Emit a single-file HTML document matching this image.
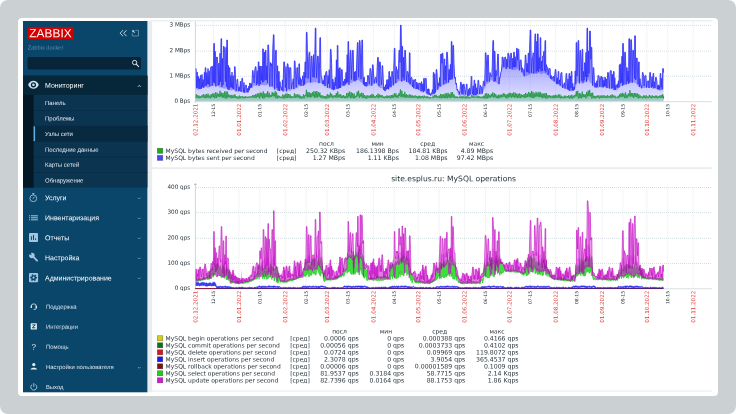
<!DOCTYPE html>
<html lang="ru"><head><meta charset="utf-8"><title>Zabbix</title>
<style>html,body{margin:0;padding:0;background:#fff;}
body{width:736px;height:414px;overflow:hidden;}
svg{display:block;}
.l{font-family:"Liberation Sans",sans-serif;}
.d{font-family:"DejaVu Sans","Liberation Sans",sans-serif;}
</style></head>
<body>
<svg width="736" height="414" viewBox="0 0 736 414">
<defs><clipPath id="cp"><rect x="152" y="21.4" width="559.9" height="370"/></clipPath></defs>
<rect x="0" y="0" width="736" height="414" rx="8" fill="#cbd0d2"/>
<rect x="18" y="18" width="700" height="378" rx="4" fill="#fff"/>
<rect x="147.4" y="21" width="4.7" height="371.3" fill="#eaedf0"/>
<rect x="150.5" y="20.1" width="561.3" height="1.4" fill="#ebeef0"/>
<rect x="152" y="167.3" width="559.8" height="1.6" fill="#e9ecef"/>
<rect x="150.5" y="390.4" width="561.3" height="1.3" fill="#ebeef0"/>
<rect x="23" y="21" width="124.4" height="371.3" fill="#0a466a"/>
<rect x="27.6" y="26.9" width="45.7" height="12.3" fill="#d40000"/>
<text class="l" transform="translate(50.5 37.3) rotate(0.03)" font-size="11.8" fill="#fff" text-anchor="middle" letter-spacing="0.12">ZABBIX</text>
<text class="l" transform="translate(27.7 49.4) rotate(0.03)" font-size="5.7" fill="#5a8db3">Zabbix docker</text>
<rect x="27.6" y="57" width="113.4" height="12.4" rx="1.5" fill="#082438"/>
<rect x="23" y="75.6" width="124.4" height="112" fill="#0b3451"/>
<rect x="23" y="75.6" width="124.4" height="19.2" fill="#062639"/>
<rect x="23" y="94.8" width="10.6" height="92.8" fill="#031824"/>
<rect x="33.6" y="126" width="113.8" height="15.45" fill="#072a41"/>
<rect x="33.6" y="126" width="1.5" height="15.45" fill="#66aee0"/>
<rect x="33.6" y="110.25" width="113.8" height="0.7" fill="#082b44"/>
<rect x="33.6" y="125.7" width="113.8" height="0.7" fill="#082b44"/>
<rect x="33.6" y="141.15" width="113.8" height="0.7" fill="#082b44"/>
<rect x="33.6" y="156.6" width="113.8" height="0.7" fill="#082b44"/>
<rect x="33.6" y="172.05" width="113.8" height="0.7" fill="#082b44"/>
<text class="l" transform="translate(45 87.85) rotate(0.03)" font-size="7" fill="#fff">Мониторинг</text>
<text class="l" transform="translate(45 200.25) rotate(0.03)" font-size="7" fill="#fff">Услуги</text>
<text class="l" transform="translate(45 220.25) rotate(0.03)" font-size="7" fill="#fff">Инвентаризация</text>
<text class="l" transform="translate(45 240.35) rotate(0.03)" font-size="7" fill="#fff">Отчеты</text>
<text class="l" transform="translate(45 260.35) rotate(0.03)" font-size="7" fill="#fff">Настройка</text>
<text class="l" transform="translate(45 280.45) rotate(0.03)" font-size="7" fill="#fff">Администрирование</text>
<text class="l" transform="translate(45 105.1) rotate(0.03)" font-size="6" fill="#e8ebf1">Панель</text>
<text class="l" transform="translate(45 120.6) rotate(0.03)" font-size="6" fill="#e8ebf1">Проблемы</text>
<text class="l" transform="translate(45 135.9) rotate(0.03)" font-size="6" fill="#e8ebf1">Узлы сети</text>
<text class="l" transform="translate(45 151.7) rotate(0.03)" font-size="6" fill="#e8ebf1">Последние данные</text>
<text class="l" transform="translate(45 166.7) rotate(0.03)" font-size="6" fill="#e8ebf1">Карты сетей</text>
<text class="l" transform="translate(45 182.6) rotate(0.03)" font-size="6" fill="#e8ebf1">Обнаружение</text>
<text class="l" transform="translate(45.9 308.7) rotate(0.03)" font-size="5.9" fill="#dde6ee">Поддержка</text>
<text class="l" transform="translate(45.9 328.8) rotate(0.03)" font-size="5.9" fill="#dde6ee">Интеграции</text>
<text class="l" transform="translate(45.9 348.8) rotate(0.03)" font-size="5.9" fill="#dde6ee">Помощь</text>
<text class="l" transform="translate(45.9 368.9) rotate(0.03)" font-size="5.9" fill="#dde6ee">Настройки пользователя</text>
<text class="l" transform="translate(45.9 388.9) rotate(0.03)" font-size="5.9" fill="#dde6ee">Выход</text>
<path d="M123 30.2 L120.2 33.2 L123 36.2 M126.5 30.2 L123.7 33.2 L126.5 36.2" fill="none" stroke="#e2ecf3" stroke-width="0.85"/>
<path d="M135.2 30.3 H138.5 V36 H132.3 V33.2" fill="none" stroke="#7fa6c2" stroke-width="0.7"/><path d="M132.3 30.3 h2.2 l-0.8 0.8 1.3 1.3 -0.6 0.6 -1.3 -1.3 -0.8 0.8z" fill="#d6e4ee"/>
<circle cx="134.6" cy="62.5" r="2.15" fill="none" stroke="#e8eff4" stroke-width="0.9"/><path d="M136.2 64.2 L138.9 66.9" stroke="#e8eff4" stroke-width="1.05" fill="none"/>
<path d="M28.1 84.8 C30.2 79.4 36.7 79.4 38.8 84.8 C36.7 90.2 30.2 90.2 28.1 84.8Z" fill="#cfe0ec"/><circle cx="33.45" cy="84.8" r="2.6" fill="#062639"/><circle cx="33.45" cy="84.8" r="1.3" fill="#cfe0ec"/>
<path d="M137.9 86.8 l1.4 -1.4 1.4 1.4" fill="none" stroke="#d5e2ec" stroke-width="0.9"/>
<path d="M138 197.7 l1.3 1.3 1.3 -1.3" fill="none" stroke="#a9c4d8" stroke-width="0.6"/>
<path d="M138 217.7 l1.3 1.3 1.3 -1.3" fill="none" stroke="#a9c4d8" stroke-width="0.6"/>
<path d="M138 237.7 l1.3 1.3 1.3 -1.3" fill="none" stroke="#a9c4d8" stroke-width="0.6"/>
<path d="M138 257.7 l1.3 1.3 1.3 -1.3" fill="none" stroke="#a9c4d8" stroke-width="0.6"/>
<path d="M138 277.7 l1.3 1.3 1.3 -1.3" fill="none" stroke="#a9c4d8" stroke-width="0.6"/>
<path d="M138 367 l1.3 1.3 1.3 -1.3" fill="none" stroke="#a9c4d8" stroke-width="0.6"/>
<circle cx="33.3" cy="198.3" r="3.4" fill="none" stroke="#a3c5dd" stroke-width="0.85"/><path d="M32.2 193.5 h2.2 M33.3 193.8 v1.2 M32.7 198.9 l1.9 -2.1" stroke="#a3c5dd" stroke-width="0.85" fill="none"/>
<rect x="29" y="215.3" width="1" height="1" fill="#a3c5dd"/>
<rect x="30.9" y="215.3" width="7" height="1" fill="#a3c5dd"/>
<rect x="29" y="217.3" width="1" height="1" fill="#a3c5dd"/>
<rect x="30.9" y="217.3" width="7" height="1" fill="#a3c5dd"/>
<rect x="29" y="219.3" width="1" height="1" fill="#a3c5dd"/>
<rect x="30.9" y="219.3" width="7" height="1" fill="#a3c5dd"/>
<rect x="29" y="233" width="9" height="9" rx="0.9" fill="#a3c5dd"/>
<rect x="30.9" y="236.3" width="1" height="3.6" fill="#0a466a"/>
<rect x="33" y="235" width="1" height="4.9" fill="#0a466a"/>
<rect x="35.1" y="238.4" width="1" height="1.5" fill="#0a466a"/>
<path d="M32.6 256.2 L37.1 260.7" stroke="#a3c5dd" stroke-width="1.9" stroke-linecap="round" fill="none"/>
<circle cx="31.9" cy="255.5" r="2.75" fill="#a3c5dd"/>
<path d="M31.6 255.2 L30.6 251.6 L27.6 253.4 Z" fill="#0a466a"/>
<rect x="29" y="273.1" width="9.1" height="9.1" rx="0.9" fill="#a3c5dd"/>
<circle cx="33.55" cy="277.65" r="2.7" fill="none" stroke="#0a466a" stroke-width="1.5" stroke-dasharray="1.414 1.414" transform="rotate(-15 33.55 277.65)"/>
<circle cx="33.55" cy="277.65" r="2.5" fill="#0a466a"/><circle cx="33.55" cy="277.65" r="1.05" fill="#a3c5dd"/>
<path d="M31.2 306.4 a2.55 2.55 0 0 1 5.1 0 v1.6 a1.4 1.4 0 0 1 -1.4 1.4 h-1.2" fill="none" stroke="#e4edf3" stroke-width="0.8"/>
<rect x="30.6" y="305.7" width="1.3" height="2.3" rx="0.3" fill="#e4edf3"/>
<rect x="35.6" y="305.7" width="1.3" height="2.3" rx="0.3" fill="#e4edf3"/>
<rect x="30.7" y="323.2" width="6.2" height="6.2" rx="0.4" fill="#e4edf3"/>
<path d="M32.3 324.9 h3 l-3 2.9 h3" fill="none" stroke="#0a466a" stroke-width="1"/>
<text class="l" transform="translate(33.8 349.7) rotate(0.03)" font-size="8" fill="#e4edf3" text-anchor="middle">?</text>
<circle cx="33.8" cy="364.6" r="1.6" fill="#e4edf3"/><path d="M30.6 369.6 c0 -2.6 6.4 -2.6 6.4 0z" fill="#e4edf3"/>
<path d="M32.2 384.5 a3 3 0 1 0 3.2 0 M33.8 383.2 v3.6" fill="none" stroke="#e4edf3" stroke-width="0.7"/>
<g clip-path="url(#cp)">
<path d="M196 25.40 H711" stroke="#c3d0d6" stroke-width="0.7" stroke-dasharray="1 1" fill="none"/>
<text class="d" transform="translate(190.3 26.6) rotate(0.03)" font-size="5.7" fill="#1f2c33" text-anchor="end">3 MBps</text>
<path d="M196 51.15 H711" stroke="#c3d0d6" stroke-width="0.7" stroke-dasharray="1 1" fill="none"/>
<text class="d" transform="translate(190.3 52.35) rotate(0.03)" font-size="5.7" fill="#1f2c33" text-anchor="end">2 MBps</text>
<path d="M196 76.30 H711" stroke="#c3d0d6" stroke-width="0.7" stroke-dasharray="1 1" fill="none"/>
<text class="d" transform="translate(190.3 77.5) rotate(0.03)" font-size="5.7" fill="#1f2c33" text-anchor="end">1 MBps</text>
<text class="d" transform="translate(190.3 102.7) rotate(0.03)" font-size="5.7" fill="#1f2c33" text-anchor="end">0 Bps</text>
<text class="d" transform="translate(197.4 103.6) rotate(-90.03)" font-size="5.6" fill="#e33734" text-anchor="end">02.12.2021</text>
<path d="M213.50 21 V101.5" stroke="#d3dce1" stroke-width="0.9" stroke-opacity="0.5" stroke-dasharray="1.3 0.7" fill="none"/>
<text class="d" transform="translate(215.05 103.9) rotate(-90.03)" font-size="4.5" fill="#1f2c33" text-anchor="end">12-15</text>
<path d="M238.90 21 V101.5" stroke="#d3dce1" stroke-width="0.9" stroke-opacity="0.5" stroke-dasharray="1.3 0.7" fill="none"/>
<text class="d" transform="translate(240.9 103.6) rotate(-90.03)" font-size="5.6" fill="#e33734" text-anchor="end">01.01.2022</text>
<path d="M259.82 21 V101.5" stroke="#d3dce1" stroke-width="0.9" stroke-opacity="0.5" stroke-dasharray="1.3 0.7" fill="none"/>
<text class="d" transform="translate(261.37 103.9) rotate(-90.03)" font-size="4.5" fill="#1f2c33" text-anchor="end">01-15</text>
<path d="M285.23 21 V101.5" stroke="#d3dce1" stroke-width="0.9" stroke-opacity="0.5" stroke-dasharray="1.3 0.7" fill="none"/>
<text class="d" transform="translate(287.23 103.6) rotate(-90.03)" font-size="5.6" fill="#e33734" text-anchor="end">01.02.2022</text>
<path d="M306.15 21 V101.5" stroke="#d3dce1" stroke-width="0.9" stroke-opacity="0.5" stroke-dasharray="1.3 0.7" fill="none"/>
<text class="d" transform="translate(307.7 103.9) rotate(-90.03)" font-size="4.5" fill="#1f2c33" text-anchor="end">02-15</text>
<path d="M327.07 21 V101.5" stroke="#d3dce1" stroke-width="0.9" stroke-opacity="0.5" stroke-dasharray="1.3 0.7" fill="none"/>
<text class="d" transform="translate(329.07 103.6) rotate(-90.03)" font-size="5.6" fill="#e33734" text-anchor="end">01.03.2022</text>
<path d="M347.99 21 V101.5" stroke="#d3dce1" stroke-width="0.9" stroke-opacity="0.5" stroke-dasharray="1.3 0.7" fill="none"/>
<text class="d" transform="translate(349.54 103.9) rotate(-90.03)" font-size="4.5" fill="#1f2c33" text-anchor="end">03-15</text>
<path d="M373.40 21 V101.5" stroke="#d3dce1" stroke-width="0.9" stroke-opacity="0.5" stroke-dasharray="1.3 0.7" fill="none"/>
<text class="d" transform="translate(375.4 103.6) rotate(-90.03)" font-size="5.6" fill="#e33734" text-anchor="end">01.04.2022</text>
<path d="M394.32 21 V101.5" stroke="#d3dce1" stroke-width="0.9" stroke-opacity="0.5" stroke-dasharray="1.3 0.7" fill="none"/>
<text class="d" transform="translate(395.87 103.9) rotate(-90.03)" font-size="4.5" fill="#1f2c33" text-anchor="end">04-15</text>
<path d="M418.23 21 V101.5" stroke="#d3dce1" stroke-width="0.9" stroke-opacity="0.5" stroke-dasharray="1.3 0.7" fill="none"/>
<text class="d" transform="translate(420.23 103.6) rotate(-90.03)" font-size="5.6" fill="#e33734" text-anchor="end">01.05.2022</text>
<path d="M439.15 21 V101.5" stroke="#d3dce1" stroke-width="0.9" stroke-opacity="0.5" stroke-dasharray="1.3 0.7" fill="none"/>
<text class="d" transform="translate(440.7 103.9) rotate(-90.03)" font-size="4.5" fill="#1f2c33" text-anchor="end">05-15</text>
<path d="M464.55 21 V101.5" stroke="#d3dce1" stroke-width="0.9" stroke-opacity="0.5" stroke-dasharray="1.3 0.7" fill="none"/>
<text class="d" transform="translate(466.55 103.6) rotate(-90.03)" font-size="5.6" fill="#e33734" text-anchor="end">01.06.2022</text>
<path d="M485.48 21 V101.5" stroke="#d3dce1" stroke-width="0.9" stroke-opacity="0.5" stroke-dasharray="1.3 0.7" fill="none"/>
<text class="d" transform="translate(487.03 103.9) rotate(-90.03)" font-size="4.5" fill="#1f2c33" text-anchor="end">06-15</text>
<path d="M509.39 21 V101.5" stroke="#d3dce1" stroke-width="0.9" stroke-opacity="0.5" stroke-dasharray="1.3 0.7" fill="none"/>
<text class="d" transform="translate(511.39 103.6) rotate(-90.03)" font-size="5.6" fill="#e33734" text-anchor="end">01.07.2022</text>
<path d="M530.31 21 V101.5" stroke="#d3dce1" stroke-width="0.9" stroke-opacity="0.5" stroke-dasharray="1.3 0.7" fill="none"/>
<text class="d" transform="translate(531.86 103.9) rotate(-90.03)" font-size="4.5" fill="#1f2c33" text-anchor="end">07-15</text>
<path d="M555.71 21 V101.5" stroke="#d3dce1" stroke-width="0.9" stroke-opacity="0.5" stroke-dasharray="1.3 0.7" fill="none"/>
<text class="d" transform="translate(557.71 103.6) rotate(-90.03)" font-size="5.6" fill="#e33734" text-anchor="end">01.08.2022</text>
<path d="M576.63 21 V101.5" stroke="#d3dce1" stroke-width="0.9" stroke-opacity="0.5" stroke-dasharray="1.3 0.7" fill="none"/>
<text class="d" transform="translate(578.18 103.9) rotate(-90.03)" font-size="4.5" fill="#1f2c33" text-anchor="end">08-15</text>
<path d="M602.04 21 V101.5" stroke="#d3dce1" stroke-width="0.9" stroke-opacity="0.5" stroke-dasharray="1.3 0.7" fill="none"/>
<text class="d" transform="translate(604.04 103.6) rotate(-90.03)" font-size="5.6" fill="#e33734" text-anchor="end">01.09.2022</text>
<path d="M622.96 21 V101.5" stroke="#d3dce1" stroke-width="0.9" stroke-opacity="0.5" stroke-dasharray="1.3 0.7" fill="none"/>
<text class="d" transform="translate(624.51 103.9) rotate(-90.03)" font-size="4.5" fill="#1f2c33" text-anchor="end">09-15</text>
<path d="M646.87 21 V101.5" stroke="#d3dce1" stroke-width="0.9" stroke-opacity="0.5" stroke-dasharray="1.3 0.7" fill="none"/>
<text class="d" transform="translate(648.87 103.6) rotate(-90.03)" font-size="5.6" fill="#e33734" text-anchor="end">01.10.2022</text>
<path d="M667.79 21 V101.5" stroke="#d3dce1" stroke-width="0.9" stroke-opacity="0.5" stroke-dasharray="1.3 0.7" fill="none"/>
<text class="d" transform="translate(669.34 103.9) rotate(-90.03)" font-size="4.5" fill="#1f2c33" text-anchor="end">10-15</text>
<path d="M693.20 21 V101.5" stroke="#d3dce1" stroke-width="0.9" stroke-opacity="0.5" stroke-dasharray="1.3 0.7" fill="none"/>
<text class="d" transform="translate(695.2 103.6) rotate(-90.03)" font-size="5.6" fill="#e33734" text-anchor="end">01.11.2022</text>
<defs><linearGradient id="gb" gradientUnits="userSpaceOnUse" x1="0" y1="30" x2="0" y2="101"><stop offset="0" stop-color="#4a4aff" stop-opacity="0.7"/><stop offset="0.5" stop-color="#5252ff" stop-opacity="0.5"/><stop offset="0.8" stop-color="#6060ff" stop-opacity="0.32"/><stop offset="1" stop-color="#7070ff" stop-opacity="0.2"/></linearGradient><linearGradient id="gg" gradientUnits="userSpaceOnUse" x1="0" y1="88" x2="0" y2="101"><stop offset="0" stop-color="#00aa00" stop-opacity="0.7"/><stop offset="1" stop-color="#2a9a5a" stop-opacity="0.28"/></linearGradient></defs>
<path d="M195.4 101.5 195.5 68.6 196.1 68.6 196.6 87.7 197.2 72 197.8 87.9 198.4 76.3 199 89.1 199.6 78.6 200.2 88.9 200.3 75.4 200.9 75.4 201.4 88.6 202 74.4 202.6 87.2 203.2 79.6 203.8 87.9 204.4 72.3 205 85.8 205.2 67.7 205.8 67.7 206.2 85.8 206.8 72.5 207.4 84.1 208 68.5 208.6 84.3 209.2 70.9 209.8 86.6 210.4 68.8 211 66.7 211.6 66.7 212.2 86 212.8 65.9 213.4 82.4 213.8 43.5 214.4 43.5 214.6 83.1 215.2 51.3 215.8 86.4 216.4 59 216.7 57 217.3 57 217.6 63.4 218.2 85.5 218.8 63.1 219.4 84.6 220 53.2 220.6 81.7 221 38.7 221.6 38.7 221.8 86.9 222.4 58.5 223 85.1 223.5 46.4 224.1 46.4 224.8 53.4 225.4 81.7 226 47.2 226.6 86.7 226.8 40 227.4 40 227.8 89.3 228.4 65.3 229 90.1 229.3 67.7 229.9 67.7 230.2 87.5 230.8 75.5 231.4 87.3 232 72.1 232.6 88.4 233.2 75.7 233.8 89.2 234.4 73.9 234.5 66.7 235.1 66.7 235.6 82.3 236.2 90.9 236.8 82.7 237 79.3 237.6 79.3 238 84.6 238.6 91.2 239.2 86.8 239.8 90.7 240.4 81.2 241 91.8 241.6 84.1 241.9 78.3 242.5 78.3 242.8 83.1 243.4 92.4 244 82.5 244.6 92.6 245.2 87.6 245.7 85.1 246.3 85.1 247 92 247.6 88.4 248.2 92.2 248.8 86 249.4 90.1 249.6 83.1 250.2 83.1 250.6 87.9 251.2 83.5 251.8 87.6 252.5 70.6 253.1 70.6 253.6 78.5 254.2 83 254.8 70 255.4 66.7 256 66.7 256.6 85.2 257.2 70.7 257.8 83.6 258.3 61.9 258.9 61.9 259 86 259.6 66.1 260.2 84.1 260.8 66 261.4 80.3 262 66 262.6 82.7 262.7 48.9 263.3 48.9 263.8 81.6 264.4 52.1 265 80.2 265.4 50.3 266 50.3 266.2 80 266.8 65.8 267.4 83.1 267.9 44.9 268.5 44.9 269.2 65 269.8 86.6 270.4 62.4 270.8 65.7 271.4 65.7 271.6 63.6 272.2 86.2 272.8 48.4 273.4 34.8 274 34.8 274.6 89.4 275.2 55.9 275.7 50.3 276.3 50.3 276.4 72.5 277 88 277.6 65.7 278.2 90.7 278.6 71.5 279.2 71.5 279.4 91 280 81.6 280.5 87 281.1 87 281.8 90.3 282.4 79.8 283 91.4 283.6 68 283.8 61.9 284.4 61.9 284.8 67.6 285.4 87.5 286 66.6 286.6 91.5 287.3 63.8 287.9 63.8 288.4 68 289 88.9 289.6 67.8 290.2 67.7 290.8 67.7 291.4 88.8 292.1 83.1 292.7 83.1 293.2 78.7 293.8 89.1 294.4 60.9 295 60.9 295.6 75.2 296.2 87.4 296.8 70 296.9 67.7 297.5 67.7 298 78.7 298.6 84.2 298.9 63.8 299.5 63.8 299.8 84.6 300.4 77.6 301 86 301.6 79.7 301.8 79.3 302.4 79.3 302.8 75.7 303.4 85.6 304 72 304.6 84.4 305 61.9 305.6 61.9 305.8 77.8 306.4 32.3 307 32.3 307.6 65.6 308.2 78.5 308.8 56.6 309.1 52.2 309.7 52.2 310 58.2 310.6 82.6 311.2 59.4 311.4 56.1 312 56.1 312.4 68 313 77.1 313.6 54.6 314.2 77.6 314.8 57.2 315.3 28.1 315.9 28.1 316 53.2 316.6 77.8 317.2 64.2 317.6 56.1 318.2 56.1 318.4 61.5 319 83 319.6 62 319.9 37.7 320.5 37.7 320.8 68.5 321.3 77.3 321.9 77.3 322 78.4 322.6 84 323.2 80.4 323.8 84 324.4 75.3 325 86.1 325.6 74 326.1 71.5 326.7 71.5 327.4 87.7 328 75.4 328.6 83.7 329.2 69.7 329.8 87.9 330.4 49.3 331 49.3 331.6 63.7 332.2 89.1 332.5 79.3 333.1 79.3 333.4 90 334 82.2 334.6 89.3 335.2 77.3 335.8 85.8 336.4 59.8 337 88.8 337.3 45.4 337.9 45.4 338.2 88.5 338.8 68.5 339.4 88 339.6 67.7 340.2 67.7 340.6 87.8 341.2 79.1 341.6 69.6 342.2 69.6 342.4 75.9 343 85.7 343.6 81.3 344.2 85.6 344.5 79.3 345.1 79.3 345.4 84.2 346 72.4 346.6 82.8 347.2 54.6 347.8 82.2 348 41.6 348.6 41.6 349 84.9 349.6 64.7 350.3 50.3 350.9 50.3 351.4 79.5 352 61.7 352.6 50.3 353.2 50.3 353.8 80.4 354.4 71.9 355 81.4 355.1 71.5 355.7 71.5 356.2 80.3 356.8 59.2 357.4 42.6 358 42.6 358.6 77.3 359.2 59.2 359.4 40.6 360 40.6 360.4 52.2 361 79.1 361.6 53.9 361.9 40 362.5 40 362.8 65.7 363.4 84.4 363.8 77.3 364.4 77.3 364.6 85.6 365.2 82 365.8 86.2 366.4 82 367 85.5 367.7 75.4 368.3 75.4 368.8 80.6 369.4 84.1 370 68.6 370.6 68.6 371.2 72.4 371.8 85.6 372.5 64.8 373.1 64.8 373.6 75 374.2 83.1 374.8 79.2 375.4 77.3 376 77.3 376.6 82.6 377.2 66.7 377.7 57.4 378.3 57.4 379 86.1 379.6 61.9 380.2 61.9 380.8 70.7 381.4 84.8 382 76.7 382.1 65.7 382.7 65.7 383.2 78.2 383.8 90 384.1 87 384.7 87 385 91.1 385.6 84.7 386.2 89.6 386.8 79.7 387.4 88.8 388 79.4 388.6 89.3 388.9 71.5 389.5 71.5 389.8 86.5 390.4 76.7 391 87.2 391.6 80.5 391.8 71.5 392.4 71.5 392.8 77.2 393.4 85.3 394 59.9 394.3 48.3 394.9 48.3 395.2 68 395.8 83 396.4 66.7 396.6 69.6 397.2 69.6 397.6 74.3 398.2 79.1 398.8 59.3 399 50.3 399.6 50.3 400 62.4 400.5 25.2 401.1 25.2 401.8 81.5 402 46.4 402.6 46.4 403 77.4 403.6 57.2 404.2 80.5 404.8 50.3 405.4 50.3 406 69.1 406.6 82 407.3 71.5 407.9 71.5 408.4 73.9 409 82.6 409.4 52.8 410 52.8 410.2 84.2 410.8 77.8 411.1 77.3 411.7 77.3 412 78.4 412.6 87 413.2 79.7 413.8 88.3 414.4 79.9 415 79.3 415.6 79.3 416.2 89 416.8 82.1 417.4 88.8 418 82.9 418.6 89.7 419.2 83.3 419.8 83.1 420.4 83.1 421 91.1 421.6 81.6 422.2 90.5 422.8 83.8 423.4 92.2 423.7 78.3 424.3 78.3 424.6 90.7 425.2 79.6 425.6 78.3 426.2 78.3 426.4 83.7 427 93.3 427.6 89.1 428.2 94.3 428.5 88.9 429.1 88.9 429.4 94.6 430 93.1 430.6 95.6 431.2 93.8 431.4 92.8 432 92.8 432.4 89.6 433 93.9 433.3 72.5 433.9 72.5 434.2 93.9 434.8 73.8 435.4 92.5 436 80 436.2 69.6 436.8 69.6 437.2 76.2 437.8 89.5 438.2 83.1 438.8 83.1 439 85.7 439.6 77.5 440.2 86.5 440.7 54.1 440.9 54.1 441.3 54.1 441.5 54.1 442 63.3 442.3 53.2 442.9 53.2 443.2 63.9 443.8 84.5 444.2 59 444.8 59 445 80.1 445.6 65.7 446.2 83.2 446.7 52.2 447.3 52.2 448 65.2 448.6 82.6 449 69.6 449.6 69.6 449.8 79.8 450.4 64.4 451 79.5 451.3 41.6 451.9 41.6 452.2 79.3 452.9 45.4 453.5 45.4 454 63.5 454.6 78.2 454.8 77.3 455.4 77.3 455.8 84.2 456.4 83.2 457 90.1 457.6 89.2 457.7 90.9 458.3 90.9 458.8 91.1 459.4 94.3 460 90.4 460.6 82.2 461.2 82.2 461.8 93.7 462.4 84.5 463 94.5 463.5 84.1 464.1 84.1 464.8 89.9 465.4 94.4 466 88.6 466.4 84.1 467 84.1 467.2 90.2 467.8 96 468.4 89.4 469 95.5 469.3 88 469.9 88 470.2 94.2 470.8 88.3 471.2 76.4 471.8 76.4 472 87.1 472.6 94.1 473.2 85.8 473.8 95.3 474.1 80.2 474.7 80.2 475 95.4 475.6 83.8 476.2 95.3 476.8 87.7 477.4 93.9 478 80.2 478.6 80.2 479.2 87.5 479.8 94.1 480.4 85.3 480.9 87 481.5 87 481.6 89.8 482.2 93.6 482.8 86.9 483.4 81.2 484 81.2 484.6 85.8 485.2 64.6 485.3 52.8 485.9 52.8 486.4 59.7 487 81.6 487.7 55.1 488.3 55.1 488.8 74 489.4 81.5 490 72.5 490.6 75.4 491.2 75.4 491.8 76.8 492.4 62.8 492.9 40.6 493.5 40.6 493.6 46.7 494.2 81.7 494.4 51.2 495 51.2 495.4 80.9 496 70.3 496.4 75.4 497 75.4 497.2 67.5 497.7 54.1 498.3 54.1 499 84.1 499.6 77.3 500.2 77.3 500.8 72.3 501.4 71 502 63.8 502.1 57 502.7 57 503.2 58.1 503.8 66.9 504.4 58.6 505 57 505.6 57 506.2 69.1 506.8 59 507.4 67 507.9 53.2 508.5 53.2 509.2 56.1 509.8 68.9 510.4 62.1 510.8 53.2 511.4 53.2 511.6 58.8 512.2 69.4 512.8 58.1 513.4 67 513.7 52.2 514.3 52.2 514.6 67.3 515.2 56.7 515.8 67 516.4 57.9 516.6 48.3 517.2 48.3 517.6 60.1 518.2 49.3 518.8 49.3 519.4 70.4 520 60.5 520.5 59.9 521.1 59.9 521.8 72.2 522.4 67.7 522.8 69.6 523.4 69.6 523.6 70.6 524.2 76.3 524.8 67.1 525.3 55.1 525.9 55.1 526.6 72.2 527.2 63.2 527.8 72 528.2 53.2 528.8 53.2 529 73.2 529.6 49.2 530.2 30 530.8 30 531.4 73.1 532.1 58 532.7 58 533.2 52.7 533.8 73.6 534.4 57.4 535 33.9 535.6 33.9 536.2 72.6 536.8 41.3 537.4 70.9 537.5 33.9 538.1 33.9 538.6 72 539.2 57.4 539.8 68.8 540.2 37.7 540.8 37.7 541 71.3 541.6 61 542.2 71 542.7 56.1 543.3 56.1 544 51.1 544.6 70.6 545 40.6 545.6 40.6 545.8 72.4 546.4 64.6 546.6 66.7 547.2 66.7 547.6 67.5 548.2 75.1 548.8 68.7 549.5 68.6 550.1 68.6 550.6 78.6 551.2 75.4 551.8 79.4 552.4 77.3 553 77.3 553.6 76 554.2 81.4 554.8 74.3 555.3 69.6 555.9 69.6 556 71.4 556.6 83.8 557.2 77.8 557.8 83.9 558.2 71.5 558.8 71.5 559 83.7 559.6 79.9 560.2 85.7 560.8 73.8 561.3 72.5 561.9 72.5 562 76.1 562.6 88 563.2 85.1 563.8 85.1 564.4 82.7 565 88.6 565.6 83.5 566.1 73.5 566.7 73.5 567.4 89.3 568 78.9 568.6 89.7 569 73.5 569.6 73.5 569.8 90.9 570.4 76 571 88 571.3 71.5 571.9 71.5 572.2 90.3 572.8 83.4 573.4 90.6 573.8 87 574.4 87 574.6 89.5 575.2 70.9 575.8 84.1 576.2 42.6 576.8 42.6 577 76.1 577.6 62.2 578.1 40.6 578.7 40.6 579.4 83.4 580 50.3 580.6 50.3 581.2 59.9 581.8 80.7 582.2 49.3 582.8 49.3 583 82.5 583.6 71.3 584.2 80.3 584.5 62.8 585.1 62.8 585.4 76.7 586 52.4 586.6 81.7 587 28.1 587.6 28.1 587.8 77.1 588.4 50.8 589 73.3 589.7 31 590.3 31 590.8 59.3 591.2 47.4 591.8 47.4 592 63.1 592.6 85.6 593.2 67.7 593.8 67.7 594.4 81.4 595 87.1 595.1 83.1 595.7 83.1 596.2 87.6 596.8 80.7 597.4 86.6 598 75.4 598.6 75.4 599.2 76.5 599.8 86.8 600.4 80.2 600.9 76.4 601.5 76.4 601.6 78.1 602.2 86.7 602.8 77.1 603.4 87.3 604 80 604.6 86.1 604.8 77.3 605.4 77.3 605.8 86.3 606.4 78.9 607 88 607.7 72.5 608.3 72.5 608.8 79 609.4 88.3 610 71.9 610.6 70.6 611.2 70.6 611.8 88.5 612.4 74.3 613 87.9 613.5 71.5 614.1 71.5 614.2 89.7 614.8 77.7 615.4 89.9 616 85.2 616.4 87 617 87 617.2 83.8 617.8 87.8 618.4 80.8 619 87.3 619.3 64.8 619.9 64.8 620.2 83.4 620.8 63.7 621.4 82.6 622 56.1 622.6 85.8 622.7 43.5 623.3 43.5 623.8 84.6 624.4 70.1 624.7 52.2 625.3 52.2 625.6 61.3 626.2 84.3 626.6 67.7 627.2 67.7 627.4 81.3 628 71 628.6 83.7 628.9 38.7 629.5 38.7 629.8 82.7 630.4 64.8 630.8 39.7 631.4 39.7 631.6 45.1 632.2 82.8 632.8 50.3 633.4 50.3 634 64 634.6 78.6 634.7 35.8 635.3 35.8 635.8 79.9 636.4 59.1 636.6 58 637.2 58 637.6 74.1 638.2 84.2 638.6 61.9 639.2 61.9 639.4 86.9 640 78.5 640.5 85.1 641.1 85.1 641.8 88.3 642.4 72.5 643 72.5 643.6 76.8 644.2 86.2 644.8 75.9 645.3 75.4 645.9 75.4 646.6 87.6 647.3 81.2 647.9 81.2 648.4 80.8 649 88 649.6 78.1 649.8 72.5 650.4 72.5 650.8 80.8 651.4 87.8 652 76.6 652.6 86.4 653.1 73.5 653.7 73.5 653.8 88.2 654.4 81.7 655 87.9 655.6 77.3 656.2 77.3 656.8 80.9 657.4 89.3 657.9 85.1 658.5 85.1 658.6 89.3 659.2 85.5 659.8 89.7 660.2 73.5 660.8 73.5 661 87.3 661.6 78.4 662.2 89.4 662.7 68.6 663.3 68.6 663.6 72.6 663.6 101.5 Z" fill="url(#gb)" stroke="none"/>
<path d="M195.5 68.6 196.1 68.6 196.6 87.7 197.2 72 197.8 87.9 198.4 76.3 199 89.1 199.6 78.6 200.2 88.9 200.3 75.4 200.9 75.4 201.4 88.6 202 74.4 202.6 87.2 203.2 79.6 203.8 87.9 204.4 72.3 205 85.8 205.2 67.7 205.8 67.7 206.2 85.8 206.8 72.5 207.4 84.1 208 68.5 208.6 84.3 209.2 70.9 209.8 86.6 210.4 68.8 211 66.7 211.6 66.7 212.2 86 212.8 65.9 213.4 82.4 213.8 43.5 214.4 43.5 214.6 83.1 215.2 51.3 215.8 86.4 216.4 59 216.7 57 217.3 57 217.6 63.4 218.2 85.5 218.8 63.1 219.4 84.6 220 53.2 220.6 81.7 221 38.7 221.6 38.7 221.8 86.9 222.4 58.5 223 85.1 223.5 46.4 224.1 46.4 224.8 53.4 225.4 81.7 226 47.2 226.6 86.7 226.8 40 227.4 40 227.8 89.3 228.4 65.3 229 90.1 229.3 67.7 229.9 67.7 230.2 87.5 230.8 75.5 231.4 87.3 232 72.1 232.6 88.4 233.2 75.7 233.8 89.2 234.4 73.9 234.5 66.7 235.1 66.7 235.6 82.3 236.2 90.9 236.8 82.7 237 79.3 237.6 79.3 238 84.6 238.6 91.2 239.2 86.8 239.8 90.7 240.4 81.2 241 91.8 241.6 84.1 241.9 78.3 242.5 78.3 242.8 83.1 243.4 92.4 244 82.5 244.6 92.6 245.2 87.6 245.7 85.1 246.3 85.1 247 92 247.6 88.4 248.2 92.2 248.8 86 249.4 90.1 249.6 83.1 250.2 83.1 250.6 87.9 251.2 83.5 251.8 87.6 252.5 70.6 253.1 70.6 253.6 78.5 254.2 83 254.8 70 255.4 66.7 256 66.7 256.6 85.2 257.2 70.7 257.8 83.6 258.3 61.9 258.9 61.9 259 86 259.6 66.1 260.2 84.1 260.8 66 261.4 80.3 262 66 262.6 82.7 262.7 48.9 263.3 48.9 263.8 81.6 264.4 52.1 265 80.2 265.4 50.3 266 50.3 266.2 80 266.8 65.8 267.4 83.1 267.9 44.9 268.5 44.9 269.2 65 269.8 86.6 270.4 62.4 270.8 65.7 271.4 65.7 271.6 63.6 272.2 86.2 272.8 48.4 273.4 34.8 274 34.8 274.6 89.4 275.2 55.9 275.7 50.3 276.3 50.3 276.4 72.5 277 88 277.6 65.7 278.2 90.7 278.6 71.5 279.2 71.5 279.4 91 280 81.6 280.5 87 281.1 87 281.8 90.3 282.4 79.8 283 91.4 283.6 68 283.8 61.9 284.4 61.9 284.8 67.6 285.4 87.5 286 66.6 286.6 91.5 287.3 63.8 287.9 63.8 288.4 68 289 88.9 289.6 67.8 290.2 67.7 290.8 67.7 291.4 88.8 292.1 83.1 292.7 83.1 293.2 78.7 293.8 89.1 294.4 60.9 295 60.9 295.6 75.2 296.2 87.4 296.8 70 296.9 67.7 297.5 67.7 298 78.7 298.6 84.2 298.9 63.8 299.5 63.8 299.8 84.6 300.4 77.6 301 86 301.6 79.7 301.8 79.3 302.4 79.3 302.8 75.7 303.4 85.6 304 72 304.6 84.4 305 61.9 305.6 61.9 305.8 77.8 306.4 32.3 307 32.3 307.6 65.6 308.2 78.5 308.8 56.6 309.1 52.2 309.7 52.2 310 58.2 310.6 82.6 311.2 59.4 311.4 56.1 312 56.1 312.4 68 313 77.1 313.6 54.6 314.2 77.6 314.8 57.2 315.3 28.1 315.9 28.1 316 53.2 316.6 77.8 317.2 64.2 317.6 56.1 318.2 56.1 318.4 61.5 319 83 319.6 62 319.9 37.7 320.5 37.7 320.8 68.5 321.3 77.3 321.9 77.3 322 78.4 322.6 84 323.2 80.4 323.8 84 324.4 75.3 325 86.1 325.6 74 326.1 71.5 326.7 71.5 327.4 87.7 328 75.4 328.6 83.7 329.2 69.7 329.8 87.9 330.4 49.3 331 49.3 331.6 63.7 332.2 89.1 332.5 79.3 333.1 79.3 333.4 90 334 82.2 334.6 89.3 335.2 77.3 335.8 85.8 336.4 59.8 337 88.8 337.3 45.4 337.9 45.4 338.2 88.5 338.8 68.5 339.4 88 339.6 67.7 340.2 67.7 340.6 87.8 341.2 79.1 341.6 69.6 342.2 69.6 342.4 75.9 343 85.7 343.6 81.3 344.2 85.6 344.5 79.3 345.1 79.3 345.4 84.2 346 72.4 346.6 82.8 347.2 54.6 347.8 82.2 348 41.6 348.6 41.6 349 84.9 349.6 64.7 350.3 50.3 350.9 50.3 351.4 79.5 352 61.7 352.6 50.3 353.2 50.3 353.8 80.4 354.4 71.9 355 81.4 355.1 71.5 355.7 71.5 356.2 80.3 356.8 59.2 357.4 42.6 358 42.6 358.6 77.3 359.2 59.2 359.4 40.6 360 40.6 360.4 52.2 361 79.1 361.6 53.9 361.9 40 362.5 40 362.8 65.7 363.4 84.4 363.8 77.3 364.4 77.3 364.6 85.6 365.2 82 365.8 86.2 366.4 82 367 85.5 367.7 75.4 368.3 75.4 368.8 80.6 369.4 84.1 370 68.6 370.6 68.6 371.2 72.4 371.8 85.6 372.5 64.8 373.1 64.8 373.6 75 374.2 83.1 374.8 79.2 375.4 77.3 376 77.3 376.6 82.6 377.2 66.7 377.7 57.4 378.3 57.4 379 86.1 379.6 61.9 380.2 61.9 380.8 70.7 381.4 84.8 382 76.7 382.1 65.7 382.7 65.7 383.2 78.2 383.8 90 384.1 87 384.7 87 385 91.1 385.6 84.7 386.2 89.6 386.8 79.7 387.4 88.8 388 79.4 388.6 89.3 388.9 71.5 389.5 71.5 389.8 86.5 390.4 76.7 391 87.2 391.6 80.5 391.8 71.5 392.4 71.5 392.8 77.2 393.4 85.3 394 59.9 394.3 48.3 394.9 48.3 395.2 68 395.8 83 396.4 66.7 396.6 69.6 397.2 69.6 397.6 74.3 398.2 79.1 398.8 59.3 399 50.3 399.6 50.3 400 62.4 400.5 25.2 401.1 25.2 401.8 81.5 402 46.4 402.6 46.4 403 77.4 403.6 57.2 404.2 80.5 404.8 50.3 405.4 50.3 406 69.1 406.6 82 407.3 71.5 407.9 71.5 408.4 73.9 409 82.6 409.4 52.8 410 52.8 410.2 84.2 410.8 77.8 411.1 77.3 411.7 77.3 412 78.4 412.6 87 413.2 79.7 413.8 88.3 414.4 79.9 415 79.3 415.6 79.3 416.2 89 416.8 82.1 417.4 88.8 418 82.9 418.6 89.7 419.2 83.3 419.8 83.1 420.4 83.1 421 91.1 421.6 81.6 422.2 90.5 422.8 83.8 423.4 92.2 423.7 78.3 424.3 78.3 424.6 90.7 425.2 79.6 425.6 78.3 426.2 78.3 426.4 83.7 427 93.3 427.6 89.1 428.2 94.3 428.5 88.9 429.1 88.9 429.4 94.6 430 93.1 430.6 95.6 431.2 93.8 431.4 92.8 432 92.8 432.4 89.6 433 93.9 433.3 72.5 433.9 72.5 434.2 93.9 434.8 73.8 435.4 92.5 436 80 436.2 69.6 436.8 69.6 437.2 76.2 437.8 89.5 438.2 83.1 438.8 83.1 439 85.7 439.6 77.5 440.2 86.5 440.7 54.1 440.9 54.1 441.3 54.1 441.5 54.1 442 63.3 442.3 53.2 442.9 53.2 443.2 63.9 443.8 84.5 444.2 59 444.8 59 445 80.1 445.6 65.7 446.2 83.2 446.7 52.2 447.3 52.2 448 65.2 448.6 82.6 449 69.6 449.6 69.6 449.8 79.8 450.4 64.4 451 79.5 451.3 41.6 451.9 41.6 452.2 79.3 452.9 45.4 453.5 45.4 454 63.5 454.6 78.2 454.8 77.3 455.4 77.3 455.8 84.2 456.4 83.2 457 90.1 457.6 89.2 457.7 90.9 458.3 90.9 458.8 91.1 459.4 94.3 460 90.4 460.6 82.2 461.2 82.2 461.8 93.7 462.4 84.5 463 94.5 463.5 84.1 464.1 84.1 464.8 89.9 465.4 94.4 466 88.6 466.4 84.1 467 84.1 467.2 90.2 467.8 96 468.4 89.4 469 95.5 469.3 88 469.9 88 470.2 94.2 470.8 88.3 471.2 76.4 471.8 76.4 472 87.1 472.6 94.1 473.2 85.8 473.8 95.3 474.1 80.2 474.7 80.2 475 95.4 475.6 83.8 476.2 95.3 476.8 87.7 477.4 93.9 478 80.2 478.6 80.2 479.2 87.5 479.8 94.1 480.4 85.3 480.9 87 481.5 87 481.6 89.8 482.2 93.6 482.8 86.9 483.4 81.2 484 81.2 484.6 85.8 485.2 64.6 485.3 52.8 485.9 52.8 486.4 59.7 487 81.6 487.7 55.1 488.3 55.1 488.8 74 489.4 81.5 490 72.5 490.6 75.4 491.2 75.4 491.8 76.8 492.4 62.8 492.9 40.6 493.5 40.6 493.6 46.7 494.2 81.7 494.4 51.2 495 51.2 495.4 80.9 496 70.3 496.4 75.4 497 75.4 497.2 67.5 497.7 54.1 498.3 54.1 499 84.1 499.6 77.3 500.2 77.3 500.8 72.3 501.4 71 502 63.8 502.1 57 502.7 57 503.2 58.1 503.8 66.9 504.4 58.6 505 57 505.6 57 506.2 69.1 506.8 59 507.4 67 507.9 53.2 508.5 53.2 509.2 56.1 509.8 68.9 510.4 62.1 510.8 53.2 511.4 53.2 511.6 58.8 512.2 69.4 512.8 58.1 513.4 67 513.7 52.2 514.3 52.2 514.6 67.3 515.2 56.7 515.8 67 516.4 57.9 516.6 48.3 517.2 48.3 517.6 60.1 518.2 49.3 518.8 49.3 519.4 70.4 520 60.5 520.5 59.9 521.1 59.9 521.8 72.2 522.4 67.7 522.8 69.6 523.4 69.6 523.6 70.6 524.2 76.3 524.8 67.1 525.3 55.1 525.9 55.1 526.6 72.2 527.2 63.2 527.8 72 528.2 53.2 528.8 53.2 529 73.2 529.6 49.2 530.2 30 530.8 30 531.4 73.1 532.1 58 532.7 58 533.2 52.7 533.8 73.6 534.4 57.4 535 33.9 535.6 33.9 536.2 72.6 536.8 41.3 537.4 70.9 537.5 33.9 538.1 33.9 538.6 72 539.2 57.4 539.8 68.8 540.2 37.7 540.8 37.7 541 71.3 541.6 61 542.2 71 542.7 56.1 543.3 56.1 544 51.1 544.6 70.6 545 40.6 545.6 40.6 545.8 72.4 546.4 64.6 546.6 66.7 547.2 66.7 547.6 67.5 548.2 75.1 548.8 68.7 549.5 68.6 550.1 68.6 550.6 78.6 551.2 75.4 551.8 79.4 552.4 77.3 553 77.3 553.6 76 554.2 81.4 554.8 74.3 555.3 69.6 555.9 69.6 556 71.4 556.6 83.8 557.2 77.8 557.8 83.9 558.2 71.5 558.8 71.5 559 83.7 559.6 79.9 560.2 85.7 560.8 73.8 561.3 72.5 561.9 72.5 562 76.1 562.6 88 563.2 85.1 563.8 85.1 564.4 82.7 565 88.6 565.6 83.5 566.1 73.5 566.7 73.5 567.4 89.3 568 78.9 568.6 89.7 569 73.5 569.6 73.5 569.8 90.9 570.4 76 571 88 571.3 71.5 571.9 71.5 572.2 90.3 572.8 83.4 573.4 90.6 573.8 87 574.4 87 574.6 89.5 575.2 70.9 575.8 84.1 576.2 42.6 576.8 42.6 577 76.1 577.6 62.2 578.1 40.6 578.7 40.6 579.4 83.4 580 50.3 580.6 50.3 581.2 59.9 581.8 80.7 582.2 49.3 582.8 49.3 583 82.5 583.6 71.3 584.2 80.3 584.5 62.8 585.1 62.8 585.4 76.7 586 52.4 586.6 81.7 587 28.1 587.6 28.1 587.8 77.1 588.4 50.8 589 73.3 589.7 31 590.3 31 590.8 59.3 591.2 47.4 591.8 47.4 592 63.1 592.6 85.6 593.2 67.7 593.8 67.7 594.4 81.4 595 87.1 595.1 83.1 595.7 83.1 596.2 87.6 596.8 80.7 597.4 86.6 598 75.4 598.6 75.4 599.2 76.5 599.8 86.8 600.4 80.2 600.9 76.4 601.5 76.4 601.6 78.1 602.2 86.7 602.8 77.1 603.4 87.3 604 80 604.6 86.1 604.8 77.3 605.4 77.3 605.8 86.3 606.4 78.9 607 88 607.7 72.5 608.3 72.5 608.8 79 609.4 88.3 610 71.9 610.6 70.6 611.2 70.6 611.8 88.5 612.4 74.3 613 87.9 613.5 71.5 614.1 71.5 614.2 89.7 614.8 77.7 615.4 89.9 616 85.2 616.4 87 617 87 617.2 83.8 617.8 87.8 618.4 80.8 619 87.3 619.3 64.8 619.9 64.8 620.2 83.4 620.8 63.7 621.4 82.6 622 56.1 622.6 85.8 622.7 43.5 623.3 43.5 623.8 84.6 624.4 70.1 624.7 52.2 625.3 52.2 625.6 61.3 626.2 84.3 626.6 67.7 627.2 67.7 627.4 81.3 628 71 628.6 83.7 628.9 38.7 629.5 38.7 629.8 82.7 630.4 64.8 630.8 39.7 631.4 39.7 631.6 45.1 632.2 82.8 632.8 50.3 633.4 50.3 634 64 634.6 78.6 634.7 35.8 635.3 35.8 635.8 79.9 636.4 59.1 636.6 58 637.2 58 637.6 74.1 638.2 84.2 638.6 61.9 639.2 61.9 639.4 86.9 640 78.5 640.5 85.1 641.1 85.1 641.8 88.3 642.4 72.5 643 72.5 643.6 76.8 644.2 86.2 644.8 75.9 645.3 75.4 645.9 75.4 646.6 87.6 647.3 81.2 647.9 81.2 648.4 80.8 649 88 649.6 78.1 649.8 72.5 650.4 72.5 650.8 80.8 651.4 87.8 652 76.6 652.6 86.4 653.1 73.5 653.7 73.5 653.8 88.2 654.4 81.7 655 87.9 655.6 77.3 656.2 77.3 656.8 80.9 657.4 89.3 657.9 85.1 658.5 85.1 658.6 89.3 659.2 85.5 659.8 89.7 660.2 73.5 660.8 73.5 661 87.3 661.6 78.4 662.2 89.4 662.7 68.6 663.3 68.6 663.6 72.6 663.4 89.1 661.9 90.2 660.4 90.6 658.9 90.4 657.4 89.1 655.9 88.7 654.4 88.3 652.9 89.1 651.4 87 649.9 87.4 648.4 87.8 646.9 87.1 645.4 88 643.9 88.1 642.4 87.5 640.9 87.9 639.4 87.1 637.9 86.1 636.4 83.9 634.9 82.4 633.4 82.2 631.9 81.5 630.4 81.9 628.9 84 627.4 83.9 625.9 84.3 624.4 85.3 622.9 85.1 621.4 85.9 619.9 86.9 618.4 88.6 616.9 90.4 615.4 90.1 613.9 90.6 612.4 89.6 610.9 88.4 609.4 89.2 607.9 87.3 606.4 88.4 604.9 86.9 603.4 87.2 601.9 87.9 600.4 87.1 598.9 87.5 597.4 88.3 595.9 86.9 594.4 87.9 592.9 85.1 591.4 83.6 589.9 82.3 588.4 79 586.9 81.6 585.4 81.9 583.9 82.9 582.4 84.1 580.9 82.6 579.4 82.6 577.9 81.9 576.4 82.9 574.9 89.3 573.4 90.4 571.9 91.6 570.4 90.8 568.9 91 567.4 89.2 565.9 88.9 564.4 88.3 562.9 87.8 561.4 87.1 559.9 85.5 558.4 84.4 556.9 84.7 555.4 82.8 553.9 81 552.4 80.9 550.9 78.4 549.4 78.1 547.9 75.1 546.4 74.8 544.9 73.4 543.4 72.8 541.9 74.4 540.4 73.9 538.9 72.6 537.4 74 535.9 73.9 534.4 72.9 532.9 74.2 531.4 73.1 529.9 74.7 528.4 74.9 526.9 75.9 525.4 76 523.9 75 522.4 74.1 520.9 69.9 519.4 69.8 517.9 68.8 516.4 69.6 514.9 69.9 513.4 69.7 511.9 68.2 510.4 69.2 508.9 67.8 507.4 68.6 505.9 68.3 504.4 67.5 502.9 68 501.4 70.8 499.9 82 498.4 84.5 496.9 82.8 495.4 82.2 493.9 81.7 492.4 80.6 490.9 80 489.4 82 487.9 83.8 486.4 84.1 484.9 87.8 483.4 91.2 481.9 94.5 480.4 94.2 478.9 94.7 477.4 94.6 475.9 94.6 474.4 95.5 472.9 95.5 471.4 95.9 469.9 95 468.4 96.5 466.9 94.9 465.4 96.3 463.9 95.7 462.4 94.6 460.9 96.1 459.4 95.7 457.9 94 456.4 86.3 454.9 79.3 453.4 76.7 451.9 78.3 450.4 79.7 448.9 81.2 447.4 83.3 445.9 84.3 444.4 84.3 442.9 84.8 441.4 86.8 439.9 86.4 438.4 89.2 436.9 90.5 435.4 92.7 433.9 93.4 432.4 96.1 430.9 94.7 429.4 94.9 427.9 95.1 426.4 94.3 424.9 92 423.4 91.5 421.9 92.4 420.4 91.4 418.9 90.1 417.4 88.7 415.9 89.7 414.4 88.3 412.9 87.1 411.4 85.7 409.9 84.9 408.4 83.1 406.9 82.1 405.4 79.5 403.9 80.8 402.4 80.8 400.9 81.2 399.4 80.8 397.9 81.7 396.4 82.9 394.9 84.3 393.4 84.6 391.9 86.6 390.4 87 388.9 89.2 387.4 88.6 385.9 90.2 384.4 90.9 382.9 88.7 381.4 87.8 379.9 87.9 378.4 86.4 376.9 84.3 375.4 83.3 373.9 84.3 372.4 84.4 370.9 86.3 369.4 85.6 367.9 86.2 366.4 87 364.9 86.6 363.4 84.1 361.9 82.4 360.4 82 358.9 80.3 357.4 79.8 355.9 79.9 354.4 80.4 352.9 82 351.4 83.2 349.9 82.6 348.4 83.5 346.9 83.9 345.4 85.5 343.9 85.5 342.4 85.6 340.9 86.8 339.4 88.4 337.9 89.1 336.4 89.1 334.9 89.8 333.4 90.4 331.9 90.1 330.4 88.8 328.9 88.6 327.4 87.6 325.9 85.6 324.4 86.3 322.9 84.9 321.4 83 319.9 83 318.4 83.4 316.9 82.1 315.4 82.8 313.9 81.8 312.4 82.9 310.9 81.9 309.4 82.2 307.9 83.1 306.4 83.1 304.9 85.3 303.4 85.7 301.9 86.1 300.4 86.1 298.9 85.9 297.4 88.3 295.9 88.3 294.4 89.2 292.9 88.7 291.4 89.9 289.9 91.3 288.4 90.2 286.9 90.2 285.4 90.8 283.9 91.6 282.4 90.2 280.9 90.5 279.4 90.7 277.9 90.1 276.4 90.3 274.9 88.6 273.4 88.2 271.9 86.7 270.4 87 268.9 84.6 267.4 84.9 265.9 85.2 264.4 85.2 262.9 85.1 261.4 85.1 259.9 84.8 258.4 84.6 256.9 85.1 255.4 85.7 253.9 85.4 252.4 86.2 250.9 87.9 249.4 90 247.9 93.2 246.4 93 244.9 93.1 243.4 91.8 241.9 92.3 240.4 91.3 238.9 91.3 237.4 91.4 235.9 92 234.4 90.4 232.9 89.7 231.4 90.7 229.9 89.4 228.4 88.9 226.9 88.4 225.4 88.6 223.9 88.5 222.4 88.1 220.9 87.6 219.4 87.3 217.9 85.6 216.4 86.6 214.9 85.4 213.4 85.6 211.9 85.5 210.4 86 208.9 87.4 207.4 87.7 205.9 87.1 204.4 86.9 202.9 86.8 201.4 89 199.9 88.7 198.4 89.6 196.9 89.6 195.4 88.3 Z" fill="#4a4aff" fill-opacity="0.42" stroke="none"/>
<path d="M195.5 68.6 196.1 68.6 196.6 87.7 197.2 72 197.8 87.9 198.4 76.3 199 89.1 199.6 78.6 200.2 88.9 200.3 75.4 200.9 75.4 201.4 88.6 202 74.4 202.6 87.2 203.2 79.6 203.8 87.9 204.4 72.3 205 85.8 205.2 67.7 205.8 67.7 206.2 85.8 206.8 72.5 207.4 84.1 208 68.5 208.6 84.3 209.2 70.9 209.8 86.6 210.4 68.8 211 66.7 211.6 66.7 212.2 86 212.8 65.9 213.4 82.4 213.8 43.5 214.4 43.5 214.6 83.1 215.2 51.3 215.8 86.4 216.4 59 216.7 57 217.3 57 217.6 63.4 218.2 85.5 218.8 63.1 219.4 84.6 220 53.2 220.6 81.7 221 38.7 221.6 38.7 221.8 86.9 222.4 58.5 223 85.1 223.5 46.4 224.1 46.4 224.8 53.4 225.4 81.7 226 47.2 226.6 86.7 226.8 40 227.4 40 227.8 89.3 228.4 65.3 229 90.1 229.3 67.7 229.9 67.7 230.2 87.5 230.8 75.5 231.4 87.3 232 72.1 232.6 88.4 233.2 75.7 233.8 89.2 234.4 73.9 234.5 66.7 235.1 66.7 235.6 82.3 236.2 90.9 236.8 82.7 237 79.3 237.6 79.3 238 84.6 238.6 91.2 239.2 86.8 239.8 90.7 240.4 81.2 241 91.8 241.6 84.1 241.9 78.3 242.5 78.3 242.8 83.1 243.4 92.4 244 82.5 244.6 92.6 245.2 87.6 245.7 85.1 246.3 85.1 247 92 247.6 88.4 248.2 92.2 248.8 86 249.4 90.1 249.6 83.1 250.2 83.1 250.6 87.9 251.2 83.5 251.8 87.6 252.5 70.6 253.1 70.6 253.6 78.5 254.2 83 254.8 70 255.4 66.7 256 66.7 256.6 85.2 257.2 70.7 257.8 83.6 258.3 61.9 258.9 61.9 259 86 259.6 66.1 260.2 84.1 260.8 66 261.4 80.3 262 66 262.6 82.7 262.7 48.9 263.3 48.9 263.8 81.6 264.4 52.1 265 80.2 265.4 50.3 266 50.3 266.2 80 266.8 65.8 267.4 83.1 267.9 44.9 268.5 44.9 269.2 65 269.8 86.6 270.4 62.4 270.8 65.7 271.4 65.7 271.6 63.6 272.2 86.2 272.8 48.4 273.4 34.8 274 34.8 274.6 89.4 275.2 55.9 275.7 50.3 276.3 50.3 276.4 72.5 277 88 277.6 65.7 278.2 90.7 278.6 71.5 279.2 71.5 279.4 91 280 81.6 280.5 87 281.1 87 281.8 90.3 282.4 79.8 283 91.4 283.6 68 283.8 61.9 284.4 61.9 284.8 67.6 285.4 87.5 286 66.6 286.6 91.5 287.3 63.8 287.9 63.8 288.4 68 289 88.9 289.6 67.8 290.2 67.7 290.8 67.7 291.4 88.8 292.1 83.1 292.7 83.1 293.2 78.7 293.8 89.1 294.4 60.9 295 60.9 295.6 75.2 296.2 87.4 296.8 70 296.9 67.7 297.5 67.7 298 78.7 298.6 84.2 298.9 63.8 299.5 63.8 299.8 84.6 300.4 77.6 301 86 301.6 79.7 301.8 79.3 302.4 79.3 302.8 75.7 303.4 85.6 304 72 304.6 84.4 305 61.9 305.6 61.9 305.8 77.8 306.4 32.3 307 32.3 307.6 65.6 308.2 78.5 308.8 56.6 309.1 52.2 309.7 52.2 310 58.2 310.6 82.6 311.2 59.4 311.4 56.1 312 56.1 312.4 68 313 77.1 313.6 54.6 314.2 77.6 314.8 57.2 315.3 28.1 315.9 28.1 316 53.2 316.6 77.8 317.2 64.2 317.6 56.1 318.2 56.1 318.4 61.5 319 83 319.6 62 319.9 37.7 320.5 37.7 320.8 68.5 321.3 77.3 321.9 77.3 322 78.4 322.6 84 323.2 80.4 323.8 84 324.4 75.3 325 86.1 325.6 74 326.1 71.5 326.7 71.5 327.4 87.7 328 75.4 328.6 83.7 329.2 69.7 329.8 87.9 330.4 49.3 331 49.3 331.6 63.7 332.2 89.1 332.5 79.3 333.1 79.3 333.4 90 334 82.2 334.6 89.3 335.2 77.3 335.8 85.8 336.4 59.8 337 88.8 337.3 45.4 337.9 45.4 338.2 88.5 338.8 68.5 339.4 88 339.6 67.7 340.2 67.7 340.6 87.8 341.2 79.1 341.6 69.6 342.2 69.6 342.4 75.9 343 85.7 343.6 81.3 344.2 85.6 344.5 79.3 345.1 79.3 345.4 84.2 346 72.4 346.6 82.8 347.2 54.6 347.8 82.2 348 41.6 348.6 41.6 349 84.9 349.6 64.7 350.3 50.3 350.9 50.3 351.4 79.5 352 61.7 352.6 50.3 353.2 50.3 353.8 80.4 354.4 71.9 355 81.4 355.1 71.5 355.7 71.5 356.2 80.3 356.8 59.2 357.4 42.6 358 42.6 358.6 77.3 359.2 59.2 359.4 40.6 360 40.6 360.4 52.2 361 79.1 361.6 53.9 361.9 40 362.5 40 362.8 65.7 363.4 84.4 363.8 77.3 364.4 77.3 364.6 85.6 365.2 82 365.8 86.2 366.4 82 367 85.5 367.7 75.4 368.3 75.4 368.8 80.6 369.4 84.1 370 68.6 370.6 68.6 371.2 72.4 371.8 85.6 372.5 64.8 373.1 64.8 373.6 75 374.2 83.1 374.8 79.2 375.4 77.3 376 77.3 376.6 82.6 377.2 66.7 377.7 57.4 378.3 57.4 379 86.1 379.6 61.9 380.2 61.9 380.8 70.7 381.4 84.8 382 76.7 382.1 65.7 382.7 65.7 383.2 78.2 383.8 90 384.1 87 384.7 87 385 91.1 385.6 84.7 386.2 89.6 386.8 79.7 387.4 88.8 388 79.4 388.6 89.3 388.9 71.5 389.5 71.5 389.8 86.5 390.4 76.7 391 87.2 391.6 80.5 391.8 71.5 392.4 71.5 392.8 77.2 393.4 85.3 394 59.9 394.3 48.3 394.9 48.3 395.2 68 395.8 83 396.4 66.7 396.6 69.6 397.2 69.6 397.6 74.3 398.2 79.1 398.8 59.3 399 50.3 399.6 50.3 400 62.4 400.5 25.2 401.1 25.2 401.8 81.5 402 46.4 402.6 46.4 403 77.4 403.6 57.2 404.2 80.5 404.8 50.3 405.4 50.3 406 69.1 406.6 82 407.3 71.5 407.9 71.5 408.4 73.9 409 82.6 409.4 52.8 410 52.8 410.2 84.2 410.8 77.8 411.1 77.3 411.7 77.3 412 78.4 412.6 87 413.2 79.7 413.8 88.3 414.4 79.9 415 79.3 415.6 79.3 416.2 89 416.8 82.1 417.4 88.8 418 82.9 418.6 89.7 419.2 83.3 419.8 83.1 420.4 83.1 421 91.1 421.6 81.6 422.2 90.5 422.8 83.8 423.4 92.2 423.7 78.3 424.3 78.3 424.6 90.7 425.2 79.6 425.6 78.3 426.2 78.3 426.4 83.7 427 93.3 427.6 89.1 428.2 94.3 428.5 88.9 429.1 88.9 429.4 94.6 430 93.1 430.6 95.6 431.2 93.8 431.4 92.8 432 92.8 432.4 89.6 433 93.9 433.3 72.5 433.9 72.5 434.2 93.9 434.8 73.8 435.4 92.5 436 80 436.2 69.6 436.8 69.6 437.2 76.2 437.8 89.5 438.2 83.1 438.8 83.1 439 85.7 439.6 77.5 440.2 86.5 440.7 54.1 440.9 54.1 441.3 54.1 441.5 54.1 442 63.3 442.3 53.2 442.9 53.2 443.2 63.9 443.8 84.5 444.2 59 444.8 59 445 80.1 445.6 65.7 446.2 83.2 446.7 52.2 447.3 52.2 448 65.2 448.6 82.6 449 69.6 449.6 69.6 449.8 79.8 450.4 64.4 451 79.5 451.3 41.6 451.9 41.6 452.2 79.3 452.9 45.4 453.5 45.4 454 63.5 454.6 78.2 454.8 77.3 455.4 77.3 455.8 84.2 456.4 83.2 457 90.1 457.6 89.2 457.7 90.9 458.3 90.9 458.8 91.1 459.4 94.3 460 90.4 460.6 82.2 461.2 82.2 461.8 93.7 462.4 84.5 463 94.5 463.5 84.1 464.1 84.1 464.8 89.9 465.4 94.4 466 88.6 466.4 84.1 467 84.1 467.2 90.2 467.8 96 468.4 89.4 469 95.5 469.3 88 469.9 88 470.2 94.2 470.8 88.3 471.2 76.4 471.8 76.4 472 87.1 472.6 94.1 473.2 85.8 473.8 95.3 474.1 80.2 474.7 80.2 475 95.4 475.6 83.8 476.2 95.3 476.8 87.7 477.4 93.9 478 80.2 478.6 80.2 479.2 87.5 479.8 94.1 480.4 85.3 480.9 87 481.5 87 481.6 89.8 482.2 93.6 482.8 86.9 483.4 81.2 484 81.2 484.6 85.8 485.2 64.6 485.3 52.8 485.9 52.8 486.4 59.7 487 81.6 487.7 55.1 488.3 55.1 488.8 74 489.4 81.5 490 72.5 490.6 75.4 491.2 75.4 491.8 76.8 492.4 62.8 492.9 40.6 493.5 40.6 493.6 46.7 494.2 81.7 494.4 51.2 495 51.2 495.4 80.9 496 70.3 496.4 75.4 497 75.4 497.2 67.5 497.7 54.1 498.3 54.1 499 84.1 499.6 77.3 500.2 77.3 500.8 72.3 501.4 71 502 63.8 502.1 57 502.7 57 503.2 58.1 503.8 66.9 504.4 58.6 505 57 505.6 57 506.2 69.1 506.8 59 507.4 67 507.9 53.2 508.5 53.2 509.2 56.1 509.8 68.9 510.4 62.1 510.8 53.2 511.4 53.2 511.6 58.8 512.2 69.4 512.8 58.1 513.4 67 513.7 52.2 514.3 52.2 514.6 67.3 515.2 56.7 515.8 67 516.4 57.9 516.6 48.3 517.2 48.3 517.6 60.1 518.2 49.3 518.8 49.3 519.4 70.4 520 60.5 520.5 59.9 521.1 59.9 521.8 72.2 522.4 67.7 522.8 69.6 523.4 69.6 523.6 70.6 524.2 76.3 524.8 67.1 525.3 55.1 525.9 55.1 526.6 72.2 527.2 63.2 527.8 72 528.2 53.2 528.8 53.2 529 73.2 529.6 49.2 530.2 30 530.8 30 531.4 73.1 532.1 58 532.7 58 533.2 52.7 533.8 73.6 534.4 57.4 535 33.9 535.6 33.9 536.2 72.6 536.8 41.3 537.4 70.9 537.5 33.9 538.1 33.9 538.6 72 539.2 57.4 539.8 68.8 540.2 37.7 540.8 37.7 541 71.3 541.6 61 542.2 71 542.7 56.1 543.3 56.1 544 51.1 544.6 70.6 545 40.6 545.6 40.6 545.8 72.4 546.4 64.6 546.6 66.7 547.2 66.7 547.6 67.5 548.2 75.1 548.8 68.7 549.5 68.6 550.1 68.6 550.6 78.6 551.2 75.4 551.8 79.4 552.4 77.3 553 77.3 553.6 76 554.2 81.4 554.8 74.3 555.3 69.6 555.9 69.6 556 71.4 556.6 83.8 557.2 77.8 557.8 83.9 558.2 71.5 558.8 71.5 559 83.7 559.6 79.9 560.2 85.7 560.8 73.8 561.3 72.5 561.9 72.5 562 76.1 562.6 88 563.2 85.1 563.8 85.1 564.4 82.7 565 88.6 565.6 83.5 566.1 73.5 566.7 73.5 567.4 89.3 568 78.9 568.6 89.7 569 73.5 569.6 73.5 569.8 90.9 570.4 76 571 88 571.3 71.5 571.9 71.5 572.2 90.3 572.8 83.4 573.4 90.6 573.8 87 574.4 87 574.6 89.5 575.2 70.9 575.8 84.1 576.2 42.6 576.8 42.6 577 76.1 577.6 62.2 578.1 40.6 578.7 40.6 579.4 83.4 580 50.3 580.6 50.3 581.2 59.9 581.8 80.7 582.2 49.3 582.8 49.3 583 82.5 583.6 71.3 584.2 80.3 584.5 62.8 585.1 62.8 585.4 76.7 586 52.4 586.6 81.7 587 28.1 587.6 28.1 587.8 77.1 588.4 50.8 589 73.3 589.7 31 590.3 31 590.8 59.3 591.2 47.4 591.8 47.4 592 63.1 592.6 85.6 593.2 67.7 593.8 67.7 594.4 81.4 595 87.1 595.1 83.1 595.7 83.1 596.2 87.6 596.8 80.7 597.4 86.6 598 75.4 598.6 75.4 599.2 76.5 599.8 86.8 600.4 80.2 600.9 76.4 601.5 76.4 601.6 78.1 602.2 86.7 602.8 77.1 603.4 87.3 604 80 604.6 86.1 604.8 77.3 605.4 77.3 605.8 86.3 606.4 78.9 607 88 607.7 72.5 608.3 72.5 608.8 79 609.4 88.3 610 71.9 610.6 70.6 611.2 70.6 611.8 88.5 612.4 74.3 613 87.9 613.5 71.5 614.1 71.5 614.2 89.7 614.8 77.7 615.4 89.9 616 85.2 616.4 87 617 87 617.2 83.8 617.8 87.8 618.4 80.8 619 87.3 619.3 64.8 619.9 64.8 620.2 83.4 620.8 63.7 621.4 82.6 622 56.1 622.6 85.8 622.7 43.5 623.3 43.5 623.8 84.6 624.4 70.1 624.7 52.2 625.3 52.2 625.6 61.3 626.2 84.3 626.6 67.7 627.2 67.7 627.4 81.3 628 71 628.6 83.7 628.9 38.7 629.5 38.7 629.8 82.7 630.4 64.8 630.8 39.7 631.4 39.7 631.6 45.1 632.2 82.8 632.8 50.3 633.4 50.3 634 64 634.6 78.6 634.7 35.8 635.3 35.8 635.8 79.9 636.4 59.1 636.6 58 637.2 58 637.6 74.1 638.2 84.2 638.6 61.9 639.2 61.9 639.4 86.9 640 78.5 640.5 85.1 641.1 85.1 641.8 88.3 642.4 72.5 643 72.5 643.6 76.8 644.2 86.2 644.8 75.9 645.3 75.4 645.9 75.4 646.6 87.6 647.3 81.2 647.9 81.2 648.4 80.8 649 88 649.6 78.1 649.8 72.5 650.4 72.5 650.8 80.8 651.4 87.8 652 76.6 652.6 86.4 653.1 73.5 653.7 73.5 653.8 88.2 654.4 81.7 655 87.9 655.6 77.3 656.2 77.3 656.8 80.9 657.4 89.3 657.9 85.1 658.5 85.1 658.6 89.3 659.2 85.5 659.8 89.7 660.2 73.5 660.8 73.5 661 87.3 661.6 78.4 662.2 89.4 662.7 68.6 663.3 68.6 663.6 72.6" fill="none" stroke="#3232fa" stroke-width="0.85" stroke-linejoin="round"/>
<path d="M195.4 101.5 195.4 98.2 196.1 94 196.9 97.8 197.6 95.2 198.4 98.2 199.1 95.6 199.9 98.1 200.6 96.2 201.4 97.7 202.1 94.9 202.9 97.4 203.6 94.2 204.3 97.8 205.1 94.6 205.8 98.3 206.6 93.9 207.3 97.5 208.1 93.7 208.8 97.8 209.6 95.5 210.3 98.4 211.1 94 211.8 97.4 212.5 93.6 213.3 97.1 214 93.3 214.8 98.2 215.5 92.3 216.3 98 217 92.5 217.8 96.7 218.5 93.8 219.3 96.9 220 90.7 220.7 96.4 221.5 92.6 222.2 97.5 223 93 223.7 97.5 224.5 91.5 225.2 98.3 226 91.2 226.7 98.5 227.5 91.7 228.2 97.3 228.9 94.4 229.7 97.4 230.4 95.1 231.2 98.2 231.9 94.8 232.7 98 233.4 95.2 234.2 97.8 234.9 94.2 235.6 97.8 236.4 96.2 237.1 98.4 237.9 96.4 238.6 98.6 239.4 95.6 240.1 98.4 240.9 96.2 241.6 97.6 242.4 96.2 243.1 98.3 243.8 96.6 244.6 98.3 245.3 96.1 246.1 97.9 246.8 96.6 247.6 98 248.3 96.6 249.1 97.8 249.8 96.3 250.6 97.7 251.3 96 252 97.5 252.8 94.9 253.5 97.6 254.3 95 255 98.1 255.8 94 256.5 97.6 257.3 93.5 258 97.1 258.8 93.3 259.5 98.5 260.2 92.6 261 96.7 261.7 92.8 262.5 98.3 263.2 91.4 264 98.5 264.7 93.4 265.5 97.2 266.2 93.4 267 96.9 267.7 91.2 268.4 97.4 269.2 92.7 269.9 97.2 270.7 94.9 271.4 96.8 272.2 92 272.9 96.2 273.7 92.8 274.4 96.4 275.2 91.1 275.9 98.2 276.6 92.4 277.4 98.5 278.1 95.3 278.9 97.7 279.6 95.9 280.4 97.9 281.1 96.6 281.9 98.2 282.6 94.6 283.4 98.4 284.1 94.7 284.8 98.3 285.6 93.8 286.3 97.9 287.1 93.3 287.8 98.2 288.6 94 289.3 97.5 290.1 94.4 290.8 98.2 291.6 96.3 292.3 98.1 293 96.2 293.8 97.6 294.5 93.2 295.3 97.9 296 94.3 296.8 97.5 297.5 94.4 298.3 97.5 299 94.4 299.7 98.3 300.5 95.7 301.2 98.5 302 96.3 302.7 98.4 303.5 94.3 304.2 98.3 305 94.9 305.7 96 306.5 89.8 307.2 97.4 307.9 92 308.7 97 309.4 92.3 310.2 97.6 310.9 93 311.7 96.9 312.4 92.3 313.2 96.2 313.9 91.1 314.7 98 315.4 91.5 316.1 97.4 316.9 91 317.6 97.3 318.4 92 319.1 96.6 319.9 92.6 320.6 97.6 321.4 95.3 322.1 98.2 322.9 95.4 323.6 98.1 324.3 96 325.1 98.5 325.8 95.9 326.6 98.6 327.3 94.1 328.1 98.1 328.8 94.8 329.6 97.6 330.3 92.7 331.1 97.2 331.8 93.9 332.5 98.1 333.3 95.6 334 97.4 334.8 95 335.5 97.3 336.3 93 337 97.9 337.8 91.5 338.5 97.2 339.3 94.4 340 97.5 340.7 94.2 341.5 98 342.2 95.5 343 97.9 343.7 95 344.5 98.1 345.2 96 346 98.2 346.7 93 347.5 97.9 348.2 92.7 348.9 96.7 349.7 91.5 350.4 98.3 351.2 92.2 351.9 97.9 352.7 93 353.4 98.3 354.2 93.6 354.9 98.3 355.7 95.7 356.4 97 357.1 91.7 357.9 96.2 358.6 90.7 359.4 97.6 360.1 93.5 360.9 96.6 361.6 92.7 362.4 97.8 363.1 93 363.8 97.9 364.6 95.1 365.3 98.4 366.1 95.5 366.8 98.6 367.6 95.4 368.3 97.6 369.1 95.5 369.8 97.9 370.6 95 371.3 97.9 372 93.8 372.8 97.7 373.5 94.6 374.3 97.7 375 96.1 375.8 98 376.5 95.1 377.3 97.2 378 93.5 378.8 98.2 379.5 94.5 380.2 97.2 381 94.9 381.7 97.5 382.5 95.3 383.2 98 384 96.4 384.7 98.2 385.5 96.2 386.2 98 387 95.3 387.7 98.1 388.4 95.8 389.2 97.7 389.9 95.4 390.7 98.3 391.4 95 392.2 97.9 392.9 94.6 393.7 97.7 394.4 93.4 395.2 97 395.9 93.2 396.6 97.6 397.4 95.1 398.1 97.8 398.9 93.2 399.6 95.8 400.4 89.3 401.1 97.2 401.9 90.7 402.6 96.9 403.4 94 404.1 97.5 404.8 91.8 405.6 97.6 406.3 94.1 407.1 97.6 407.8 94.9 408.6 97.4 409.3 94.4 410.1 97.9 410.8 94.7 411.6 97.6 412.3 95.4 413 97.9 413.8 95.7 414.5 97.8 415.3 95.4 416 97.7 416.8 95.9 417.5 98.5 418.3 95.9 419 98.3 419.8 95.7 420.5 98.2 421.2 96.1 422 97.9 422.7 95.8 423.5 98.3 424.2 95.5 425 97.8 425.7 96.4 426.5 98.2 427.2 96 427.9 98.1 428.7 96.8 429.4 98.5 430.2 96.9 430.9 98.2 431.7 97.5 432.4 97.9 433.2 95.7 433.9 97.9 434.7 94.7 435.4 97.3 436.1 94.7 436.9 97.9 437.6 96.2 438.4 97.7 439.1 95.5 439.9 98.1 440.6 93.9 441.4 98.3 442.1 94.1 442.9 97.9 443.6 94.4 444.3 98.1 445.1 93.4 445.8 98.1 446.6 93 447.3 98.3 448.1 92.8 448.8 97.5 449.6 94.2 450.3 98.1 451.1 92.2 451.8 97.5 452.5 92 453.3 97.5 454 94.3 454.8 98.2 455.5 96.5 456.3 98 457 96.2 457.8 98.1 458.5 97.3 459.3 98 460 96.1 460.7 97.9 461.5 96.4 462.2 98.6 463 95.8 463.7 97.8 464.5 96.6 465.2 98.4 466 96 466.7 98.5 467.5 96.3 468.2 98.1 468.9 96.6 469.7 98.5 470.4 96.8 471.2 97.7 471.9 95.2 472.7 97.7 473.4 96 474.2 97.8 474.9 96.3 475.7 97.7 476.4 96.4 477.1 97.8 477.9 95.6 478.6 98 479.4 96.3 480.1 98.1 480.9 96.6 481.6 97.9 482.4 96.5 483.1 98.3 483.9 95.6 484.6 98.3 485.3 93.6 486.1 98.5 486.8 93.2 487.6 98.3 488.3 93.7 489.1 97.9 489.8 94.8 490.6 97.4 491.3 93.9 492 96.7 492.8 92.4 493.5 97.4 494.3 93.2 495 97.3 495.8 94.1 496.5 98 497.3 95.5 498 98.5 498.8 94.6 499.5 97.9 500.2 94.7 501 97.6 501.7 94.6 502.5 96.9 503.2 93.2 504 96.8 504.7 93.7 505.5 97.7 506.2 94.5 507 98.5 507.7 93.9 508.4 97.3 509.2 92.8 509.9 96.9 510.7 92.9 511.4 97.6 512.2 93.3 512.9 97 513.7 92.3 514.4 97.7 515.2 92.7 515.9 97.4 516.6 93.7 517.4 98 518.1 93.7 518.9 97.8 519.6 93.4 520.4 98.1 521.1 94.1 521.9 97.2 522.6 95 523.4 97.3 524.1 94 524.8 98 525.6 92.9 526.3 97.4 527.1 93.7 527.8 97 528.6 91.9 529.3 96.6 530.1 92.7 530.8 97.3 531.6 91.1 532.3 98 533 91.8 533.8 98.1 534.5 93.3 535.3 96.9 536 91.8 536.8 96.4 537.5 92.7 538.3 96.9 539 91.8 539.8 97 540.5 92.3 541.2 97.3 542 93.3 542.7 98.2 543.5 93.7 544.2 97.5 545 93 545.7 98.4 546.5 93.1 547.2 98.5 548 95.2 548.7 97.3 549.4 95.1 550.2 98.1 550.9 95.7 551.7 97.7 552.4 95.7 553.2 98.3 553.9 95.1 554.7 98 555.4 94.7 556.1 98 556.9 95.3 557.6 97.4 558.4 94.4 559.1 97.9 559.9 94.4 560.6 98.4 561.4 95.7 562.1 98.1 562.9 96.6 563.6 98.2 564.3 95.6 565.1 98.2 565.8 95.7 566.6 97.5 567.3 96.1 568.1 98 568.8 95.2 569.6 98.5 570.3 95.5 571.1 98.3 571.8 94.7 572.5 98.6 573.3 95.6 574 97.8 574.8 94.9 575.5 96.4 576.3 91.3 577 96.4 577.8 90.8 578.5 98.6 579.3 93 580 98.1 580.7 93.6 581.5 98.2 582.2 91.5 583 97.1 583.7 94.1 584.5 97 585.2 94.2 586 98.4 586.7 91.9 587.5 96.5 588.2 90.6 588.9 95.9 589.7 89.9 590.4 96.3 591.2 92.9 591.9 98.6 592.7 92.7 593.4 97.8 594.2 95.8 594.9 98.5 595.7 96 596.4 97.8 597.1 95.4 597.9 97.6 598.6 95.5 599.4 98.5 600.1 95.4 600.9 98 601.6 95.6 602.4 97.9 603.1 95.2 603.9 97.7 604.6 95.5 605.3 97.9 606.1 95.8 606.8 98.1 607.6 95.1 608.3 97.6 609.1 95.9 609.8 97.6 610.6 95.2 611.3 98.2 612.1 94.3 612.8 97.3 613.5 95.5 614.3 97.7 615 95.6 615.8 98.2 616.5 97.1 617.3 97.7 618 95.8 618.8 98.1 619.5 94.3 620.2 96.9 621 93.2 621.7 97 622.5 92.9 623.2 96.6 624 93.6 624.7 98.1 625.5 92.3 626.2 98.2 627 94.5 627.7 97.3 628.4 93.6 629.2 96.3 629.9 90.2 630.7 96.5 631.4 93 632.2 96.7 632.9 93 633.7 97.9 634.4 93.1 635.2 96.7 635.9 93 636.6 97 637.4 93.5 638.1 98.5 638.9 94.3 639.6 97.8 640.4 95.6 641.1 97.8 641.9 96.4 642.6 98.3 643.4 95.5 644.1 97.8 644.8 95.4 645.6 98.4 646.3 95.4 647.1 97.9 647.8 96.4 648.6 98.1 649.3 94.9 650.1 97.6 650.8 95.7 651.6 98.3 652.3 95.4 653 97.5 653.8 96 654.5 98 655.3 95.6 656 98 656.8 95.6 657.5 98.4 658.3 96.2 659 97.8 659.8 95.5 660.5 97.9 661.2 95 662 97.9 662.7 94.2 663.5 98.5 663.6 95.8 663.6 101.5 Z" fill="url(#gg)" stroke="none"/>
<path d="M195.4 98.2 196.1 94 196.9 97.8 197.6 95.2 198.4 98.2 199.1 95.6 199.9 98.1 200.6 96.2 201.4 97.7 202.1 94.9 202.9 97.4 203.6 94.2 204.3 97.8 205.1 94.6 205.8 98.3 206.6 93.9 207.3 97.5 208.1 93.7 208.8 97.8 209.6 95.5 210.3 98.4 211.1 94 211.8 97.4 212.5 93.6 213.3 97.1 214 93.3 214.8 98.2 215.5 92.3 216.3 98 217 92.5 217.8 96.7 218.5 93.8 219.3 96.9 220 90.7 220.7 96.4 221.5 92.6 222.2 97.5 223 93 223.7 97.5 224.5 91.5 225.2 98.3 226 91.2 226.7 98.5 227.5 91.7 228.2 97.3 228.9 94.4 229.7 97.4 230.4 95.1 231.2 98.2 231.9 94.8 232.7 98 233.4 95.2 234.2 97.8 234.9 94.2 235.6 97.8 236.4 96.2 237.1 98.4 237.9 96.4 238.6 98.6 239.4 95.6 240.1 98.4 240.9 96.2 241.6 97.6 242.4 96.2 243.1 98.3 243.8 96.6 244.6 98.3 245.3 96.1 246.1 97.9 246.8 96.6 247.6 98 248.3 96.6 249.1 97.8 249.8 96.3 250.6 97.7 251.3 96 252 97.5 252.8 94.9 253.5 97.6 254.3 95 255 98.1 255.8 94 256.5 97.6 257.3 93.5 258 97.1 258.8 93.3 259.5 98.5 260.2 92.6 261 96.7 261.7 92.8 262.5 98.3 263.2 91.4 264 98.5 264.7 93.4 265.5 97.2 266.2 93.4 267 96.9 267.7 91.2 268.4 97.4 269.2 92.7 269.9 97.2 270.7 94.9 271.4 96.8 272.2 92 272.9 96.2 273.7 92.8 274.4 96.4 275.2 91.1 275.9 98.2 276.6 92.4 277.4 98.5 278.1 95.3 278.9 97.7 279.6 95.9 280.4 97.9 281.1 96.6 281.9 98.2 282.6 94.6 283.4 98.4 284.1 94.7 284.8 98.3 285.6 93.8 286.3 97.9 287.1 93.3 287.8 98.2 288.6 94 289.3 97.5 290.1 94.4 290.8 98.2 291.6 96.3 292.3 98.1 293 96.2 293.8 97.6 294.5 93.2 295.3 97.9 296 94.3 296.8 97.5 297.5 94.4 298.3 97.5 299 94.4 299.7 98.3 300.5 95.7 301.2 98.5 302 96.3 302.7 98.4 303.5 94.3 304.2 98.3 305 94.9 305.7 96 306.5 89.8 307.2 97.4 307.9 92 308.7 97 309.4 92.3 310.2 97.6 310.9 93 311.7 96.9 312.4 92.3 313.2 96.2 313.9 91.1 314.7 98 315.4 91.5 316.1 97.4 316.9 91 317.6 97.3 318.4 92 319.1 96.6 319.9 92.6 320.6 97.6 321.4 95.3 322.1 98.2 322.9 95.4 323.6 98.1 324.3 96 325.1 98.5 325.8 95.9 326.6 98.6 327.3 94.1 328.1 98.1 328.8 94.8 329.6 97.6 330.3 92.7 331.1 97.2 331.8 93.9 332.5 98.1 333.3 95.6 334 97.4 334.8 95 335.5 97.3 336.3 93 337 97.9 337.8 91.5 338.5 97.2 339.3 94.4 340 97.5 340.7 94.2 341.5 98 342.2 95.5 343 97.9 343.7 95 344.5 98.1 345.2 96 346 98.2 346.7 93 347.5 97.9 348.2 92.7 348.9 96.7 349.7 91.5 350.4 98.3 351.2 92.2 351.9 97.9 352.7 93 353.4 98.3 354.2 93.6 354.9 98.3 355.7 95.7 356.4 97 357.1 91.7 357.9 96.2 358.6 90.7 359.4 97.6 360.1 93.5 360.9 96.6 361.6 92.7 362.4 97.8 363.1 93 363.8 97.9 364.6 95.1 365.3 98.4 366.1 95.5 366.8 98.6 367.6 95.4 368.3 97.6 369.1 95.5 369.8 97.9 370.6 95 371.3 97.9 372 93.8 372.8 97.7 373.5 94.6 374.3 97.7 375 96.1 375.8 98 376.5 95.1 377.3 97.2 378 93.5 378.8 98.2 379.5 94.5 380.2 97.2 381 94.9 381.7 97.5 382.5 95.3 383.2 98 384 96.4 384.7 98.2 385.5 96.2 386.2 98 387 95.3 387.7 98.1 388.4 95.8 389.2 97.7 389.9 95.4 390.7 98.3 391.4 95 392.2 97.9 392.9 94.6 393.7 97.7 394.4 93.4 395.2 97 395.9 93.2 396.6 97.6 397.4 95.1 398.1 97.8 398.9 93.2 399.6 95.8 400.4 89.3 401.1 97.2 401.9 90.7 402.6 96.9 403.4 94 404.1 97.5 404.8 91.8 405.6 97.6 406.3 94.1 407.1 97.6 407.8 94.9 408.6 97.4 409.3 94.4 410.1 97.9 410.8 94.7 411.6 97.6 412.3 95.4 413 97.9 413.8 95.7 414.5 97.8 415.3 95.4 416 97.7 416.8 95.9 417.5 98.5 418.3 95.9 419 98.3 419.8 95.7 420.5 98.2 421.2 96.1 422 97.9 422.7 95.8 423.5 98.3 424.2 95.5 425 97.8 425.7 96.4 426.5 98.2 427.2 96 427.9 98.1 428.7 96.8 429.4 98.5 430.2 96.9 430.9 98.2 431.7 97.5 432.4 97.9 433.2 95.7 433.9 97.9 434.7 94.7 435.4 97.3 436.1 94.7 436.9 97.9 437.6 96.2 438.4 97.7 439.1 95.5 439.9 98.1 440.6 93.9 441.4 98.3 442.1 94.1 442.9 97.9 443.6 94.4 444.3 98.1 445.1 93.4 445.8 98.1 446.6 93 447.3 98.3 448.1 92.8 448.8 97.5 449.6 94.2 450.3 98.1 451.1 92.2 451.8 97.5 452.5 92 453.3 97.5 454 94.3 454.8 98.2 455.5 96.5 456.3 98 457 96.2 457.8 98.1 458.5 97.3 459.3 98 460 96.1 460.7 97.9 461.5 96.4 462.2 98.6 463 95.8 463.7 97.8 464.5 96.6 465.2 98.4 466 96 466.7 98.5 467.5 96.3 468.2 98.1 468.9 96.6 469.7 98.5 470.4 96.8 471.2 97.7 471.9 95.2 472.7 97.7 473.4 96 474.2 97.8 474.9 96.3 475.7 97.7 476.4 96.4 477.1 97.8 477.9 95.6 478.6 98 479.4 96.3 480.1 98.1 480.9 96.6 481.6 97.9 482.4 96.5 483.1 98.3 483.9 95.6 484.6 98.3 485.3 93.6 486.1 98.5 486.8 93.2 487.6 98.3 488.3 93.7 489.1 97.9 489.8 94.8 490.6 97.4 491.3 93.9 492 96.7 492.8 92.4 493.5 97.4 494.3 93.2 495 97.3 495.8 94.1 496.5 98 497.3 95.5 498 98.5 498.8 94.6 499.5 97.9 500.2 94.7 501 97.6 501.7 94.6 502.5 96.9 503.2 93.2 504 96.8 504.7 93.7 505.5 97.7 506.2 94.5 507 98.5 507.7 93.9 508.4 97.3 509.2 92.8 509.9 96.9 510.7 92.9 511.4 97.6 512.2 93.3 512.9 97 513.7 92.3 514.4 97.7 515.2 92.7 515.9 97.4 516.6 93.7 517.4 98 518.1 93.7 518.9 97.8 519.6 93.4 520.4 98.1 521.1 94.1 521.9 97.2 522.6 95 523.4 97.3 524.1 94 524.8 98 525.6 92.9 526.3 97.4 527.1 93.7 527.8 97 528.6 91.9 529.3 96.6 530.1 92.7 530.8 97.3 531.6 91.1 532.3 98 533 91.8 533.8 98.1 534.5 93.3 535.3 96.9 536 91.8 536.8 96.4 537.5 92.7 538.3 96.9 539 91.8 539.8 97 540.5 92.3 541.2 97.3 542 93.3 542.7 98.2 543.5 93.7 544.2 97.5 545 93 545.7 98.4 546.5 93.1 547.2 98.5 548 95.2 548.7 97.3 549.4 95.1 550.2 98.1 550.9 95.7 551.7 97.7 552.4 95.7 553.2 98.3 553.9 95.1 554.7 98 555.4 94.7 556.1 98 556.9 95.3 557.6 97.4 558.4 94.4 559.1 97.9 559.9 94.4 560.6 98.4 561.4 95.7 562.1 98.1 562.9 96.6 563.6 98.2 564.3 95.6 565.1 98.2 565.8 95.7 566.6 97.5 567.3 96.1 568.1 98 568.8 95.2 569.6 98.5 570.3 95.5 571.1 98.3 571.8 94.7 572.5 98.6 573.3 95.6 574 97.8 574.8 94.9 575.5 96.4 576.3 91.3 577 96.4 577.8 90.8 578.5 98.6 579.3 93 580 98.1 580.7 93.6 581.5 98.2 582.2 91.5 583 97.1 583.7 94.1 584.5 97 585.2 94.2 586 98.4 586.7 91.9 587.5 96.5 588.2 90.6 588.9 95.9 589.7 89.9 590.4 96.3 591.2 92.9 591.9 98.6 592.7 92.7 593.4 97.8 594.2 95.8 594.9 98.5 595.7 96 596.4 97.8 597.1 95.4 597.9 97.6 598.6 95.5 599.4 98.5 600.1 95.4 600.9 98 601.6 95.6 602.4 97.9 603.1 95.2 603.9 97.7 604.6 95.5 605.3 97.9 606.1 95.8 606.8 98.1 607.6 95.1 608.3 97.6 609.1 95.9 609.8 97.6 610.6 95.2 611.3 98.2 612.1 94.3 612.8 97.3 613.5 95.5 614.3 97.7 615 95.6 615.8 98.2 616.5 97.1 617.3 97.7 618 95.8 618.8 98.1 619.5 94.3 620.2 96.9 621 93.2 621.7 97 622.5 92.9 623.2 96.6 624 93.6 624.7 98.1 625.5 92.3 626.2 98.2 627 94.5 627.7 97.3 628.4 93.6 629.2 96.3 629.9 90.2 630.7 96.5 631.4 93 632.2 96.7 632.9 93 633.7 97.9 634.4 93.1 635.2 96.7 635.9 93 636.6 97 637.4 93.5 638.1 98.5 638.9 94.3 639.6 97.8 640.4 95.6 641.1 97.8 641.9 96.4 642.6 98.3 643.4 95.5 644.1 97.8 644.8 95.4 645.6 98.4 646.3 95.4 647.1 97.9 647.8 96.4 648.6 98.1 649.3 94.9 650.1 97.6 650.8 95.7 651.6 98.3 652.3 95.4 653 97.5 653.8 96 654.5 98 655.3 95.6 656 98 656.8 95.6 657.5 98.4 658.3 96.2 659 97.8 659.8 95.5 660.5 97.9 661.2 95 662 97.9 662.7 94.2 663.5 98.5 663.6 95.8" fill="none" stroke="#0e9030" stroke-width="0.7" stroke-linejoin="round"/>
<path d="M195.4 21.0 V102.7" stroke="#acbbc2" stroke-width="0.6" fill="none"/>
<path d="M194.4 101.70 H711.8" stroke="#d3dadd" stroke-width="0.9" fill="none"/>
<text class="d" transform="translate(326.4 145.7) rotate(0.03)" font-size="6" fill="#1f2c33" text-anchor="middle">посл</text>
<text class="d" transform="translate(377.6 145.7) rotate(0.03)" font-size="6" fill="#1f2c33" text-anchor="middle">мин</text>
<text class="d" transform="translate(427.6 145.7) rotate(0.03)" font-size="6" fill="#1f2c33" text-anchor="middle">сред</text>
<text class="d" transform="translate(476.5 145.7) rotate(0.03)" font-size="6" fill="#1f2c33" text-anchor="middle">макс</text>
<rect x="157.3" y="148.25" width="5.5" height="5.1" fill="#1aae1a" stroke="#222" stroke-opacity="0.55" stroke-width="0.5"/>
<text class="d" transform="translate(165.6 152.9) rotate(0.03)" font-size="6" fill="#1f2c33">MySQL bytes received per second</text>
<text class="d" transform="translate(276.8 152.9) rotate(0.03)" font-size="6" fill="#1f2c33">[сред]</text>
<text class="d" transform="translate(345.2 152.9) rotate(0.03)" font-size="6.2" fill="#1f2c33" text-anchor="end">250.32 KBps</text>
<text class="d" transform="translate(398.9 152.9) rotate(0.03)" font-size="6.2" fill="#1f2c33" text-anchor="end">186.1398 Bps</text>
<text class="d" transform="translate(447.6 152.9) rotate(0.03)" font-size="6.2" fill="#1f2c33" text-anchor="end">184.81 KBps</text>
<text class="d" transform="translate(493.2 152.9) rotate(0.03)" font-size="6.2" fill="#1f2c33" text-anchor="end">4.89 MBps</text>
<rect x="157.3" y="155.35" width="5.5" height="5.1" fill="#4646ff" stroke="#222" stroke-opacity="0.55" stroke-width="0.5"/>
<text class="d" transform="translate(165.6 160) rotate(0.03)" font-size="6" fill="#1f2c33">MySQL bytes sent per second</text>
<text class="d" transform="translate(276.8 160) rotate(0.03)" font-size="6" fill="#1f2c33">[сред]</text>
<text class="d" transform="translate(345.2 160) rotate(0.03)" font-size="6.2" fill="#1f2c33" text-anchor="end">1.27 MBps</text>
<text class="d" transform="translate(398.9 160) rotate(0.03)" font-size="6.2" fill="#1f2c33" text-anchor="end">1.11 KBps</text>
<text class="d" transform="translate(447.6 160) rotate(0.03)" font-size="6.2" fill="#1f2c33" text-anchor="end">1.08 MBps</text>
<text class="d" transform="translate(493.2 160) rotate(0.03)" font-size="6.2" fill="#1f2c33" text-anchor="end">97.42 MBps</text>
<text class="d" transform="translate(453.6 181.2) rotate(0.03)" font-size="7.62" fill="#1f2c33" text-anchor="middle">site.esplus.ru: MySQL operations</text>
<path d="M196 187.50 H711" stroke="#c3d0d6" stroke-width="0.7" stroke-dasharray="1 1" fill="none"/>
<text class="d" transform="translate(190.3 188.7) rotate(0.03)" font-size="5.7" fill="#1f2c33" text-anchor="end">400 qps</text>
<path d="M196 212.55 H711" stroke="#c3d0d6" stroke-width="0.7" stroke-dasharray="1 1" fill="none"/>
<text class="d" transform="translate(190.3 213.75) rotate(0.03)" font-size="5.7" fill="#1f2c33" text-anchor="end">300 qps</text>
<path d="M196 238.30 H711" stroke="#c3d0d6" stroke-width="0.7" stroke-dasharray="1 1" fill="none"/>
<text class="d" transform="translate(190.3 239.5) rotate(0.03)" font-size="5.7" fill="#1f2c33" text-anchor="end">200 qps</text>
<path d="M196 263.50 H711" stroke="#c3d0d6" stroke-width="0.7" stroke-dasharray="1 1" fill="none"/>
<text class="d" transform="translate(190.3 264.7) rotate(0.03)" font-size="5.7" fill="#1f2c33" text-anchor="end">100 qps</text>
<text class="d" transform="translate(190.3 289.8) rotate(0.03)" font-size="5.7" fill="#1f2c33" text-anchor="end">0 qps</text>
<text class="d" transform="translate(197.4 290.7) rotate(-90.03)" font-size="5.6" fill="#e33734" text-anchor="end">02.12.2021</text>
<path d="M213.50 187 V288.6" stroke="#d3dce1" stroke-width="0.9" stroke-opacity="0.5" stroke-dasharray="1.3 0.7" fill="none"/>
<text class="d" transform="translate(215.05 291) rotate(-90.03)" font-size="4.5" fill="#1f2c33" text-anchor="end">12-15</text>
<path d="M238.90 187 V288.6" stroke="#d3dce1" stroke-width="0.9" stroke-opacity="0.5" stroke-dasharray="1.3 0.7" fill="none"/>
<text class="d" transform="translate(240.9 290.7) rotate(-90.03)" font-size="5.6" fill="#e33734" text-anchor="end">01.01.2022</text>
<path d="M259.82 187 V288.6" stroke="#d3dce1" stroke-width="0.9" stroke-opacity="0.5" stroke-dasharray="1.3 0.7" fill="none"/>
<text class="d" transform="translate(261.37 291) rotate(-90.03)" font-size="4.5" fill="#1f2c33" text-anchor="end">01-15</text>
<path d="M285.23 187 V288.6" stroke="#d3dce1" stroke-width="0.9" stroke-opacity="0.5" stroke-dasharray="1.3 0.7" fill="none"/>
<text class="d" transform="translate(287.23 290.7) rotate(-90.03)" font-size="5.6" fill="#e33734" text-anchor="end">01.02.2022</text>
<path d="M306.15 187 V288.6" stroke="#d3dce1" stroke-width="0.9" stroke-opacity="0.5" stroke-dasharray="1.3 0.7" fill="none"/>
<text class="d" transform="translate(307.7 291) rotate(-90.03)" font-size="4.5" fill="#1f2c33" text-anchor="end">02-15</text>
<path d="M327.07 187 V288.6" stroke="#d3dce1" stroke-width="0.9" stroke-opacity="0.5" stroke-dasharray="1.3 0.7" fill="none"/>
<text class="d" transform="translate(329.07 290.7) rotate(-90.03)" font-size="5.6" fill="#e33734" text-anchor="end">01.03.2022</text>
<path d="M347.99 187 V288.6" stroke="#d3dce1" stroke-width="0.9" stroke-opacity="0.5" stroke-dasharray="1.3 0.7" fill="none"/>
<text class="d" transform="translate(349.54 291) rotate(-90.03)" font-size="4.5" fill="#1f2c33" text-anchor="end">03-15</text>
<path d="M373.40 187 V288.6" stroke="#d3dce1" stroke-width="0.9" stroke-opacity="0.5" stroke-dasharray="1.3 0.7" fill="none"/>
<text class="d" transform="translate(375.4 290.7) rotate(-90.03)" font-size="5.6" fill="#e33734" text-anchor="end">01.04.2022</text>
<path d="M394.32 187 V288.6" stroke="#d3dce1" stroke-width="0.9" stroke-opacity="0.5" stroke-dasharray="1.3 0.7" fill="none"/>
<text class="d" transform="translate(395.87 291) rotate(-90.03)" font-size="4.5" fill="#1f2c33" text-anchor="end">04-15</text>
<path d="M418.23 187 V288.6" stroke="#d3dce1" stroke-width="0.9" stroke-opacity="0.5" stroke-dasharray="1.3 0.7" fill="none"/>
<text class="d" transform="translate(420.23 290.7) rotate(-90.03)" font-size="5.6" fill="#e33734" text-anchor="end">01.05.2022</text>
<path d="M439.15 187 V288.6" stroke="#d3dce1" stroke-width="0.9" stroke-opacity="0.5" stroke-dasharray="1.3 0.7" fill="none"/>
<text class="d" transform="translate(440.7 291) rotate(-90.03)" font-size="4.5" fill="#1f2c33" text-anchor="end">05-15</text>
<path d="M464.55 187 V288.6" stroke="#d3dce1" stroke-width="0.9" stroke-opacity="0.5" stroke-dasharray="1.3 0.7" fill="none"/>
<text class="d" transform="translate(466.55 290.7) rotate(-90.03)" font-size="5.6" fill="#e33734" text-anchor="end">01.06.2022</text>
<path d="M485.48 187 V288.6" stroke="#d3dce1" stroke-width="0.9" stroke-opacity="0.5" stroke-dasharray="1.3 0.7" fill="none"/>
<text class="d" transform="translate(487.03 291) rotate(-90.03)" font-size="4.5" fill="#1f2c33" text-anchor="end">06-15</text>
<path d="M509.39 187 V288.6" stroke="#d3dce1" stroke-width="0.9" stroke-opacity="0.5" stroke-dasharray="1.3 0.7" fill="none"/>
<text class="d" transform="translate(511.39 290.7) rotate(-90.03)" font-size="5.6" fill="#e33734" text-anchor="end">01.07.2022</text>
<path d="M530.31 187 V288.6" stroke="#d3dce1" stroke-width="0.9" stroke-opacity="0.5" stroke-dasharray="1.3 0.7" fill="none"/>
<text class="d" transform="translate(531.86 291) rotate(-90.03)" font-size="4.5" fill="#1f2c33" text-anchor="end">07-15</text>
<path d="M555.71 187 V288.6" stroke="#d3dce1" stroke-width="0.9" stroke-opacity="0.5" stroke-dasharray="1.3 0.7" fill="none"/>
<text class="d" transform="translate(557.71 290.7) rotate(-90.03)" font-size="5.6" fill="#e33734" text-anchor="end">01.08.2022</text>
<path d="M576.63 187 V288.6" stroke="#d3dce1" stroke-width="0.9" stroke-opacity="0.5" stroke-dasharray="1.3 0.7" fill="none"/>
<text class="d" transform="translate(578.18 291) rotate(-90.03)" font-size="4.5" fill="#1f2c33" text-anchor="end">08-15</text>
<path d="M602.04 187 V288.6" stroke="#d3dce1" stroke-width="0.9" stroke-opacity="0.5" stroke-dasharray="1.3 0.7" fill="none"/>
<text class="d" transform="translate(604.04 290.7) rotate(-90.03)" font-size="5.6" fill="#e33734" text-anchor="end">01.09.2022</text>
<path d="M622.96 187 V288.6" stroke="#d3dce1" stroke-width="0.9" stroke-opacity="0.5" stroke-dasharray="1.3 0.7" fill="none"/>
<text class="d" transform="translate(624.51 291) rotate(-90.03)" font-size="4.5" fill="#1f2c33" text-anchor="end">09-15</text>
<path d="M646.87 187 V288.6" stroke="#d3dce1" stroke-width="0.9" stroke-opacity="0.5" stroke-dasharray="1.3 0.7" fill="none"/>
<text class="d" transform="translate(648.87 290.7) rotate(-90.03)" font-size="5.6" fill="#e33734" text-anchor="end">01.10.2022</text>
<path d="M667.79 187 V288.6" stroke="#d3dce1" stroke-width="0.9" stroke-opacity="0.5" stroke-dasharray="1.3 0.7" fill="none"/>
<text class="d" transform="translate(669.34 291) rotate(-90.03)" font-size="4.5" fill="#1f2c33" text-anchor="end">10-15</text>
<path d="M693.20 187 V288.6" stroke="#d3dce1" stroke-width="0.9" stroke-opacity="0.5" stroke-dasharray="1.3 0.7" fill="none"/>
<text class="d" transform="translate(695.2 290.7) rotate(-90.03)" font-size="5.6" fill="#e33734" text-anchor="end">01.11.2022</text>
<path d="M195.4 279.3 196.2 279.3 196.9 278.8 197.7 278.8 198.4 278.6 199.2 278.4 199.9 278.7 200.7 278.6 201.4 278.2 202.2 278.2 202.9 277.5 203.7 277.5 204.4 277 205.2 277.4 205.9 276.8 206.7 277 207.4 276.5 208.2 274.8 208.9 272.6 209.7 270.3 210.4 269 211.2 269.2 211.9 267.8 212.7 267.8 213.4 265 214.2 265.7 214.9 264.1 215.7 266.4 216.4 264.6 217.2 262.7 217.9 263.7 218.7 266.6 219.4 267.3 220.2 265 220.9 267 221.7 269.7 222.4 264.8 223.2 265.4 223.9 266.7 224.7 269.2 225.4 270 226.2 264 226.9 269.2 227.7 267.4 228.4 269.1 229.2 272.5 229.9 271.3 230.7 274.5 231.4 276.5 232.2 279.4 232.8 280.6 232.9 280.6 233.2 271 233.6 280.6 233.7 280.8 234.4 280.8 235.2 280.9 235.9 280.9 236.7 281.6 237.4 281.4 238.2 281.2 238.9 281.3 239.7 281.3 240.4 281.6 241.2 281.3 241.3 281.1 241.7 268.5 241.9 281.4 242.1 281.1 242.7 281.6 243.4 281.5 244.2 281.4 244.9 281.2 245.7 281.1 246.4 281 247.2 280.9 247.9 280.7 248.7 280.6 249.4 280.3 250.2 279.3 250.9 279 251.7 279 252.4 278.7 253.2 278.2 253.9 277.2 254.7 275.8 255.4 273.8 256.1 273.7 256.9 272.9 257.6 271.7 258.4 268.8 259.1 262.9 259.9 268.3 260.6 265.2 261.4 262 262.1 267.9 262.9 267.2 263.6 268.6 264.4 268.3 265.1 264.5 265.9 268.5 266.6 265.6 267.4 263.6 268.1 268.5 268.9 268.2 269.6 267.3 270.4 262.9 271.1 265.8 271.9 266.4 272.6 266.5 273.4 267.9 274.1 268.5 274.9 268.2 275.6 269.4 276.4 264.9 277.1 268.2 277.9 270.4 278.6 272.9 279.4 275.4 280.1 277.9 280.9 279.7 281.6 279.7 282.4 279.5 283.1 280.3 283.9 280.4 284.6 280 285.4 280.5 286.1 279.7 286.9 279.6 287.6 279.6 288.4 279.3 289.1 278.7 289.9 278.6 290.6 278.9 291.4 278.4 292.1 278.4 292.9 278 293.6 278.1 294.4 277.9 295.1 277.4 295.9 277.4 296.6 276.4 297.4 276.2 298.1 276.1 298.6 275.7 298.9 275.9 299 260 299.4 275.7 299.6 275.4 300.4 275.3 301.1 274.8 301.9 273.2 302.6 272.6 303.4 273.5 304.1 268.3 304.9 263.1 305.6 261.3 306.4 261.5 307.1 258.6 307.9 259.7 308.6 264.6 309.4 264.2 310.1 265.4 310.9 260.8 311.6 262.5 312.4 258.4 313.1 259.5 313.9 257.4 314.6 260 315.4 257.8 316.1 258.6 316.9 259.6 317.6 262 318.4 256.1 319.1 263.1 319.9 261.5 320.6 256.7 321.4 256.7 322.1 260.8 322.9 266.8 323.6 273.9 324.4 272.4 325.1 270.9 325.9 270.9 326.6 278.3 327.4 277.6 328.1 277.9 328.9 277.6 329.6 278 330.4 277.5 331.1 277.3 331.9 277.8 332.6 277.2 333.4 277.2 334.1 277.2 334.9 277.1 335.6 277.4 336.4 277 337.1 276.2 337.9 276.1 338.6 274.9 339.4 275.1 340.1 274.5 340.9 274.3 341.6 273.6 342.4 273.2 343.1 270.5 343.9 269.2 344.6 272.4 345.4 271.7 346.1 268.4 346.9 264.2 347.6 251.2 348.4 255.1 349.1 250.9 349.9 254.8 350.6 254.8 351.4 250.9 352.1 255.6 352.9 251.4 353.6 251.6 354.4 256 355.1 254.7 355.9 255.9 356.6 251 357.4 254.3 358.1 249.3 358.9 252.4 359.6 249.1 360.4 251.8 361.1 256.7 361.9 254.7 362.6 254.2 363.4 256.4 364.1 259.7 364.9 269.4 365.6 270 366.4 269.5 367.1 269 367.9 270.7 368.6 277.5 369.4 277.9 370.1 277.6 370.9 277.2 371.6 277.9 372.4 277.9 373.1 277.5 373.9 277.4 374.6 277.9 375.4 277.4 376.1 276.7 376.9 276.5 377.6 275.3 378.4 276.6 379.1 277 379.9 276.3 380.6 276.5 381.4 275.8 382.1 276.5 382.9 276.7 383.6 275.3 384.4 275.8 385.1 276.2 385.9 275.5 386.6 277.3 387.4 277.5 388.1 277.3 388.9 276.7 389.6 273.9 390.4 264 391.1 264.3 391.9 265.9 392.6 263 393.4 265.1 394.1 263.5 394.9 263.2 395.6 261.1 396.4 260.8 397.1 262.5 397.9 257.4 398.6 254.1 399.4 259.7 400.1 257.5 400.9 258.1 401.6 257.5 402.4 257.4 403.1 253.2 403.9 257.7 404.6 255.2 405.4 259 406.1 255.8 406.9 258.5 407.6 259.6 408.4 262.6 409.1 257.8 409.9 267.6 410.6 267.1 411.4 276.4 412.1 276 412.9 275.5 413.6 275.1 414.4 276.3 415.1 280.8 415.9 280.5 416.6 280.3 417.4 280.9 418.1 280.7 418.9 280.3 419.6 280.6 420.4 280.4 421.1 280.7 421.9 280.7 422.6 280.7 423.4 281 424.1 281 424.9 280.8 425.6 281.1 426.4 281.4 427.1 281 427.9 281.3 428.6 282.4 429.4 282.6 430.1 281.5 430.9 280.9 431.6 280.5 432.4 280.2 433.1 279.4 433.9 278.8 434.6 278.4 435.4 274.8 436.1 265.5 436.9 266.9 437.6 270.6 438.4 274.2 439.1 264.8 439.9 261.7 440.6 261.8 441.4 263.7 442.1 263.6 442.9 263.1 443.6 259.6 444.4 261.9 445.1 263 445.9 258.9 446.6 260.4 447.4 260.3 448.1 259.4 448.9 260.6 449.6 258.7 450.4 256.3 451.1 256.8 451.9 260.4 452.6 262.8 453.4 257.6 454.1 264.6 454.9 260.7 455.6 265.7 456.4 273.3 457.1 275.6 457.9 278.9 458.6 280.4 459.4 281.8 460.1 281.8 460.9 281.5 461.6 281.2 462.4 280.9 463.1 281.1 463.9 281 464.6 281.5 465.4 281.3 466.1 281.1 466.9 281.2 467.6 281 468.4 281.5 469.1 281.5 469.9 281.4 470.6 281.3 471.4 281.4 472.1 281.4 472.9 281 473.6 281.2 474.4 280.9 475.1 281.4 475.9 281.2 476.6 281.3 477.4 281.5 478.1 281.4 478.9 281.6 479.6 281.5 480.4 279.7 481.1 278.5 481.9 278.9 482.6 278.4 483.4 277.6 484.1 264.2 484.9 262.3 485.6 266 486.4 264.4 487.1 260.8 487.9 262.9 488.6 261.6 489.4 257.5 490.1 259.8 490.9 259.5 491.6 259.2 492.4 257.2 493.1 258.4 493.9 262.3 494.6 259.9 495.4 261.8 496.1 254.4 496.9 262 497.6 259.2 498.4 260.7 499.1 255.2 499.9 261.7 500.6 261.3 501.4 261.8 502.1 263.5 502.9 265.3 503.6 266.4 504.4 266.4 505.1 268.8 505.9 269.4 506.6 268.9 507.4 268.9 508.1 269.6 508.9 269.6 509.6 269.8 510.4 269.5 511.1 269.4 511.9 269.3 512.6 269.6 513.4 269.8 514.1 269.8 514.9 269.7 515.6 270.1 516.4 269.7 517.1 270.1 517.9 270.3 518.6 270 519.4 270 520.1 270.9 520.9 271.2 521.6 271.6 522.4 272.1 523.1 272.1 523.9 271.9 524.6 267.3 525.4 262.2 526.1 261.2 526.9 264.2 527.6 259.4 528.4 259.9 529.1 257.5 529.9 256.6 530.6 255.7 531.4 257.5 532.1 258.5 532.9 258.5 533.6 256.6 534.4 257.2 535.1 258.3 535.9 263.2 536.6 260.4 537.4 262.5 538.1 262.7 538.9 260.1 539.6 261.6 540.4 264.6 541.1 258.5 541.9 258.9 542.6 264.4 543.4 259.9 544.1 258.2 544.9 265.6 545.6 264.6 546.4 261 547.1 268.6 547.9 269.5 548.6 270.3 549.4 271.2 550.1 272.1 550.9 275.1 551.6 275.7 552.4 276.7 553.1 277.9 553.9 277.5 554.6 277.5 555.4 277.7 556.1 277.3 556.9 277.9 557.6 277.8 558.4 277.4 559.1 278.1 559.9 277.5 560.6 278 561.4 277.8 562.1 278.3 562.9 278 563.6 278.1 564.4 278 565.1 278.6 565.9 278.1 566.6 278.3 567.4 278.4 568.1 279.1 568.9 278.5 569.6 279.2 570.4 278.8 571.1 278.7 571.9 276 572.6 275.6 573.4 277.3 574.1 280 574.9 279.5 575.6 263.7 576.4 267.6 577.1 263 577.9 267.6 578.6 264.7 579.4 265.7 580.1 263.4 580.9 259.1 581.6 265.6 582.4 260.6 583.1 260.5 583.9 262.5 584.6 259.5 585.4 258.3 586.1 258.3 586.9 256.4 587.6 256 588.4 259.2 589.1 257 589.9 254.7 590.6 259.4 591.4 256.3 592.1 257.1 592.9 272.4 593.6 277.1 594.4 277.8 595.1 278.6 595.9 279.3 596.6 278.3 597.4 277.6 598.1 277.4 598.9 277.3 599.6 277.2 600.4 277.1 601.1 277.5 601.9 277.9 602.6 277.2 603.4 277.6 604.1 277.8 604.9 278 605.6 277.9 606.4 277.5 607.1 277.7 607.9 277.6 608.6 278.1 609.4 277.6 610.1 277.7 610.9 277.9 611.6 277.9 612.4 277.6 613.1 278.2 613.9 278.1 614.6 277.9 615.4 279.5 616.1 278.1 616.9 277.1 617.6 274.6 618.4 272.9 619.1 271 619.9 272.2 620.6 270.7 621.4 264.6 622.1 267.6 622.9 269.3 623.6 270.3 624.4 265.6 625.1 266.2 625.9 264.1 626.6 264.8 627.4 264.2 628.1 263.3 628.9 266.3 629.6 264.6 630.4 265.1 631.1 266.4 631.9 266 632.6 266.3 633.4 268.5 634.1 262.5 634.9 264.4 635.6 267.8 636.4 263.7 637.1 261.2 637.9 267.1 638.6 268.3 639.4 265.6 640.1 266.7 640.9 269.7 641.6 270 642.4 272.8 643.1 273.2 643.9 276.6 644.6 276.2 645.4 276.7 646.1 277.1 646.9 278.5 647.6 277.1 648.4 276.5 649.1 277.1 649.9 276.7 650.6 277.4 651.4 277.4 652.1 277.1 652.9 277.6 653.6 277.7 654.4 277.2 655.1 277.2 655.9 277.7 656.6 278 657.4 277.7 658.1 277.4 658.9 278.1 659.6 278 660.4 278 661.1 277.9 661.9 278.5 662.6 277.8 663.4 277.9 663.4 280.7 662.6 280.5 661.9 280.1 661.1 280 660.4 280.4 659.6 280.6 658.9 280.1 658.1 280.3 657.4 279.8 656.6 279.7 655.9 279.8 655.1 279.7 654.4 279.5 653.6 280 652.9 279.2 652.1 279.4 651.4 279.1 650.6 279.1 649.9 279.1 649.1 279.2 648.4 279.4 647.6 278.8 646.9 279 646.1 278.9 645.4 278.5 644.6 278.9 643.9 278.8 643.1 278.5 642.4 277.6 641.6 279.4 640.9 274.4 640.1 276.3 639.4 278.3 638.6 276.5 637.9 277.8 637.1 277.1 636.4 275.6 635.6 274.8 634.9 276.9 634.1 277.6 633.4 278.1 632.6 272.8 631.9 278 631.1 277 630.4 276.3 629.6 273.5 628.9 275.1 628.1 278.5 627.4 276.1 626.6 278.1 625.9 273.6 625.1 276.7 624.4 276.6 623.6 278.2 622.9 272.5 622.1 276.7 621.4 278.7 620.6 274.6 619.9 277.4 619.1 279.1 618.4 276.7 617.6 280.7 616.9 280 616.1 280.1 615.4 280.7 614.6 280.1 613.9 280 613.1 280.2 612.4 280 611.6 280.1 610.9 280.6 610.1 280.5 609.4 280.3 608.6 280.4 607.9 280.2 607.1 279.9 606.4 280.2 605.6 279.6 604.9 280.1 604.1 279.6 603.4 279.8 602.6 280 601.9 279.7 601.1 280 600.4 279.5 599.6 279.4 598.9 279.8 598.1 279.7 597.4 279.9 596.6 279.4 595.9 280 595.1 279.6 594.4 279.2 593.6 280.1 592.9 278.3 592.1 274.8 591.4 275.7 590.6 269.7 589.9 272.9 589.1 273.2 588.4 270.7 587.6 272.3 586.9 270.2 586.1 273 585.4 276 584.6 276 583.9 275.4 583.1 276.2 582.4 273.5 581.6 271.9 580.9 275.7 580.1 274 579.4 272.5 578.6 274.1 577.9 275.7 577.1 275.9 576.4 276.3 575.6 276.1 574.9 279.9 574.1 280.4 573.4 280.9 572.6 281.6 571.9 280.2 571.1 281.5 570.4 281.4 569.6 281.3 568.9 281.1 568.1 280.9 567.4 280.7 566.6 281.2 565.9 280.5 565.1 281 564.4 280.8 563.6 280.6 562.9 280.5 562.1 280 561.4 280.6 560.6 280.3 559.9 279.8 559.1 280.1 558.4 280 557.6 279.9 556.9 279.5 556.1 279.8 555.4 279.3 554.6 279.9 553.9 279.4 553.1 278.9 552.4 278.5 551.6 278.2 550.9 277.7 550.1 276.8 549.4 277.2 548.6 273.2 547.9 276.5 547.1 271 546.4 275.7 545.6 275 544.9 271 544.1 270.5 543.4 275.3 542.6 275.2 541.9 275.4 541.1 270.1 540.4 275 539.6 273.9 538.9 274.2 538.1 274.1 537.4 274.7 536.6 271.9 535.9 271.8 535.1 274.1 534.4 267.7 533.6 269.2 532.9 272.8 532.1 268 531.4 268 530.6 271.9 529.9 272 529.1 274.3 528.4 274.3 527.6 275.3 526.9 275.6 526.1 275.8 525.4 271.5 524.6 274.5 523.9 275.3 523.1 275 522.4 274.5 521.6 274.3 520.9 273.6 520.1 272.7 519.4 272.3 518.6 272.2 517.9 272.5 517.1 271.9 516.4 272.2 515.6 272.4 514.9 272.3 514.1 271.9 513.4 271.8 512.6 271.8 511.9 271.8 511.1 272.1 510.4 271.9 509.6 271.9 508.9 271.9 508.1 271.3 507.4 271.2 506.6 272 505.9 271.4 505.1 271.3 504.4 270.5 503.6 271.9 502.9 273.1 502.1 272.2 501.4 274.1 500.6 272.1 499.9 275.4 499.1 272.9 498.4 270.9 497.6 273.9 496.9 270.6 496.1 270.5 495.4 270.3 494.6 276.4 493.9 276.8 493.1 276.3 492.4 274.6 491.6 274.1 490.9 272.7 490.1 276.1 489.4 278.1 488.6 277.9 487.9 277.2 487.1 278.2 486.4 275.9 485.6 276.9 484.9 274.9 484.1 276.4 483.4 279.7 482.6 283 481.9 279.3 481.1 280.9 480.4 283.7 479.6 283.8 478.9 283.2 478.1 283.2 477.4 283.3 476.6 283.9 475.9 283.9 475.1 283.4 474.4 283.5 473.6 283.4 472.9 283.4 472.1 283.8 471.4 283.4 470.6 283.2 469.9 283.7 469.1 283.3 468.4 283.4 467.6 283.5 466.9 283.3 466.1 283.5 465.4 283.5 464.6 283.8 463.9 283.8 463.1 283.7 462.4 283.9 461.6 283.6 460.9 283.5 460.1 283.3 459.4 282.2 458.6 282.4 457.9 281.9 457.1 276 456.4 280.5 455.6 274.8 454.9 279.6 454.1 278.5 453.4 279 452.6 278.7 451.9 272.7 451.1 276.9 450.4 271 449.6 276.3 448.9 271.3 448.1 275.6 447.4 274.5 446.6 276.7 445.9 277.3 445.1 275 444.4 278 443.6 278 442.9 277 442.1 276.1 441.4 278.4 440.6 276.9 439.9 279.1 439.1 277.9 438.4 274.6 437.6 278.8 436.9 278.8 436.1 280.2 435.4 280.4 434.6 281.1 433.9 280.9 433.1 282 432.4 282.3 431.6 282.6 430.9 283.3 430.1 283.3 429.4 283.7 428.6 283.3 427.9 283.8 427.1 283.3 426.4 283.3 425.6 283.4 424.9 283.4 424.1 283.4 423.4 282.9 422.6 283.5 421.9 282.8 421.1 283.1 420.4 283.3 419.6 282.8 418.9 283.1 418.1 283.2 417.4 282.8 416.6 283 415.9 282.6 415.1 282.7 414.4 281.4 413.6 279.2 412.9 280 412.1 283.3 411.4 279.5 410.6 280.6 409.9 277 409.1 274.8 408.4 273.8 407.6 273.1 406.9 275.6 406.1 270.3 405.4 272.7 404.6 270.8 403.9 276.2 403.1 275.4 402.4 274 401.6 274.9 400.9 271.3 400.1 276.9 399.4 271.9 398.6 277.8 397.9 277.6 397.1 278.2 396.4 278.9 395.6 277.9 394.9 278.3 394.1 277.6 393.4 274.7 392.6 278.8 391.9 276.2 391.1 275.1 390.4 280 389.6 279.4 388.9 279.1 388.1 279.6 387.4 279.6 386.6 279.2 385.9 279.4 385.1 279.8 384.4 279.4 383.6 280.3 382.9 280.1 382.1 280.5 381.4 280.6 380.6 280.3 379.9 280.4 379.1 280.5 378.4 280.3 377.6 280.4 376.9 280.5 376.1 280.2 375.4 280 374.6 280.1 373.9 280.4 373.1 280.2 372.4 280.1 371.6 280 370.9 279.5 370.1 279.4 369.4 280 368.6 279.8 367.9 279.4 367.1 280.9 366.4 278.9 365.6 274.6 364.9 277.6 364.1 278.2 363.4 276.8 362.6 274.2 361.9 274.5 361.1 269.9 360.4 268.4 359.6 274.9 358.9 274.8 358.1 268.5 357.4 272.6 356.6 271.7 355.9 272 355.1 274.4 354.4 273 353.6 274.6 352.9 274.6 352.1 273 351.4 274.6 350.6 273.5 349.9 271.8 349.1 270 348.4 271.9 347.6 272 346.9 273.3 346.1 268.8 345.4 272.1 344.6 273.9 343.9 276.6 343.1 274.4 342.4 275.8 341.6 276.8 340.9 277 340.1 277.1 339.4 277.6 338.6 277.8 337.9 278.3 337.1 279.4 336.4 279.1 335.6 279.6 334.9 279.4 334.1 279.9 333.4 279.7 332.6 279.7 331.9 279.7 331.1 280.3 330.4 280.3 329.6 279.9 328.9 280.2 328.1 279.8 327.4 279.9 326.6 280.2 325.9 279.8 325.1 281 324.4 281.8 323.6 280.6 322.9 273.2 322.1 273.6 321.4 272.3 320.6 276.3 319.9 275.5 319.1 273.5 318.4 272.7 317.6 269.8 316.9 269.6 316.1 275.1 315.4 275.1 314.6 272.8 313.9 274.2 313.1 273.4 312.4 271.6 311.6 275.5 310.9 274.2 310.1 275.6 309.4 276.6 308.6 276.6 307.9 271.7 307.1 274.7 306.4 274.9 305.6 276.6 304.9 275.7 304.1 276.6 303.4 275.6 302.6 273 301.9 277.7 301.1 277.3 300.4 277.7 299.6 277.6 298.9 278.3 298.1 278.7 297.4 278.5 296.6 279.2 295.9 279.6 295.1 279.2 294.4 280 293.6 280 292.9 280.6 292.1 280.9 291.4 280.6 290.6 280.7 289.9 281 289.1 281.3 288.4 281.4 287.6 282 286.9 282.2 286.1 282.2 285.4 282.1 284.6 282.6 283.9 282.6 283.1 282.6 282.4 282.2 281.6 281.8 280.9 281.9 280.1 282.3 279.4 279.1 278.6 282.6 277.9 283.2 277.1 282.5 276.4 282 275.6 275.4 274.9 278.9 274.1 281.1 273.4 274.2 272.6 276.8 271.9 279.6 271.1 277.4 270.4 277 269.6 276.2 268.9 278 268.1 278 267.4 278.9 266.6 279.3 265.9 277.7 265.1 273.5 264.4 279 263.6 274.1 262.9 279.1 262.1 277.7 261.4 273.1 260.6 273.6 259.9 276.6 259.1 279.3 258.4 275.6 257.6 278.2 256.9 279 256.1 279 255.4 279.2 254.7 279.6 253.9 280 253.2 280.4 252.4 280.7 251.7 281.3 250.9 281.2 250.2 281.8 249.4 282.1 248.7 282.3 247.9 282.3 247.2 282.8 246.4 282.6 245.7 282.9 244.9 283.4 244.2 283.1 243.4 283.6 242.7 283.5 241.9 283.2 241.2 283.5 240.4 283.5 239.7 283.6 238.9 283.9 238.2 283.9 237.4 283.3 236.7 283.5 235.9 283.6 235.2 283.7 234.4 282.8 233.7 282.7 232.9 283 232.2 283 231.4 283.2 230.7 283.5 229.9 282.2 229.2 278 228.4 280.5 227.7 280 226.9 279.2 226.2 279.6 225.4 274.4 224.7 278.4 223.9 277 223.2 277.6 222.4 277.3 221.7 277.4 220.9 277.3 220.2 275.4 219.4 275.3 218.7 273.2 217.9 275.6 217.2 277 216.4 271.5 215.7 271.6 214.9 275.5 214.2 272.2 213.4 276.9 212.7 275.6 211.9 277.9 211.2 279 210.4 278.2 209.7 279.2 208.9 279.3 208.2 279.4 207.4 279.4 206.7 278.9 205.9 279.7 205.2 279.2 204.4 279.8 203.7 279.6 202.9 280.3 202.2 280.1 201.4 280.3 200.7 280.9 199.9 280.6 199.2 280.9 198.4 281.1 197.7 281.4 196.9 281.6 196.2 281.8 195.4 281.4 Z" fill="#1ed61e" fill-opacity="0.85" stroke="none"/>
<path d="M195.4 281.4 196.2 281.8 196.9 281.6 197.7 281.4 198.4 281.1 199.2 280.9 199.9 280.6 200.7 280.9 201.4 280.3 202.2 280.1 202.9 280.3 203.7 279.6 204.4 279.8 205.2 279.2 205.9 279.7 206.7 278.9 207.4 279.4 208.2 279.4 208.9 279.3 209.7 279.2 210.4 278.2 211.2 279 211.9 277.9 212.7 275.6 213.4 276.9 214.2 272.2 214.9 275.5 215.7 271.6 216.4 271.5 217.2 277 217.9 275.6 218.7 273.2 219.4 275.3 220.2 275.4 220.9 277.3 221.7 277.4 222.4 277.3 223.2 277.6 223.9 277 224.7 278.4 225.4 274.4 226.2 279.6 226.9 279.2 227.7 280 228.4 280.5 229.2 278 229.9 282.2 230.7 283.5 231.4 283.2 232.2 283 232.9 283 233.7 282.7 234.4 282.8 235.2 283.7 235.9 283.6 236.7 283.5 237.4 283.3 238.2 283.9 238.9 283.9 239.7 283.6 240.4 283.5 241.2 283.5 241.9 283.2 242.7 283.5 243.4 283.6 244.2 283.1 244.9 283.4 245.7 282.9 246.4 282.6 247.2 282.8 247.9 282.3 248.7 282.3 249.4 282.1 250.2 281.8 250.9 281.2 251.7 281.3 252.4 280.7 253.2 280.4 253.9 280 254.7 279.6 255.4 279.2 256.1 279 256.9 279 257.6 278.2 258.4 275.6 259.1 279.3 259.9 276.6 260.6 273.6 261.4 273.1 262.1 277.7 262.9 279.1 263.6 274.1 264.4 279 265.1 273.5 265.9 277.7 266.6 279.3 267.4 278.9 268.1 278 268.9 278 269.6 276.2 270.4 277 271.1 277.4 271.9 279.6 272.6 276.8 273.4 274.2 274.1 281.1 274.9 278.9 275.6 275.4 276.4 282 277.1 282.5 277.9 283.2 278.6 282.6 279.4 279.1 280.1 282.3 280.9 281.9 281.6 281.8 282.4 282.2 283.1 282.6 283.9 282.6 284.6 282.6 285.4 282.1 286.1 282.2 286.9 282.2 287.6 282 288.4 281.4 289.1 281.3 289.9 281 290.6 280.7 291.4 280.6 292.1 280.9 292.9 280.6 293.6 280 294.4 280 295.1 279.2 295.9 279.6 296.6 279.2 297.4 278.5 298.1 278.7 298.9 278.3 299.6 277.6 300.4 277.7 301.1 277.3 301.9 277.7 302.6 273 303.4 275.6 304.1 276.6 304.9 275.7 305.6 276.6 306.4 274.9 307.1 274.7 307.9 271.7 308.6 276.6 309.4 276.6 310.1 275.6 310.9 274.2 311.6 275.5 312.4 271.6 313.1 273.4 313.9 274.2 314.6 272.8 315.4 275.1 316.1 275.1 316.9 269.6 317.6 269.8 318.4 272.7 319.1 273.5 319.9 275.5 320.6 276.3 321.4 272.3 322.1 273.6 322.9 273.2 323.6 280.6 324.4 281.8 325.1 281 325.9 279.8 326.6 280.2 327.4 279.9 328.1 279.8 328.9 280.2 329.6 279.9 330.4 280.3 331.1 280.3 331.9 279.7 332.6 279.7 333.4 279.7 334.1 279.9 334.9 279.4 335.6 279.6 336.4 279.1 337.1 279.4 337.9 278.3 338.6 277.8 339.4 277.6 340.1 277.1 340.9 277 341.6 276.8 342.4 275.8 343.1 274.4 343.9 276.6 344.6 273.9 345.4 272.1 346.1 268.8 346.9 273.3 347.6 272 348.4 271.9 349.1 270 349.9 271.8 350.6 273.5 351.4 274.6 352.1 273 352.9 274.6 353.6 274.6 354.4 273 355.1 274.4 355.9 272 356.6 271.7 357.4 272.6 358.1 268.5 358.9 274.8 359.6 274.9 360.4 268.4 361.1 269.9 361.9 274.5 362.6 274.2 363.4 276.8 364.1 278.2 364.9 277.6 365.6 274.6 366.4 278.9 367.1 280.9 367.9 279.4 368.6 279.8 369.4 280 370.1 279.4 370.9 279.5 371.6 280 372.4 280.1 373.1 280.2 373.9 280.4 374.6 280.1 375.4 280 376.1 280.2 376.9 280.5 377.6 280.4 378.4 280.3 379.1 280.5 379.9 280.4 380.6 280.3 381.4 280.6 382.1 280.5 382.9 280.1 383.6 280.3 384.4 279.4 385.1 279.8 385.9 279.4 386.6 279.2 387.4 279.6 388.1 279.6 388.9 279.1 389.6 279.4 390.4 280 391.1 275.1 391.9 276.2 392.6 278.8 393.4 274.7 394.1 277.6 394.9 278.3 395.6 277.9 396.4 278.9 397.1 278.2 397.9 277.6 398.6 277.8 399.4 271.9 400.1 276.9 400.9 271.3 401.6 274.9 402.4 274 403.1 275.4 403.9 276.2 404.6 270.8 405.4 272.7 406.1 270.3 406.9 275.6 407.6 273.1 408.4 273.8 409.1 274.8 409.9 277 410.6 280.6 411.4 279.5 412.1 283.3 412.9 280 413.6 279.2 414.4 281.4 415.1 282.7 415.9 282.6 416.6 283 417.4 282.8 418.1 283.2 418.9 283.1 419.6 282.8 420.4 283.3 421.1 283.1 421.9 282.8 422.6 283.5 423.4 282.9 424.1 283.4 424.9 283.4 425.6 283.4 426.4 283.3 427.1 283.3 427.9 283.8 428.6 283.3 429.4 283.7 430.1 283.3 430.9 283.3 431.6 282.6 432.4 282.3 433.1 282 433.9 280.9 434.6 281.1 435.4 280.4 436.1 280.2 436.9 278.8 437.6 278.8 438.4 274.6 439.1 277.9 439.9 279.1 440.6 276.9 441.4 278.4 442.1 276.1 442.9 277 443.6 278 444.4 278 445.1 275 445.9 277.3 446.6 276.7 447.4 274.5 448.1 275.6 448.9 271.3 449.6 276.3 450.4 271 451.1 276.9 451.9 272.7 452.6 278.7 453.4 279 454.1 278.5 454.9 279.6 455.6 274.8 456.4 280.5 457.1 276 457.9 281.9 458.6 282.4 459.4 282.2 460.1 283.3 460.9 283.5 461.6 283.6 462.4 283.9 463.1 283.7 463.9 283.8 464.6 283.8 465.4 283.5 466.1 283.5 466.9 283.3 467.6 283.5 468.4 283.4 469.1 283.3 469.9 283.7 470.6 283.2 471.4 283.4 472.1 283.8 472.9 283.4 473.6 283.4 474.4 283.5 475.1 283.4 475.9 283.9 476.6 283.9 477.4 283.3 478.1 283.2 478.9 283.2 479.6 283.8 480.4 283.7 481.1 280.9 481.9 279.3 482.6 283 483.4 279.7 484.1 276.4 484.9 274.9 485.6 276.9 486.4 275.9 487.1 278.2 487.9 277.2 488.6 277.9 489.4 278.1 490.1 276.1 490.9 272.7 491.6 274.1 492.4 274.6 493.1 276.3 493.9 276.8 494.6 276.4 495.4 270.3 496.1 270.5 496.9 270.6 497.6 273.9 498.4 270.9 499.1 272.9 499.9 275.4 500.6 272.1 501.4 274.1 502.1 272.2 502.9 273.1 503.6 271.9 504.4 270.5 505.1 271.3 505.9 271.4 506.6 272 507.4 271.2 508.1 271.3 508.9 271.9 509.6 271.9 510.4 271.9 511.1 272.1 511.9 271.8 512.6 271.8 513.4 271.8 514.1 271.9 514.9 272.3 515.6 272.4 516.4 272.2 517.1 271.9 517.9 272.5 518.6 272.2 519.4 272.3 520.1 272.7 520.9 273.6 521.6 274.3 522.4 274.5 523.1 275 523.9 275.3 524.6 274.5 525.4 271.5 526.1 275.8 526.9 275.6 527.6 275.3 528.4 274.3 529.1 274.3 529.9 272 530.6 271.9 531.4 268 532.1 268 532.9 272.8 533.6 269.2 534.4 267.7 535.1 274.1 535.9 271.8 536.6 271.9 537.4 274.7 538.1 274.1 538.9 274.2 539.6 273.9 540.4 275 541.1 270.1 541.9 275.4 542.6 275.2 543.4 275.3 544.1 270.5 544.9 271 545.6 275 546.4 275.7 547.1 271 547.9 276.5 548.6 273.2 549.4 277.2 550.1 276.8 550.9 277.7 551.6 278.2 552.4 278.5 553.1 278.9 553.9 279.4 554.6 279.9 555.4 279.3 556.1 279.8 556.9 279.5 557.6 279.9 558.4 280 559.1 280.1 559.9 279.8 560.6 280.3 561.4 280.6 562.1 280 562.9 280.5 563.6 280.6 564.4 280.8 565.1 281 565.9 280.5 566.6 281.2 567.4 280.7 568.1 280.9 568.9 281.1 569.6 281.3 570.4 281.4 571.1 281.5 571.9 280.2 572.6 281.6 573.4 280.9 574.1 280.4 574.9 279.9 575.6 276.1 576.4 276.3 577.1 275.9 577.9 275.7 578.6 274.1 579.4 272.5 580.1 274 580.9 275.7 581.6 271.9 582.4 273.5 583.1 276.2 583.9 275.4 584.6 276 585.4 276 586.1 273 586.9 270.2 587.6 272.3 588.4 270.7 589.1 273.2 589.9 272.9 590.6 269.7 591.4 275.7 592.1 274.8 592.9 278.3 593.6 280.1 594.4 279.2 595.1 279.6 595.9 280 596.6 279.4 597.4 279.9 598.1 279.7 598.9 279.8 599.6 279.4 600.4 279.5 601.1 280 601.9 279.7 602.6 280 603.4 279.8 604.1 279.6 604.9 280.1 605.6 279.6 606.4 280.2 607.1 279.9 607.9 280.2 608.6 280.4 609.4 280.3 610.1 280.5 610.9 280.6 611.6 280.1 612.4 280 613.1 280.2 613.9 280 614.6 280.1 615.4 280.7 616.1 280.1 616.9 280 617.6 280.7 618.4 276.7 619.1 279.1 619.9 277.4 620.6 274.6 621.4 278.7 622.1 276.7 622.9 272.5 623.6 278.2 624.4 276.6 625.1 276.7 625.9 273.6 626.6 278.1 627.4 276.1 628.1 278.5 628.9 275.1 629.6 273.5 630.4 276.3 631.1 277 631.9 278 632.6 272.8 633.4 278.1 634.1 277.6 634.9 276.9 635.6 274.8 636.4 275.6 637.1 277.1 637.9 277.8 638.6 276.5 639.4 278.3 640.1 276.3 640.9 274.4 641.6 279.4 642.4 277.6 643.1 278.5 643.9 278.8 644.6 278.9 645.4 278.5 646.1 278.9 646.9 279 647.6 278.8 648.4 279.4 649.1 279.2 649.9 279.1 650.6 279.1 651.4 279.1 652.1 279.4 652.9 279.2 653.6 280 654.4 279.5 655.1 279.7 655.9 279.8 656.6 279.7 657.4 279.8 658.1 280.3 658.9 280.1 659.6 280.6 660.4 280.4 661.1 280 661.9 280.1 662.6 280.5 663.4 280.7" fill="none" stroke="#10c010" stroke-width="0.5"/>
<path d="M195.4 269.9 196.2 269.9 196.9 269.6 197.7 269.2 198.4 268.8 199.2 268.5 199.9 268.1 200.7 268.5 201.4 268.9 202.2 269.5 202.9 269.3 203.7 268 204.4 266.7 205.2 265.3 205.9 266.7 206.7 268.4 207.4 270.1 208.2 272.8 208.9 272.1 209.7 273.8 210.4 272.9 211.2 269.1 211.9 267.8 212.7 261.1 213.4 257.3 214.2 257.3 214.9 256.4 215.7 261.7 216.4 266.1 217.2 267.2 217.9 266.5 218.7 263.5 219.4 265.1 220.2 262.4 220.9 259.5 221.7 258.7 222.4 259.6 223.2 263.1 223.9 264.3 224.7 260.7 225.4 262.2 226.2 260.3 226.9 261.3 227.7 265.4 228.4 269.4 229.2 271 229.9 273.6 230.7 276.9 231.4 274.4 232.2 272.1 232.9 271.2 233.7 272.1 234.4 273.5 235.2 274.7 235.9 276.1 236.7 277.4 237.4 277.6 238.2 277.8 238.9 277.9 239.7 278 240.4 278 241.2 278.1 241.9 278.2 242.7 278.4 243.4 278.2 244.2 278.1 244.9 278 245.7 277.9 246.4 277.7 247.2 277.6 247.9 277.5 248.7 277.4 249.4 276.8 250.2 276.1 250.9 275.4 251.7 272.8 252.4 270.3 253.2 267.7 253.9 266.8 254.7 267 255.4 266.9 256.1 267.2 256.9 266.9 257.6 265.9 258.4 266.7 259.1 267.3 259.9 265.3 260.6 265.8 261.4 266.1 262.1 261.5 262.9 260.5 263.6 260.5 264.4 257.5 265.1 260 265.9 262 266.6 257.1 267.4 258.1 268.1 256.7 268.9 258.5 269.6 260.6 270.4 265.5 271.1 262.4 271.9 259.3 272.6 259.2 273.4 254.9 274.1 256 274.9 260.4 275.6 263.6 276.4 269.8 277.1 275.6 277.9 273.4 278.6 274.9 279.4 274.9 280.1 276 280.9 274.7 281.6 272.9 282.4 271.3 283.1 269.6 283.9 268.2 284.6 267.9 285.4 267.7 286.1 267.4 286.9 267.2 287.6 267.2 288.4 267.2 289.1 267.1 289.9 268.9 290.6 271.9 291.4 275 292.1 272.6 292.9 269.4 293.6 266.3 294.4 263.1 295.1 262.7 295.9 262.8 296.6 263.1 297.4 263.2 298.1 263.1 298.9 262.8 299.6 262.6 300.4 262.3 301.1 266.1 301.9 271.7 302.6 273.5 303.4 269.8 304.1 267.5 304.9 267.7 305.6 262.9 306.4 255.5 307.1 254.5 307.9 256.8 308.6 254.8 309.4 257.3 310.1 255 310.9 258.3 311.6 258.8 312.4 264.1 313.1 261.6 313.9 258.3 314.6 255.9 315.4 251.9 316.1 253.1 316.9 256.1 317.6 255.2 318.4 252.2 319.1 249 319.9 248 320.6 252.7 321.4 259.1 322.1 264.1 322.9 268 323.6 276.3 324.4 272.8 325.1 269.2 325.9 270.3 326.6 266.1 327.4 265.3 328.1 264.4 328.9 263.4 329.6 262.5 330.4 261.7 331.1 263.8 331.9 266.3 332.6 268.9 333.4 271.3 334.1 271.6 334.9 271.6 335.6 271.7 336.4 271.8 337.1 269.6 337.9 266.8 338.6 264.1 339.4 261.2 340.1 259.2 340.9 259.4 341.6 259.6 342.4 261.5 343.1 265 343.9 264.7 344.6 263.1 345.4 262 346.1 261.9 346.9 260 347.6 253 348.4 245.2 349.1 245.5 349.9 247.8 350.6 249.1 351.4 248.3 352.1 250.6 352.9 250.5 353.6 262.9 354.4 257.5 355.1 255.6 355.9 250.7 356.6 246.9 357.4 244.1 358.1 243.8 358.9 252.4 359.6 243.4 360.4 242.1 361.1 243.2 361.9 244 362.6 250.7 363.4 264.4 364.1 259.7 364.9 266 365.6 266.2 366.4 264.6 367.1 266.4 367.9 267.7 368.6 266.2 369.4 265.6 370.1 265 370.9 264.4 371.6 263.4 372.4 262.3 373.1 261.2 373.9 261.8 374.6 263.9 375.4 266.3 376.1 268.5 376.9 266.5 377.6 264.9 378.4 262.8 379.1 261 379.9 260.5 380.6 259.5 381.4 258.9 382.1 258.7 382.9 262.9 383.6 268.1 384.4 271.8 385.1 270.1 385.9 268.2 386.6 265.9 387.4 263.9 388.1 261.9 388.9 262 389.6 264 390.4 264.2 391.1 265.2 391.9 264.8 392.6 263.2 393.4 264.1 394.1 258.6 394.9 262.4 395.6 255.5 396.4 257.3 397.1 259 397.9 255 398.6 253.9 399.4 252.1 400.1 251.7 400.9 252 401.6 252 402.4 247.5 403.1 249.9 403.9 249.8 404.6 257.3 405.4 249.9 406.1 254.6 406.9 258.6 407.6 258.1 408.4 256.7 409.1 264.5 409.9 256.2 410.6 264.3 411.4 273.6 412.1 274.6 412.9 272.9 413.6 272 414.4 272.9 415.1 272.2 415.9 272.7 416.6 273.2 417.4 273.7 418.1 274.2 418.9 274.3 419.6 272.9 420.4 271.3 421.1 269.8 421.9 268.3 422.6 266.8 423.4 266.7 424.1 266.9 424.9 267.2 425.6 267.4 426.4 269.6 427.1 272.9 427.9 276 428.6 279.2 429.4 279.3 430.1 277.9 430.9 276.4 431.6 274.2 432.4 271 433.1 267.9 433.9 264.6 434.6 264.4 435.4 265.2 436.1 266.1 436.9 268.1 437.6 268.3 438.4 270.5 439.1 263.9 439.9 261.8 440.6 252.4 441.4 254.3 442.1 254.7 442.9 254.3 443.6 254.1 444.4 255.6 445.1 253.6 445.9 252.3 446.6 252.7 447.4 252.9 448.1 255.9 448.9 265 449.6 255 450.4 258.8 451.1 249.9 451.9 247.9 452.6 250.1 453.4 253.5 454.1 258.4 454.9 262.3 455.6 266.6 456.4 268.6 457.1 271.8 457.9 275.2 458.6 277.6 459.4 278.8 460.1 278.5 460.9 277.2 461.6 275.9 462.4 274.6 463.1 273.9 463.9 273.8 464.6 273.8 465.4 273.8 466.1 273.8 466.9 273.9 467.6 274.4 468.4 274.9 469.1 275.4 469.9 275.8 470.6 276.4 471.4 274.6 472.1 271.5 472.9 268.4 473.6 268.7 474.4 269.2 475.1 269.6 475.9 270.1 476.6 269.9 477.4 269.7 478.1 269.5 478.9 269.3 479.6 271.5 480.4 274.6 481.1 276.1 481.9 275.1 482.6 275.1 483.4 273.3 484.1 265.8 484.9 259.6 485.6 258 486.4 253.2 487.1 252.2 487.9 255.9 488.6 257.3 489.4 257.9 490.1 266.6 490.9 264.1 491.6 259.4 492.4 249.5 493.1 247.9 493.9 249.5 494.6 258.2 495.4 259.5 496.1 255.1 496.9 255.1 497.6 256.4 498.4 259.2 499.1 253.9 499.9 256.3 500.6 260.9 501.4 262 502.1 262.4 502.9 262.4 503.6 265.1 504.4 264.7 505.1 264.2 505.9 263.8 506.6 263.5 507.4 263.2 508.1 263 508.9 262.7 509.6 262.8 510.4 263.4 511.1 264.2 511.9 264.7 512.6 265 513.4 263.3 514.1 261.6 514.9 260.6 515.6 260.3 516.4 260 517.1 259.8 517.9 260 518.6 261 519.4 261.9 520.1 263 520.9 264.2 521.6 265.6 522.4 267.2 523.1 266.7 523.9 265.7 524.6 264.8 525.4 267.2 526.1 265.4 526.9 263.3 527.6 264.7 528.4 264.8 529.1 257.7 529.9 253.5 530.6 249.6 531.4 257.8 532.1 257.6 532.9 264.1 533.6 257 534.4 253.3 535.1 252.8 535.9 252.5 536.6 253.1 537.4 250.6 538.1 253.8 538.9 253.2 539.6 255.9 540.4 253.8 541.1 255.2 541.9 259.5 542.6 261.3 543.4 261.2 544.1 258.9 544.9 256.8 545.6 256.1 546.4 263.9 547.1 271.6 547.9 270 548.6 270.2 549.4 272.1 550.1 271.5 550.9 270.8 551.6 272.1 552.4 273.4 553.1 274.6 553.9 274.3 554.6 272.5 555.4 270.7 556.1 268.8 556.9 268 557.6 268 558.4 268 559.1 268 559.9 268.7 560.6 270.3 561.4 271.9 562.1 273.4 562.9 274.1 563.6 273.1 564.4 272 565.1 271 565.9 270 566.6 269 567.4 268.8 568.1 268.5 568.9 268.4 569.6 268.1 570.4 269.6 571.1 271.1 571.9 273.8 572.6 276.9 573.4 276 574.1 276 574.9 278.3 575.6 271.5 576.4 261.5 577.1 258.5 577.9 257.5 578.6 258.2 579.4 259.6 580.1 259.3 580.9 256.7 581.6 258.6 582.4 259.2 583.1 259.2 583.9 263.4 584.6 259.5 585.4 259.6 586.1 255.8 586.9 248.2 587.6 243.8 588.4 244.3 589.1 246.4 589.9 247.5 590.6 251.9 591.4 256 592.1 263.9 592.9 272.4 593.6 273.4 594.4 274.4 595.1 276.8 595.9 277.1 596.6 275.5 597.4 273.7 598.1 272.1 598.9 270.4 599.6 269.8 600.4 269.7 601.1 269.8 601.9 269.8 602.6 270.6 603.4 272 604.1 273.3 604.9 274.6 605.6 274.6 606.4 273.3 607.1 271.9 607.9 270.6 608.6 269.2 609.4 268 610.1 268.3 610.9 268.5 611.6 268.8 612.4 269 613.1 270.8 613.9 272.7 614.6 274.4 615.4 276.3 616.1 275.2 616.9 274.4 617.6 274.5 618.4 273.8 619.1 274.2 619.9 269.9 620.6 268.7 621.4 264.8 622.1 256.7 622.9 260.7 623.6 256.9 624.4 262 625.1 267.9 625.9 267 626.6 265.9 627.4 267.7 628.1 262.8 628.9 256.6 629.6 256.5 630.4 255 631.1 254.4 631.9 256.8 632.6 257.3 633.4 257 634.1 256 634.9 255 635.6 257.3 636.4 259.4 637.1 261.6 637.9 262.1 638.6 265.2 639.4 266.6 640.1 271.4 640.9 270 641.6 271.3 642.4 271.7 643.1 270.5 643.9 269.7 644.6 271.1 645.4 272.5 646.1 273.8 646.9 275.2 647.6 273.6 648.4 272 649.1 270.4 649.9 268.9 650.6 268.7 651.4 268.5 652.1 268.3 652.9 268.2 653.6 268 654.4 268.8 655.1 270.4 655.9 272 656.6 273.6 657.4 273.4 658.1 271.7 658.9 269.9 659.6 268.1 660.4 267 661.1 266.8 661.9 266.6 662.6 266.4 663.4 266.1 663.4 279.1 662.6 280.3 661.9 279.9 661.1 280 660.4 279.3 659.6 279.4 658.9 279.6 658.1 279.3 657.4 278.6 656.6 279.6 655.9 278.7 655.1 278.7 654.4 278.3 653.6 278.7 652.9 279.1 652.1 278.3 651.4 278.8 650.6 278.5 649.9 278.7 649.1 277.7 648.4 278.6 647.6 278.8 646.9 278.8 646.1 277.5 645.4 277.8 644.6 277.7 643.9 277.2 643.1 277.9 642.4 278 641.6 277.1 640.9 274.4 640.1 275.3 639.4 272.6 638.6 275.5 637.9 273.3 637.1 273.5 636.4 272.8 635.6 274.6 634.9 276.1 634.1 276.4 633.4 276.5 632.6 275.6 631.9 275.8 631.1 273.1 630.4 274.3 629.6 275.6 628.9 271.7 628.1 273.2 627.4 274.8 626.6 272.3 625.9 274.3 625.1 276 624.4 275.8 623.6 275 622.9 276.9 622.1 275.3 621.4 276.2 620.6 274.6 619.9 275.1 619.1 277.4 618.4 276.4 617.6 279 616.9 279.3 616.1 280.1 615.4 279.9 614.6 279 613.9 280.2 613.1 279.8 612.4 279.4 611.6 280.1 610.9 280 610.1 279.5 609.4 279.1 608.6 279 607.9 279.8 607.1 279.5 606.4 279.6 605.6 279.6 604.9 279.3 604.1 279.4 603.4 279.3 602.6 279.7 601.9 279.1 601.1 278.8 600.4 278.4 599.6 278.7 598.9 279.3 598.1 278.6 597.4 278.2 596.6 278.7 595.9 278.7 595.1 277.3 594.4 273.7 593.6 272.4 592.9 273.2 592.1 269.5 591.4 266.5 590.6 267.3 589.9 267 589.1 267.1 588.4 265.8 587.6 267 586.9 265.1 586.1 267.3 585.4 268.8 584.6 265.7 583.9 274.3 583.1 271.1 582.4 273.8 581.6 272 580.9 268.2 580.1 272 579.4 274.2 578.6 273.9 577.9 273.4 577.1 274.1 576.4 272.5 575.6 277.8 574.9 278 574.1 274.6 573.4 276.1 572.6 279.2 571.9 280.3 571.1 280.2 570.4 281.1 569.6 280.5 568.9 280.5 568.1 279.7 567.4 280.8 566.6 280.1 565.9 279.3 565.1 279.9 564.4 279.2 563.6 279.9 562.9 280.3 562.1 279.1 561.4 280 560.6 279.9 559.9 279.9 559.1 279.6 558.4 279 557.6 279.8 556.9 279.5 556.1 278.6 555.4 278.8 554.6 279.4 553.9 279.1 553.1 278.5 552.4 278.6 551.6 277.9 550.9 276.8 550.1 275.9 549.4 274.1 548.6 271.6 547.9 272.4 547.1 274 546.4 272.5 545.6 270.2 544.9 270.4 544.1 270.7 543.4 271.5 542.6 269.7 541.9 271.9 541.1 270.3 540.4 270.6 539.6 272.6 538.9 269.5 538.1 271.8 537.4 268.1 536.6 270.9 535.9 268.8 535.1 268.1 534.4 265.4 533.6 266 532.9 271.9 532.1 266.2 531.4 272 530.6 264.9 529.9 266.6 529.1 267.7 528.4 273.3 527.6 269 526.9 265.8 526.1 268.6 525.4 272.8 524.6 269.7 523.9 274 523.1 273 522.4 273.5 521.6 272.5 520.9 273.2 520.1 272.2 519.4 271.1 518.6 272.1 517.9 271.7 517.1 272.1 516.4 271.3 515.6 270.9 514.9 270.7 514.1 270.9 513.4 270.7 512.6 270.6 511.9 270.4 511.1 271.6 510.4 271.1 509.6 271.3 508.9 270.6 508.1 271 507.4 270.9 506.6 271.4 505.9 271 505.1 270.2 504.4 267.7 503.6 266.2 502.9 262 502.1 262.9 501.4 264 500.6 263.2 499.9 263.5 499.1 264.2 498.4 272.6 497.6 266.1 496.9 264 496.1 265.7 495.4 274.4 494.6 274.4 493.9 263.4 493.1 263.3 492.4 264 491.6 274.1 490.9 276.2 490.1 275.3 489.4 264.3 488.6 265.8 487.9 265.4 487.1 265.7 486.4 267.5 485.6 275.9 484.9 270.4 484.1 268.6 483.4 271 482.6 273.9 481.9 273.3 481.1 275.7 480.4 281.6 479.6 282.7 478.9 282.7 478.1 282.4 477.4 282.6 476.6 282.3 475.9 282.9 475.1 282.5 474.4 283 473.6 282.6 472.9 282.3 472.1 282.5 471.4 283.4 470.6 283 469.9 282.3 469.1 282.5 468.4 282.8 467.6 283.3 466.9 283.3 466.1 283.1 465.4 282.6 464.6 282.9 463.9 282.4 463.1 283.3 462.4 283.3 461.6 283 460.9 282.7 460.1 282.5 459.4 282.1 458.6 278 457.9 273.8 457.1 269.8 456.4 266.9 455.6 268.2 454.9 266 454.1 265.9 453.4 264.9 452.6 264.4 451.9 264 451.1 265 450.4 273.7 449.6 263 448.9 274.1 448.1 263.4 447.4 262.2 446.6 263.4 445.9 265.6 445.1 264.6 444.4 267.4 443.6 267.1 442.9 264 442.1 267 441.4 269.4 440.6 266.2 439.9 276.7 439.1 268 438.4 268.7 437.6 268 436.9 270.9 436.1 270.8 435.4 276.5 434.6 280.4 433.9 280 433.1 281.2 432.4 281.9 431.6 282.3 430.9 282.2 430.1 283.1 429.4 283.2 428.6 283.4 427.9 282.6 427.1 283.3 426.4 282.3 425.6 283.1 424.9 283.2 424.1 282.8 423.4 282.9 422.6 282.6 421.9 282 421.1 282.4 420.4 281.8 419.6 282.2 418.9 281.5 418.1 281.7 417.4 281.6 416.6 281.6 415.9 281.4 415.1 281.6 414.4 278 413.6 272 412.9 273.2 412.1 276.3 411.4 273.1 410.6 272.2 409.9 271.5 409.1 278 408.4 263.7 407.6 263.5 406.9 264.6 406.1 263.1 405.4 260.4 404.6 273.5 403.9 262.2 403.1 262.6 402.4 259.3 401.6 263.5 400.9 260.5 400.1 261.7 399.4 264.1 398.6 265 397.9 261.9 397.1 263.2 396.4 264.6 395.6 263.8 394.9 277.7 394.1 276 393.4 268.3 392.6 264.5 391.9 268.9 391.1 267.7 390.4 266.5 389.6 275.4 388.9 279 388.1 278.2 387.4 279.1 386.6 278.6 385.9 276.9 385.1 278.4 384.4 278 383.6 277.5 382.9 278.7 382.1 278 381.4 277.3 380.6 279 379.9 277.3 379.1 278 378.4 278.1 377.6 277.9 376.9 277.5 376.1 279.1 375.4 278.4 374.6 278.6 373.9 278.8 373.1 279.1 372.4 279.2 371.6 279.2 370.9 279 370.1 279.4 369.4 278.8 368.6 278.8 367.9 273.2 367.1 266.4 366.4 263.2 365.6 265.2 364.9 265 364.1 262.3 363.4 276.7 362.6 262.7 361.9 259.6 361.1 258.5 360.4 256.9 359.6 258.7 358.9 272.3 358.1 258.8 357.4 256.3 356.6 256 355.9 255.9 355.1 256.8 354.4 259.6 353.6 272.9 352.9 259 352.1 260 351.4 256.6 350.6 258 349.9 257.4 349.1 256 348.4 257.8 347.6 259.7 346.9 258.5 346.1 257.8 345.4 257.6 344.6 258.9 343.9 263.1 343.1 271.8 342.4 274.4 341.6 275 340.9 275.2 340.1 275.4 339.4 276.6 338.6 277.3 337.9 277 337.1 278.2 336.4 277.9 335.6 278.5 334.9 278.8 334.1 279.1 333.4 279 332.6 279.6 331.9 278.5 331.1 278.7 330.4 279.6 329.6 279.2 328.9 279.2 328.1 279.9 327.4 279.9 326.6 279.5 325.9 278.5 325.1 269.8 324.4 274.2 323.6 278.5 322.9 269.5 322.1 270.3 321.4 269.8 320.6 267.4 319.9 267.5 319.1 264.9 318.4 265.7 317.6 266.3 316.9 269.3 316.1 268.2 315.4 269.2 314.6 269.8 313.9 268.1 313.1 267.7 312.4 271.3 311.6 267 310.9 270 310.1 266.9 309.4 269.5 308.6 266 307.9 271.1 307.1 268.8 306.4 269.7 305.6 269.4 304.9 271 304.1 267.9 303.4 268.7 302.6 271.7 301.9 272.9 301.1 276 300.4 276.7 299.6 277.6 298.9 277.4 298.1 277.4 297.4 277.6 296.6 278.7 295.9 278.1 295.1 279.3 294.4 279.6 293.6 279.9 292.9 279.1 292.1 279.8 291.4 280.1 290.6 279.6 289.9 280 289.1 279.9 288.4 280.3 287.6 280.7 286.9 280.8 286.1 281.9 285.4 281.8 284.6 281.2 283.9 281.4 283.1 280.9 282.4 281.4 281.6 280.9 280.9 281.7 280.1 279.6 279.4 277.7 278.6 277.2 277.9 276 277.1 281.3 276.4 277.5 275.6 273.4 274.9 275.2 274.1 277 273.4 276.1 272.6 278 271.9 273.8 271.1 274.8 270.4 275.6 269.6 270.6 268.9 272.4 268.1 274.6 267.4 274.8 266.6 271.3 265.9 276.7 265.1 273.3 264.4 271 263.6 277 262.9 274.4 262.1 273.3 261.4 275.9 260.6 276.9 259.9 273.1 259.1 275.5 258.4 276.7 257.6 276.2 256.9 276.1 256.1 276.9 255.4 276.6 254.7 278.5 253.9 279 253.2 279.7 252.4 279.9 251.7 279.9 250.9 280.2 250.2 280.8 249.4 280.9 248.7 281.5 247.9 281.3 247.2 281.9 246.4 281.4 245.7 281.9 244.9 282.1 244.2 281.7 243.4 281.9 242.7 283.2 241.9 282.6 241.2 282.6 240.4 282.4 239.7 283.5 238.9 283.3 238.2 283.7 237.4 283.2 236.7 283.2 235.9 283 235.2 282 234.4 282.8 233.7 281.9 232.9 282.4 232.2 281.5 231.4 281.5 230.7 282.7 229.9 278 229.2 277.5 228.4 279.2 227.7 276.4 226.9 275.5 226.2 274 225.4 275.7 224.7 276.4 223.9 277.4 223.2 276.5 222.4 276.8 221.7 275.5 220.9 275.7 220.2 275.7 219.4 275.6 218.7 274.9 217.9 276 217.2 276.1 216.4 276.8 215.7 273.8 214.9 274.4 214.2 273.2 213.4 275.8 212.7 273.8 211.9 274.8 211.2 275.6 210.4 278.4 209.7 278.4 208.9 275.8 208.2 278.3 207.4 278.1 206.7 278.2 205.9 278.1 205.2 278.8 204.4 279.3 203.7 279.7 202.9 279.9 202.2 279.2 201.4 278.9 200.7 280.4 199.9 279.5 199.2 280.3 198.4 279.8 197.7 280.4 196.9 280.4 196.2 280.7 195.4 280.6 Z" fill="#e050e0" fill-opacity="0.5" stroke="none"/>
<path d="M195.4 279.2 195.8 269.1 196.4 269.1 196.6 279.9 197.2 273.7 197.8 276.7 198.4 269.7 199 280.2 199.6 268.6 199.8 267 200.4 267 200.8 273.4 201.4 277 202 271.6 202.3 269.1 202.9 269.1 203.2 272.5 203.8 279 204.4 267 204.9 264 205.5 264 206.2 275.7 206.8 273 207.4 277.8 208 271.7 208.6 271.7 209.2 271.4 209.8 278.3 210.4 272.4 211 263.5 211.6 263.5 212.2 270.2 212.8 261.4 213.4 264.8 213.7 231.6 214.3 231.6 214.6 266.2 215.2 247.5 215.8 272.1 216.1 252.7 216.7 252.7 217 270.1 217.6 257.9 218.2 267.1 218.8 253 219.1 245.9 219.7 245.9 220 258.9 220.6 262.1 221.2 226.6 221.8 226.6 222.4 256.8 223 273.6 223.2 240.8 223.8 240.8 224.2 276.3 224.8 254.6 225.4 264.4 225.8 236.1 226.4 236.1 226.6 273.7 227.2 257.6 227.9 258.7 228.5 258.7 229 277.6 229.6 269.7 230.3 272.5 230.9 272.5 231.4 278.8 232 274 232.6 280.5 232.7 270.1 233.3 270.1 233.8 279.8 234.4 275.9 235 281.3 235.6 275.7 236.2 282.2 236.4 277.2 237 277.2 237.4 283 238 277.7 238.6 282.7 239.2 278.1 239.8 281.9 240.4 279.7 241 281.3 241.6 279.4 242.2 282.6 242.5 278.2 243.1 278.2 243.4 280.9 244 279.3 244.6 281.1 245.2 279.3 245.8 281.7 246.4 278 247 281.2 247.6 279.5 248.2 280.1 248.6 277.2 249.2 277.2 249.4 280.5 250 276.1 250.6 275.1 251.2 275.1 251.8 276.9 252.4 271 253 266 253.6 266 254.2 278.7 254.8 271.5 255.4 273.2 256 265.2 256.7 262.8 257.3 262.8 257.8 274.8 258.4 264.5 259 269.3 259.6 263.1 259.7 250.9 260.3 250.9 260.8 258.8 261.2 247.9 261.8 247.9 262 258.3 262.6 270.7 263.2 229.6 263.8 229.6 264.4 255.9 265 269 265.2 236.7 265.8 236.7 266.2 266.8 266.8 238.5 267.4 264.9 267.9 223.6 268.5 223.6 268.6 272 269.2 239 269.9 248.9 270.5 248.9 271 273.8 271.6 254.2 271.9 229.6 272.5 229.6 272.8 247.2 273.4 271 273.5 210.8 274.1 210.8 274.6 265.7 275 240.8 275.6 240.8 275.8 269.5 276.4 266.5 277 267.2 277.6 267.2 278.2 275.5 278.8 273.1 279.4 277.4 280 275.6 280.6 275.6 281.2 274.6 281.8 278.9 282.4 275.9 283 278 283.5 267 284.1 267 284.2 281.2 284.8 270.1 285.4 279.7 286 274.1 286.1 266 286.7 266 287.2 270.9 287.8 277.9 288.4 271 289 277.2 289.2 266 289.8 266 290.2 278.5 290.8 273.2 291.2 275.1 291.8 275.1 292 274.7 292.6 276.1 293.2 274 293.8 278.2 294.2 260.9 294.8 260.9 295 276.5 295.6 266.5 296.2 277.5 296.8 269.6 297.3 262 297.9 262 298 264.3 298.6 276 299.2 263.7 299.8 276.5 300.3 260.9 300.9 260.9 301.6 269.6 302.2 276.5 302.4 277.3 303 277.3 303.4 268.5 304 268.1 304.6 267.9 305 259.1 305.6 259.1 305.8 264.5 306.4 226.6 307 226.6 307.6 247.6 308.2 263 308.5 234.7 309.1 234.7 309.4 263.1 310 247.2 310.5 235.7 311.1 235.7 311.2 245.5 311.8 265.9 312.4 255.7 312.5 255 313.1 255 313.6 254.9 314.2 266.5 314.8 251.4 315.2 219.5 315.8 219.5 316 238.5 316.6 258.5 317.2 236.7 317.8 236.7 318.4 230.9 319 264.8 319.6 212 320.2 212 320.8 243.4 321.2 241.8 321.8 241.8 322 255.6 322.6 270.9 323 273.3 323.6 273.3 323.8 276.2 324.4 272.8 325 270 325.6 268.4 326.1 265.3 326.7 265.3 326.8 270.5 327.4 276.3 328 267.7 328.6 274.2 329.2 267 329.8 278.3 330.1 259.9 330.7 259.9 331 277.2 331.6 266 332.2 276.1 332.8 269.8 333.2 271.1 333.8 271.1 334 272 334.6 277.7 335.2 275.7 335.8 278.2 336.2 271.2 336.8 271.2 337 278.1 337.6 273.4 338.2 272.9 338.8 266.2 339.4 272.8 339.7 257 340.3 257 340.6 274.4 341.2 261.7 341.7 258 342.3 258 343 272.1 343.6 268 344.2 271.2 344.4 271.3 345 271.3 345.4 270 346 269.8 346.4 269.2 347 269.2 347.2 256.4 347.8 252.5 348 221.5 348.6 221.5 349 251.8 349.6 243.1 350 232.7 350.6 232.7 350.8 242.8 351.4 253.1 352 238 352.5 233.7 353.1 233.7 353.2 242.3 353.8 268.1 354.4 258.3 354.5 259.1 355.1 259.1 355.6 248.2 356.1 232.7 356.7 232.7 357.4 246.7 357.6 216.4 358.2 216.4 358.6 263.2 359.2 245.6 359.8 251.2 360 214.8 360.6 214.8 361 254.9 361.6 215.4 362.2 215.4 362.8 243.7 363 240.8 363.6 240.8 364 265 364.7 269.2 365.3 269.2 365.8 267.7 366.4 267.4 367 266.2 367.6 266 367.7 265.6 368.3 265.6 368.8 268.5 369.4 274.5 370 270.6 370.6 278.7 370.7 263 371.3 263 371.8 279.1 372.4 261.9 373 274.2 373.2 258.9 373.8 258.9 374.2 278.6 374.8 265.1 375.4 276.6 375.8 267.2 376.4 267.2 376.6 278.1 377.2 265.7 377.8 277.8 378.4 261.5 378.9 258.1 379.5 258.1 379.6 263.9 380.2 271.6 380.8 265 381.4 271.5 381.9 254.8 382.5 254.8 383.2 269.2 383.8 277.1 383.9 271.4 384.5 271.4 385 276.8 385.6 268.5 386.2 273.8 386.8 268.2 387.4 277.9 388 259.9 388.6 259.9 389.2 264.1 389.8 271.5 390.4 262.7 391 262.6 391.6 262.6 392.2 266.2 392.8 263.5 393.1 260.6 393.7 260.6 394 255.3 394.3 231.6 394.9 231.6 395.2 255.3 395.8 258.9 396.4 251.1 396.7 253 397.3 253 397.6 251.2 398.2 258.3 398.8 228.6 399.4 228.6 400 245.3 400.6 236.7 401.2 236.7 401.8 261.7 402 226 402.6 226 403 259.9 403.6 233.5 404.2 257.7 404.9 228 405.5 228 406 247.1 406.6 260 406.9 251 407.5 251 407.8 260.9 408.4 250.5 409 267 409.5 235.8 410.1 235.8 410.8 264.1 410.9 274.7 411.5 274.7 412 273.7 412.6 274.4 413.2 273.1 413.8 273.1 414.4 271.1 415 271.1 415.6 276.9 416.2 280.3 416.8 276.9 417.4 279.2 418 275.8 418.5 274.1 419.1 274.1 419.2 275.6 419.8 280.7 420.4 271.5 421 279.4 421.6 275.7 422.2 278.6 422.5 265 423.1 265 423.4 280.1 424 269.5 424.6 281 425.2 273.8 425.6 266 426.2 266 426.4 272.9 427 281.7 427.6 275.1 428.2 282.2 428.6 280.2 429.2 280.2 429.4 282.5 430 278.7 430.6 281.2 431 275.1 431.6 275.1 431.8 279.7 432.4 273.4 433 277.3 433.7 263 434.3 263 434.8 268.2 435.4 275.5 436.1 262.6 436.7 262.6 437.2 267.8 437.8 272.8 438.1 272.8 438.7 272.8 439 264.9 439.6 253.2 440.1 236.3 440.7 236.3 441.4 269.2 442 255.1 442.2 238.6 442.8 238.6 443.2 245.1 443.8 267.1 444.4 251.4 444.6 238.7 445.2 238.7 445.6 238.4 446.2 257.3 446.6 232.3 447.2 232.3 447.4 260.7 448 251 448.7 248.9 449.3 248.9 449.8 259.9 450.4 247.8 451 257.6 451.3 216.4 451.9 216.4 452.2 261.9 452.7 226.6 453.3 226.6 454 249.7 454.4 253 455 253 455.2 260.9 455.8 272.2 456.4 275.3 457 275.3 457.6 276.3 458.2 278.1 458.8 277.9 459.4 279.2 460 279.2 460.6 281 461.2 279.1 461.8 281.1 462.5 273.1 463.1 273.1 463.6 273.9 464.2 280.7 464.8 274.6 465.4 280.8 466 276.3 466.5 273.1 467.1 273.1 467.8 282.6 468.4 276 469 281 469.6 279 470.2 281.9 470.6 276.2 471.2 276.2 471.4 281.7 472 274.5 472.6 267 473.2 267 473.8 279.2 474.4 275.1 475 279.5 475.7 269.1 476.3 269.1 476.8 272.7 477.4 279.7 478 271.3 478.6 279 478.7 268 479.3 268 479.8 281 480.4 276.4 481 277.9 481.2 277.9 481.8 277.9 482.2 276.8 482.8 276.5 483.2 275.9 483.8 275.9 484 266.1 484.6 262 485.2 235.4 485.8 235.4 486.4 244 487 265.9 487.6 252.9 487.9 238.8 488.5 238.8 488.8 247.3 489.4 260.1 489.9 251 490.5 251 490.6 266.4 491.2 257.1 491.8 269.4 492.4 238.8 492.5 217.5 493.1 217.5 493.6 232.6 494.2 262.1 494.6 229.6 495.2 229.6 495.4 271 496 251.2 496.6 263.6 497 240.8 497.6 240.8 497.8 266.8 498.4 246.5 498.6 231.7 499.2 231.7 499.6 252.3 500.2 262.8 500.4 259 501 259 501.4 263.4 502 262.3 502.6 264.3 503.1 264.6 503.7 264.6 503.8 266.3 504.4 264.7 505 268.5 505.6 266.9 506.1 263 506.7 263 507.4 268.4 508 264.8 508.6 270.2 509.2 262 509.8 262 510.4 267.1 511 270.3 511.6 265.3 512.2 265 512.8 265 513.4 269.7 514 264.6 514.2 259.9 514.8 259.9 515.2 261.5 515.8 270.5 516.4 259.6 517 269.8 517.3 258.5 517.9 258.5 518.2 270.5 518.8 266.5 519.4 269.4 520 265.6 520.3 263 520.9 263 521.2 268.7 521.8 272 522.4 267.1 523 267.1 523.6 269.4 524.2 270.1 524.8 263.2 525 260.6 525.6 260.6 526 261.4 526.6 265.9 527.2 260.5 527.4 258 528 258 528.4 254.2 529 267.1 529.6 242.8 530.3 220.5 530.9 220.5 531.4 268.5 532 253.9 532.5 251 533.1 251 533.8 256.6 534.4 246.2 534.5 225.6 535.1 225.6 535.6 247.7 536.2 255.7 536.8 233.6 537.2 218.1 537.8 218.1 538 224 538.6 265.4 539.2 225.6 539.8 225.6 540.4 222.1 541 222.1 541.6 236.2 542.2 267.9 542.4 246.9 543 246.9 543.4 263 544 251.2 544.6 268.7 545.1 228.6 545.7 228.6 545.8 269.4 546.4 259.7 546.7 267.2 547.3 267.2 547.6 271 548.2 271.5 548.8 268.9 549.4 273.6 550 271.9 550.1 269.6 550.7 269.6 551.2 271.7 551.8 277.2 552.4 275 553 277.4 553.2 275.1 553.8 275.1 554.2 278.4 554.8 274.9 555.4 277.2 556 272.7 556.2 267 556.8 267 557.2 268 557.8 279.4 558.4 268.6 559 278.3 559.3 267 559.9 267 560.2 279 560.8 270.7 561.4 279.9 562 274.9 562.3 274.1 562.9 274.1 563.2 273.9 563.8 279.5 564.4 275.1 565 279.5 565.6 270.7 566.2 277.9 566.4 268 567 268 567.4 277.6 568 271.7 568.6 278.1 569.2 270.3 569.4 267 570 267 570.4 274.5 571 279.3 571.6 275.8 572.2 279.6 572.9 275.3 573.5 275.3 574 278.1 574.5 281.4 575.1 281.4 575.8 266.7 576.4 262.4 576.5 230.3 577.1 230.3 577.6 249 578 227.6 578.6 227.6 578.8 243.5 579.4 272.2 580 236.7 580.6 236.7 581.2 249.5 581.8 271.9 582.2 232.3 582.8 232.3 583 270.6 583.6 255.3 584.3 248.9 584.9 248.9 585.4 261.5 585.7 238.8 586.3 238.8 586.6 261.1 587.3 200.8 587.9 200.8 588.4 209.5 589 266.2 589.6 242.9 589.7 212.4 590.3 212.4 590.8 240.2 591.2 237.8 591.8 237.8 592 255.8 592.6 275.5 592.8 275.3 593.4 275.3 593.8 276.1 594.4 275.8 595 276.6 595.6 276.4 595.8 276.7 596.4 276.7 596.8 276.3 597.4 277.8 598 273.8 598.6 277.7 598.9 269.1 599.5 269.1 599.8 278.5 600.4 270.6 601 276.6 601.6 270.2 601.9 269.1 602.5 269.1 602.8 275.5 603.4 278 604 275.5 604.6 278.3 605 275.1 605.6 275.1 605.8 278.8 606.4 274.5 607 277.4 607.6 270.8 608.2 277.8 608.8 270.1 609 267 609.6 267 610 272.4 610.6 276.6 611.2 271.5 611.8 277.4 612.1 268 612.7 268 613 278 613.6 275.9 614.2 278.7 614.8 276 615.1 276.2 615.7 276.2 616 276.3 616.6 279.3 617.2 274 617.8 276.7 618.4 273.4 618.8 270.1 619.4 270.1 619.6 271 620.2 262.7 620.8 262.7 621.4 274.4 622 261.8 622.6 230.7 623.2 230.7 623.8 271.2 624.4 250.7 624.6 253 625.2 253 625.6 256.7 626.2 272.5 626.8 255.5 627.3 255 627.9 255 628 258.3 628.6 268.5 628.9 222.5 629.5 222.5 629.8 268.2 630.3 218.9 630.9 218.9 631.6 242.2 632.2 268.3 632.4 223.6 633 223.6 633.4 263.7 634 231.4 634.6 216 635.2 216 635.8 265.3 636.4 238.8 637 238.8 637.6 255.7 638 242.8 638.6 242.8 638.8 260.8 639.4 270.7 639.9 265.1 640.5 265.1 640.6 274.5 641.2 268.1 641.8 275.1 642.4 268.3 643 277.8 643.5 269.1 644.1 269.1 644.8 273.4 645.4 277.5 646 273.6 646.6 275.1 647.2 275.1 647.8 277.2 648.4 272.5 649 275.8 649.6 268 650.2 268 650.8 270 651.4 275.5 652 268 652.6 278.2 653.2 272.3 653.7 267 654.3 267 654.4 269.9 655 278.4 655.6 274.7 656.2 277.4 656.7 274.1 657.3 274.1 658 271.9 658.6 277 659.2 272.7 659.8 266 660.4 266 661 277.6 661.6 273.8 662.2 277.9 662.8 265 663.4 265 663.6 271.7 663.4 279.1 662.6 280.3 661.9 279.9 661.1 280 660.4 279.3 659.6 279.4 658.9 279.6 658.1 279.3 657.4 278.6 656.6 279.6 655.9 278.7 655.1 278.7 654.4 278.3 653.6 278.7 652.9 279.1 652.1 278.3 651.4 278.8 650.6 278.5 649.9 278.7 649.1 277.7 648.4 278.6 647.6 278.8 646.9 278.8 646.1 277.5 645.4 277.8 644.6 277.7 643.9 277.2 643.1 277.9 642.4 278 641.6 277.1 640.9 274.4 640.1 275.3 639.4 272.6 638.6 275.5 637.9 273.3 637.1 273.5 636.4 272.8 635.6 274.6 634.9 276.1 634.1 276.4 633.4 276.5 632.6 275.6 631.9 275.8 631.1 273.1 630.4 274.3 629.6 275.6 628.9 271.7 628.1 273.2 627.4 274.8 626.6 272.3 625.9 274.3 625.1 276 624.4 275.8 623.6 275 622.9 276.9 622.1 275.3 621.4 276.2 620.6 274.6 619.9 275.1 619.1 277.4 618.4 276.4 617.6 279 616.9 279.3 616.1 280.1 615.4 279.9 614.6 279 613.9 280.2 613.1 279.8 612.4 279.4 611.6 280.1 610.9 280 610.1 279.5 609.4 279.1 608.6 279 607.9 279.8 607.1 279.5 606.4 279.6 605.6 279.6 604.9 279.3 604.1 279.4 603.4 279.3 602.6 279.7 601.9 279.1 601.1 278.8 600.4 278.4 599.6 278.7 598.9 279.3 598.1 278.6 597.4 278.2 596.6 278.7 595.9 278.7 595.1 277.3 594.4 273.7 593.6 272.4 592.9 273.2 592.1 269.5 591.4 266.5 590.6 267.3 589.9 267 589.1 267.1 588.4 265.8 587.6 267 586.9 265.1 586.1 267.3 585.4 268.8 584.6 265.7 583.9 274.3 583.1 271.1 582.4 273.8 581.6 272 580.9 268.2 580.1 272 579.4 274.2 578.6 273.9 577.9 273.4 577.1 274.1 576.4 272.5 575.6 277.8 574.9 278 574.1 274.6 573.4 276.1 572.6 279.2 571.9 280.3 571.1 280.2 570.4 281.1 569.6 280.5 568.9 280.5 568.1 279.7 567.4 280.8 566.6 280.1 565.9 279.3 565.1 279.9 564.4 279.2 563.6 279.9 562.9 280.3 562.1 279.1 561.4 280 560.6 279.9 559.9 279.9 559.1 279.6 558.4 279 557.6 279.8 556.9 279.5 556.1 278.6 555.4 278.8 554.6 279.4 553.9 279.1 553.1 278.5 552.4 278.6 551.6 277.9 550.9 276.8 550.1 275.9 549.4 274.1 548.6 271.6 547.9 272.4 547.1 274 546.4 272.5 545.6 270.2 544.9 270.4 544.1 270.7 543.4 271.5 542.6 269.7 541.9 271.9 541.1 270.3 540.4 270.6 539.6 272.6 538.9 269.5 538.1 271.8 537.4 268.1 536.6 270.9 535.9 268.8 535.1 268.1 534.4 265.4 533.6 266 532.9 271.9 532.1 266.2 531.4 272 530.6 264.9 529.9 266.6 529.1 267.7 528.4 273.3 527.6 269 526.9 265.8 526.1 268.6 525.4 272.8 524.6 269.7 523.9 274 523.1 273 522.4 273.5 521.6 272.5 520.9 273.2 520.1 272.2 519.4 271.1 518.6 272.1 517.9 271.7 517.1 272.1 516.4 271.3 515.6 270.9 514.9 270.7 514.1 270.9 513.4 270.7 512.6 270.6 511.9 270.4 511.1 271.6 510.4 271.1 509.6 271.3 508.9 270.6 508.1 271 507.4 270.9 506.6 271.4 505.9 271 505.1 270.2 504.4 267.7 503.6 266.2 502.9 262 502.1 262.9 501.4 264 500.6 263.2 499.9 263.5 499.1 264.2 498.4 272.6 497.6 266.1 496.9 264 496.1 265.7 495.4 274.4 494.6 274.4 493.9 263.4 493.1 263.3 492.4 264 491.6 274.1 490.9 276.2 490.1 275.3 489.4 264.3 488.6 265.8 487.9 265.4 487.1 265.7 486.4 267.5 485.6 275.9 484.9 270.4 484.1 268.6 483.4 271 482.6 273.9 481.9 273.3 481.1 275.7 480.4 281.6 479.6 282.7 478.9 282.7 478.1 282.4 477.4 282.6 476.6 282.3 475.9 282.9 475.1 282.5 474.4 283 473.6 282.6 472.9 282.3 472.1 282.5 471.4 283.4 470.6 283 469.9 282.3 469.1 282.5 468.4 282.8 467.6 283.3 466.9 283.3 466.1 283.1 465.4 282.6 464.6 282.9 463.9 282.4 463.1 283.3 462.4 283.3 461.6 283 460.9 282.7 460.1 282.5 459.4 282.1 458.6 278 457.9 273.8 457.1 269.8 456.4 266.9 455.6 268.2 454.9 266 454.1 265.9 453.4 264.9 452.6 264.4 451.9 264 451.1 265 450.4 273.7 449.6 263 448.9 274.1 448.1 263.4 447.4 262.2 446.6 263.4 445.9 265.6 445.1 264.6 444.4 267.4 443.6 267.1 442.9 264 442.1 267 441.4 269.4 440.6 266.2 439.9 276.7 439.1 268 438.4 268.7 437.6 268 436.9 270.9 436.1 270.8 435.4 276.5 434.6 280.4 433.9 280 433.1 281.2 432.4 281.9 431.6 282.3 430.9 282.2 430.1 283.1 429.4 283.2 428.6 283.4 427.9 282.6 427.1 283.3 426.4 282.3 425.6 283.1 424.9 283.2 424.1 282.8 423.4 282.9 422.6 282.6 421.9 282 421.1 282.4 420.4 281.8 419.6 282.2 418.9 281.5 418.1 281.7 417.4 281.6 416.6 281.6 415.9 281.4 415.1 281.6 414.4 278 413.6 272 412.9 273.2 412.1 276.3 411.4 273.1 410.6 272.2 409.9 271.5 409.1 278 408.4 263.7 407.6 263.5 406.9 264.6 406.1 263.1 405.4 260.4 404.6 273.5 403.9 262.2 403.1 262.6 402.4 259.3 401.6 263.5 400.9 260.5 400.1 261.7 399.4 264.1 398.6 265 397.9 261.9 397.1 263.2 396.4 264.6 395.6 263.8 394.9 277.7 394.1 276 393.4 268.3 392.6 264.5 391.9 268.9 391.1 267.7 390.4 266.5 389.6 275.4 388.9 279 388.1 278.2 387.4 279.1 386.6 278.6 385.9 276.9 385.1 278.4 384.4 278 383.6 277.5 382.9 278.7 382.1 278 381.4 277.3 380.6 279 379.9 277.3 379.1 278 378.4 278.1 377.6 277.9 376.9 277.5 376.1 279.1 375.4 278.4 374.6 278.6 373.9 278.8 373.1 279.1 372.4 279.2 371.6 279.2 370.9 279 370.1 279.4 369.4 278.8 368.6 278.8 367.9 273.2 367.1 266.4 366.4 263.2 365.6 265.2 364.9 265 364.1 262.3 363.4 276.7 362.6 262.7 361.9 259.6 361.1 258.5 360.4 256.9 359.6 258.7 358.9 272.3 358.1 258.8 357.4 256.3 356.6 256 355.9 255.9 355.1 256.8 354.4 259.6 353.6 272.9 352.9 259 352.1 260 351.4 256.6 350.6 258 349.9 257.4 349.1 256 348.4 257.8 347.6 259.7 346.9 258.5 346.1 257.8 345.4 257.6 344.6 258.9 343.9 263.1 343.1 271.8 342.4 274.4 341.6 275 340.9 275.2 340.1 275.4 339.4 276.6 338.6 277.3 337.9 277 337.1 278.2 336.4 277.9 335.6 278.5 334.9 278.8 334.1 279.1 333.4 279 332.6 279.6 331.9 278.5 331.1 278.7 330.4 279.6 329.6 279.2 328.9 279.2 328.1 279.9 327.4 279.9 326.6 279.5 325.9 278.5 325.1 269.8 324.4 274.2 323.6 278.5 322.9 269.5 322.1 270.3 321.4 269.8 320.6 267.4 319.9 267.5 319.1 264.9 318.4 265.7 317.6 266.3 316.9 269.3 316.1 268.2 315.4 269.2 314.6 269.8 313.9 268.1 313.1 267.7 312.4 271.3 311.6 267 310.9 270 310.1 266.9 309.4 269.5 308.6 266 307.9 271.1 307.1 268.8 306.4 269.7 305.6 269.4 304.9 271 304.1 267.9 303.4 268.7 302.6 271.7 301.9 272.9 301.1 276 300.4 276.7 299.6 277.6 298.9 277.4 298.1 277.4 297.4 277.6 296.6 278.7 295.9 278.1 295.1 279.3 294.4 279.6 293.6 279.9 292.9 279.1 292.1 279.8 291.4 280.1 290.6 279.6 289.9 280 289.1 279.9 288.4 280.3 287.6 280.7 286.9 280.8 286.1 281.9 285.4 281.8 284.6 281.2 283.9 281.4 283.1 280.9 282.4 281.4 281.6 280.9 280.9 281.7 280.1 279.6 279.4 277.7 278.6 277.2 277.9 276 277.1 281.3 276.4 277.5 275.6 273.4 274.9 275.2 274.1 277 273.4 276.1 272.6 278 271.9 273.8 271.1 274.8 270.4 275.6 269.6 270.6 268.9 272.4 268.1 274.6 267.4 274.8 266.6 271.3 265.9 276.7 265.1 273.3 264.4 271 263.6 277 262.9 274.4 262.1 273.3 261.4 275.9 260.6 276.9 259.9 273.1 259.1 275.5 258.4 276.7 257.6 276.2 256.9 276.1 256.1 276.9 255.4 276.6 254.7 278.5 253.9 279 253.2 279.7 252.4 279.9 251.7 279.9 250.9 280.2 250.2 280.8 249.4 280.9 248.7 281.5 247.9 281.3 247.2 281.9 246.4 281.4 245.7 281.9 244.9 282.1 244.2 281.7 243.4 281.9 242.7 283.2 241.9 282.6 241.2 282.6 240.4 282.4 239.7 283.5 238.9 283.3 238.2 283.7 237.4 283.2 236.7 283.2 235.9 283 235.2 282 234.4 282.8 233.7 281.9 232.9 282.4 232.2 281.5 231.4 281.5 230.7 282.7 229.9 278 229.2 277.5 228.4 279.2 227.7 276.4 226.9 275.5 226.2 274 225.4 275.7 224.7 276.4 223.9 277.4 223.2 276.5 222.4 276.8 221.7 275.5 220.9 275.7 220.2 275.7 219.4 275.6 218.7 274.9 217.9 276 217.2 276.1 216.4 276.8 215.7 273.8 214.9 274.4 214.2 273.2 213.4 275.8 212.7 273.8 211.9 274.8 211.2 275.6 210.4 278.4 209.7 278.4 208.9 275.8 208.2 278.3 207.4 278.1 206.7 278.2 205.9 278.1 205.2 278.8 204.4 279.3 203.7 279.7 202.9 279.9 202.2 279.2 201.4 278.9 200.7 280.4 199.9 279.5 199.2 280.3 198.4 279.8 197.7 280.4 196.9 280.4 196.2 280.7 195.4 280.6 Z" fill="#e050e0" fill-opacity="0.55" stroke="none"/>
<path d="M195.4 279.2 195.8 269.1 196.4 269.1 196.6 279.9 197.2 273.7 197.8 276.7 198.4 269.7 199 280.2 199.6 268.6 199.8 267 200.4 267 200.8 273.4 201.4 277 202 271.6 202.3 269.1 202.9 269.1 203.2 272.5 203.8 279 204.4 267 204.9 264 205.5 264 206.2 275.7 206.8 273 207.4 277.8 208 271.7 208.6 271.7 209.2 271.4 209.8 278.3 210.4 272.4 211 263.5 211.6 263.5 212.2 270.2 212.8 261.4 213.4 264.8 213.7 231.6 214.3 231.6 214.6 266.2 215.2 247.5 215.8 272.1 216.1 252.7 216.7 252.7 217 270.1 217.6 257.9 218.2 267.1 218.8 253 219.1 245.9 219.7 245.9 220 258.9 220.6 262.1 221.2 226.6 221.8 226.6 222.4 256.8 223 273.6 223.2 240.8 223.8 240.8 224.2 276.3 224.8 254.6 225.4 264.4 225.8 236.1 226.4 236.1 226.6 273.7 227.2 257.6 227.9 258.7 228.5 258.7 229 277.6 229.6 269.7 230.3 272.5 230.9 272.5 231.4 278.8 232 274 232.6 280.5 232.7 270.1 233.3 270.1 233.8 279.8 234.4 275.9 235 281.3 235.6 275.7 236.2 282.2 236.4 277.2 237 277.2 237.4 283 238 277.7 238.6 282.7 239.2 278.1 239.8 281.9 240.4 279.7 241 281.3 241.6 279.4 242.2 282.6 242.5 278.2 243.1 278.2 243.4 280.9 244 279.3 244.6 281.1 245.2 279.3 245.8 281.7 246.4 278 247 281.2 247.6 279.5 248.2 280.1 248.6 277.2 249.2 277.2 249.4 280.5 250 276.1 250.6 275.1 251.2 275.1 251.8 276.9 252.4 271 253 266 253.6 266 254.2 278.7 254.8 271.5 255.4 273.2 256 265.2 256.7 262.8 257.3 262.8 257.8 274.8 258.4 264.5 259 269.3 259.6 263.1 259.7 250.9 260.3 250.9 260.8 258.8 261.2 247.9 261.8 247.9 262 258.3 262.6 270.7 263.2 229.6 263.8 229.6 264.4 255.9 265 269 265.2 236.7 265.8 236.7 266.2 266.8 266.8 238.5 267.4 264.9 267.9 223.6 268.5 223.6 268.6 272 269.2 239 269.9 248.9 270.5 248.9 271 273.8 271.6 254.2 271.9 229.6 272.5 229.6 272.8 247.2 273.4 271 273.5 210.8 274.1 210.8 274.6 265.7 275 240.8 275.6 240.8 275.8 269.5 276.4 266.5 277 267.2 277.6 267.2 278.2 275.5 278.8 273.1 279.4 277.4 280 275.6 280.6 275.6 281.2 274.6 281.8 278.9 282.4 275.9 283 278 283.5 267 284.1 267 284.2 281.2 284.8 270.1 285.4 279.7 286 274.1 286.1 266 286.7 266 287.2 270.9 287.8 277.9 288.4 271 289 277.2 289.2 266 289.8 266 290.2 278.5 290.8 273.2 291.2 275.1 291.8 275.1 292 274.7 292.6 276.1 293.2 274 293.8 278.2 294.2 260.9 294.8 260.9 295 276.5 295.6 266.5 296.2 277.5 296.8 269.6 297.3 262 297.9 262 298 264.3 298.6 276 299.2 263.7 299.8 276.5 300.3 260.9 300.9 260.9 301.6 269.6 302.2 276.5 302.4 277.3 303 277.3 303.4 268.5 304 268.1 304.6 267.9 305 259.1 305.6 259.1 305.8 264.5 306.4 226.6 307 226.6 307.6 247.6 308.2 263 308.5 234.7 309.1 234.7 309.4 263.1 310 247.2 310.5 235.7 311.1 235.7 311.2 245.5 311.8 265.9 312.4 255.7 312.5 255 313.1 255 313.6 254.9 314.2 266.5 314.8 251.4 315.2 219.5 315.8 219.5 316 238.5 316.6 258.5 317.2 236.7 317.8 236.7 318.4 230.9 319 264.8 319.6 212 320.2 212 320.8 243.4 321.2 241.8 321.8 241.8 322 255.6 322.6 270.9 323 273.3 323.6 273.3 323.8 276.2 324.4 272.8 325 270 325.6 268.4 326.1 265.3 326.7 265.3 326.8 270.5 327.4 276.3 328 267.7 328.6 274.2 329.2 267 329.8 278.3 330.1 259.9 330.7 259.9 331 277.2 331.6 266 332.2 276.1 332.8 269.8 333.2 271.1 333.8 271.1 334 272 334.6 277.7 335.2 275.7 335.8 278.2 336.2 271.2 336.8 271.2 337 278.1 337.6 273.4 338.2 272.9 338.8 266.2 339.4 272.8 339.7 257 340.3 257 340.6 274.4 341.2 261.7 341.7 258 342.3 258 343 272.1 343.6 268 344.2 271.2 344.4 271.3 345 271.3 345.4 270 346 269.8 346.4 269.2 347 269.2 347.2 256.4 347.8 252.5 348 221.5 348.6 221.5 349 251.8 349.6 243.1 350 232.7 350.6 232.7 350.8 242.8 351.4 253.1 352 238 352.5 233.7 353.1 233.7 353.2 242.3 353.8 268.1 354.4 258.3 354.5 259.1 355.1 259.1 355.6 248.2 356.1 232.7 356.7 232.7 357.4 246.7 357.6 216.4 358.2 216.4 358.6 263.2 359.2 245.6 359.8 251.2 360 214.8 360.6 214.8 361 254.9 361.6 215.4 362.2 215.4 362.8 243.7 363 240.8 363.6 240.8 364 265 364.7 269.2 365.3 269.2 365.8 267.7 366.4 267.4 367 266.2 367.6 266 367.7 265.6 368.3 265.6 368.8 268.5 369.4 274.5 370 270.6 370.6 278.7 370.7 263 371.3 263 371.8 279.1 372.4 261.9 373 274.2 373.2 258.9 373.8 258.9 374.2 278.6 374.8 265.1 375.4 276.6 375.8 267.2 376.4 267.2 376.6 278.1 377.2 265.7 377.8 277.8 378.4 261.5 378.9 258.1 379.5 258.1 379.6 263.9 380.2 271.6 380.8 265 381.4 271.5 381.9 254.8 382.5 254.8 383.2 269.2 383.8 277.1 383.9 271.4 384.5 271.4 385 276.8 385.6 268.5 386.2 273.8 386.8 268.2 387.4 277.9 388 259.9 388.6 259.9 389.2 264.1 389.8 271.5 390.4 262.7 391 262.6 391.6 262.6 392.2 266.2 392.8 263.5 393.1 260.6 393.7 260.6 394 255.3 394.3 231.6 394.9 231.6 395.2 255.3 395.8 258.9 396.4 251.1 396.7 253 397.3 253 397.6 251.2 398.2 258.3 398.8 228.6 399.4 228.6 400 245.3 400.6 236.7 401.2 236.7 401.8 261.7 402 226 402.6 226 403 259.9 403.6 233.5 404.2 257.7 404.9 228 405.5 228 406 247.1 406.6 260 406.9 251 407.5 251 407.8 260.9 408.4 250.5 409 267 409.5 235.8 410.1 235.8 410.8 264.1 410.9 274.7 411.5 274.7 412 273.7 412.6 274.4 413.2 273.1 413.8 273.1 414.4 271.1 415 271.1 415.6 276.9 416.2 280.3 416.8 276.9 417.4 279.2 418 275.8 418.5 274.1 419.1 274.1 419.2 275.6 419.8 280.7 420.4 271.5 421 279.4 421.6 275.7 422.2 278.6 422.5 265 423.1 265 423.4 280.1 424 269.5 424.6 281 425.2 273.8 425.6 266 426.2 266 426.4 272.9 427 281.7 427.6 275.1 428.2 282.2 428.6 280.2 429.2 280.2 429.4 282.5 430 278.7 430.6 281.2 431 275.1 431.6 275.1 431.8 279.7 432.4 273.4 433 277.3 433.7 263 434.3 263 434.8 268.2 435.4 275.5 436.1 262.6 436.7 262.6 437.2 267.8 437.8 272.8 438.1 272.8 438.7 272.8 439 264.9 439.6 253.2 440.1 236.3 440.7 236.3 441.4 269.2 442 255.1 442.2 238.6 442.8 238.6 443.2 245.1 443.8 267.1 444.4 251.4 444.6 238.7 445.2 238.7 445.6 238.4 446.2 257.3 446.6 232.3 447.2 232.3 447.4 260.7 448 251 448.7 248.9 449.3 248.9 449.8 259.9 450.4 247.8 451 257.6 451.3 216.4 451.9 216.4 452.2 261.9 452.7 226.6 453.3 226.6 454 249.7 454.4 253 455 253 455.2 260.9 455.8 272.2 456.4 275.3 457 275.3 457.6 276.3 458.2 278.1 458.8 277.9 459.4 279.2 460 279.2 460.6 281 461.2 279.1 461.8 281.1 462.5 273.1 463.1 273.1 463.6 273.9 464.2 280.7 464.8 274.6 465.4 280.8 466 276.3 466.5 273.1 467.1 273.1 467.8 282.6 468.4 276 469 281 469.6 279 470.2 281.9 470.6 276.2 471.2 276.2 471.4 281.7 472 274.5 472.6 267 473.2 267 473.8 279.2 474.4 275.1 475 279.5 475.7 269.1 476.3 269.1 476.8 272.7 477.4 279.7 478 271.3 478.6 279 478.7 268 479.3 268 479.8 281 480.4 276.4 481 277.9 481.2 277.9 481.8 277.9 482.2 276.8 482.8 276.5 483.2 275.9 483.8 275.9 484 266.1 484.6 262 485.2 235.4 485.8 235.4 486.4 244 487 265.9 487.6 252.9 487.9 238.8 488.5 238.8 488.8 247.3 489.4 260.1 489.9 251 490.5 251 490.6 266.4 491.2 257.1 491.8 269.4 492.4 238.8 492.5 217.5 493.1 217.5 493.6 232.6 494.2 262.1 494.6 229.6 495.2 229.6 495.4 271 496 251.2 496.6 263.6 497 240.8 497.6 240.8 497.8 266.8 498.4 246.5 498.6 231.7 499.2 231.7 499.6 252.3 500.2 262.8 500.4 259 501 259 501.4 263.4 502 262.3 502.6 264.3 503.1 264.6 503.7 264.6 503.8 266.3 504.4 264.7 505 268.5 505.6 266.9 506.1 263 506.7 263 507.4 268.4 508 264.8 508.6 270.2 509.2 262 509.8 262 510.4 267.1 511 270.3 511.6 265.3 512.2 265 512.8 265 513.4 269.7 514 264.6 514.2 259.9 514.8 259.9 515.2 261.5 515.8 270.5 516.4 259.6 517 269.8 517.3 258.5 517.9 258.5 518.2 270.5 518.8 266.5 519.4 269.4 520 265.6 520.3 263 520.9 263 521.2 268.7 521.8 272 522.4 267.1 523 267.1 523.6 269.4 524.2 270.1 524.8 263.2 525 260.6 525.6 260.6 526 261.4 526.6 265.9 527.2 260.5 527.4 258 528 258 528.4 254.2 529 267.1 529.6 242.8 530.3 220.5 530.9 220.5 531.4 268.5 532 253.9 532.5 251 533.1 251 533.8 256.6 534.4 246.2 534.5 225.6 535.1 225.6 535.6 247.7 536.2 255.7 536.8 233.6 537.2 218.1 537.8 218.1 538 224 538.6 265.4 539.2 225.6 539.8 225.6 540.4 222.1 541 222.1 541.6 236.2 542.2 267.9 542.4 246.9 543 246.9 543.4 263 544 251.2 544.6 268.7 545.1 228.6 545.7 228.6 545.8 269.4 546.4 259.7 546.7 267.2 547.3 267.2 547.6 271 548.2 271.5 548.8 268.9 549.4 273.6 550 271.9 550.1 269.6 550.7 269.6 551.2 271.7 551.8 277.2 552.4 275 553 277.4 553.2 275.1 553.8 275.1 554.2 278.4 554.8 274.9 555.4 277.2 556 272.7 556.2 267 556.8 267 557.2 268 557.8 279.4 558.4 268.6 559 278.3 559.3 267 559.9 267 560.2 279 560.8 270.7 561.4 279.9 562 274.9 562.3 274.1 562.9 274.1 563.2 273.9 563.8 279.5 564.4 275.1 565 279.5 565.6 270.7 566.2 277.9 566.4 268 567 268 567.4 277.6 568 271.7 568.6 278.1 569.2 270.3 569.4 267 570 267 570.4 274.5 571 279.3 571.6 275.8 572.2 279.6 572.9 275.3 573.5 275.3 574 278.1 574.5 281.4 575.1 281.4 575.8 266.7 576.4 262.4 576.5 230.3 577.1 230.3 577.6 249 578 227.6 578.6 227.6 578.8 243.5 579.4 272.2 580 236.7 580.6 236.7 581.2 249.5 581.8 271.9 582.2 232.3 582.8 232.3 583 270.6 583.6 255.3 584.3 248.9 584.9 248.9 585.4 261.5 585.7 238.8 586.3 238.8 586.6 261.1 587.3 200.8 587.9 200.8 588.4 209.5 589 266.2 589.6 242.9 589.7 212.4 590.3 212.4 590.8 240.2 591.2 237.8 591.8 237.8 592 255.8 592.6 275.5 592.8 275.3 593.4 275.3 593.8 276.1 594.4 275.8 595 276.6 595.6 276.4 595.8 276.7 596.4 276.7 596.8 276.3 597.4 277.8 598 273.8 598.6 277.7 598.9 269.1 599.5 269.1 599.8 278.5 600.4 270.6 601 276.6 601.6 270.2 601.9 269.1 602.5 269.1 602.8 275.5 603.4 278 604 275.5 604.6 278.3 605 275.1 605.6 275.1 605.8 278.8 606.4 274.5 607 277.4 607.6 270.8 608.2 277.8 608.8 270.1 609 267 609.6 267 610 272.4 610.6 276.6 611.2 271.5 611.8 277.4 612.1 268 612.7 268 613 278 613.6 275.9 614.2 278.7 614.8 276 615.1 276.2 615.7 276.2 616 276.3 616.6 279.3 617.2 274 617.8 276.7 618.4 273.4 618.8 270.1 619.4 270.1 619.6 271 620.2 262.7 620.8 262.7 621.4 274.4 622 261.8 622.6 230.7 623.2 230.7 623.8 271.2 624.4 250.7 624.6 253 625.2 253 625.6 256.7 626.2 272.5 626.8 255.5 627.3 255 627.9 255 628 258.3 628.6 268.5 628.9 222.5 629.5 222.5 629.8 268.2 630.3 218.9 630.9 218.9 631.6 242.2 632.2 268.3 632.4 223.6 633 223.6 633.4 263.7 634 231.4 634.6 216 635.2 216 635.8 265.3 636.4 238.8 637 238.8 637.6 255.7 638 242.8 638.6 242.8 638.8 260.8 639.4 270.7 639.9 265.1 640.5 265.1 640.6 274.5 641.2 268.1 641.8 275.1 642.4 268.3 643 277.8 643.5 269.1 644.1 269.1 644.8 273.4 645.4 277.5 646 273.6 646.6 275.1 647.2 275.1 647.8 277.2 648.4 272.5 649 275.8 649.6 268 650.2 268 650.8 270 651.4 275.5 652 268 652.6 278.2 653.2 272.3 653.7 267 654.3 267 654.4 269.9 655 278.4 655.6 274.7 656.2 277.4 656.7 274.1 657.3 274.1 658 271.9 658.6 277 659.2 272.7 659.8 266 660.4 266 661 277.6 661.6 273.8 662.2 277.9 662.8 265 663.4 265 663.6 271.7" fill="none" stroke="#c20cc2" stroke-width="0.62" stroke-linejoin="round"/>
<path d="M195.4 280.6 196.2 280.7 196.9 280.4 197.7 280.4 198.4 279.8 199.2 280.3 199.9 279.5 200.7 280.4 201.4 278.9 202.2 279.2 202.9 279.9 203.7 279.7 204.4 279.3 205.2 278.8 205.9 278.1 206.7 278.2 207.4 278.1 208.2 278.3 208.9 275.8 209.7 278.4 210.4 278.4 211.2 275.6 211.9 274.8 212.7 273.8 213.4 275.8 214.2 273.2 214.9 274.4 215.7 273.8 216.4 276.8 217.2 276.1 217.9 276 218.7 274.9 219.4 275.6 220.2 275.7 220.9 275.7 221.7 275.5 222.4 276.8 223.2 276.5 223.9 277.4 224.7 276.4 225.4 275.7 226.2 274 226.9 275.5 227.7 276.4 228.4 279.2 229.2 277.5 229.9 278 230.7 282.7 231.4 281.5 232.2 281.5 232.9 282.4 233.7 281.9 234.4 282.8 235.2 282 235.9 283 236.7 283.2 237.4 283.2 238.2 283.7 238.9 283.3 239.7 283.5 240.4 282.4 241.2 282.6 241.9 282.6 242.7 283.2 243.4 281.9 244.2 281.7 244.9 282.1 245.7 281.9 246.4 281.4 247.2 281.9 247.9 281.3 248.7 281.5 249.4 280.9 250.2 280.8 250.9 280.2 251.7 279.9 252.4 279.9 253.2 279.7 253.9 279 254.7 278.5 255.4 276.6 256.1 276.9 256.9 276.1 257.6 276.2 258.4 276.7 259.1 275.5 259.9 273.1 260.6 276.9 261.4 275.9 262.1 273.3 262.9 274.4 263.6 277 264.4 271 265.1 273.3 265.9 276.7 266.6 271.3 267.4 274.8 268.1 274.6 268.9 272.4 269.6 270.6 270.4 275.6 271.1 274.8 271.9 273.8 272.6 278 273.4 276.1 274.1 277 274.9 275.2 275.6 273.4 276.4 277.5 277.1 281.3 277.9 276 278.6 277.2 279.4 277.7 280.1 279.6 280.9 281.7 281.6 280.9 282.4 281.4 283.1 280.9 283.9 281.4 284.6 281.2 285.4 281.8 286.1 281.9 286.9 280.8 287.6 280.7 288.4 280.3 289.1 279.9 289.9 280 290.6 279.6 291.4 280.1 292.1 279.8 292.9 279.1 293.6 279.9 294.4 279.6 295.1 279.3 295.9 278.1 296.6 278.7 297.4 277.6 298.1 277.4 298.9 277.4 299.6 277.6 300.4 276.7 301.1 276 301.9 272.9 302.6 271.7 303.4 268.7 304.1 267.9 304.9 271 305.6 269.4 306.4 269.7 307.1 268.8 307.9 271.1 308.6 266 309.4 269.5 310.1 266.9 310.9 270 311.6 267 312.4 271.3 313.1 267.7 313.9 268.1 314.6 269.8 315.4 269.2 316.1 268.2 316.9 269.3 317.6 266.3 318.4 265.7 319.1 264.9 319.9 267.5 320.6 267.4 321.4 269.8 322.1 270.3 322.9 269.5 323.6 278.5 324.4 274.2 325.1 269.8 325.9 278.5 326.6 279.5 327.4 279.9 328.1 279.9 328.9 279.2 329.6 279.2 330.4 279.6 331.1 278.7 331.9 278.5 332.6 279.6 333.4 279 334.1 279.1 334.9 278.8 335.6 278.5 336.4 277.9 337.1 278.2 337.9 277 338.6 277.3 339.4 276.6 340.1 275.4 340.9 275.2 341.6 275 342.4 274.4 343.1 271.8 343.9 263.1 344.6 258.9 345.4 257.6 346.1 257.8 346.9 258.5 347.6 259.7 348.4 257.8 349.1 256 349.9 257.4 350.6 258 351.4 256.6 352.1 260 352.9 259 353.6 272.9 354.4 259.6 355.1 256.8 355.9 255.9 356.6 256 357.4 256.3 358.1 258.8 358.9 272.3 359.6 258.7 360.4 256.9 361.1 258.5 361.9 259.6 362.6 262.7 363.4 276.7 364.1 262.3 364.9 265 365.6 265.2 366.4 263.2 367.1 266.4 367.9 273.2 368.6 278.8 369.4 278.8 370.1 279.4 370.9 279 371.6 279.2 372.4 279.2 373.1 279.1 373.9 278.8 374.6 278.6 375.4 278.4 376.1 279.1 376.9 277.5 377.6 277.9 378.4 278.1 379.1 278 379.9 277.3 380.6 279 381.4 277.3 382.1 278 382.9 278.7 383.6 277.5 384.4 278 385.1 278.4 385.9 276.9 386.6 278.6 387.4 279.1 388.1 278.2 388.9 279 389.6 275.4 390.4 266.5 391.1 267.7 391.9 268.9 392.6 264.5 393.4 268.3 394.1 276 394.9 277.7 395.6 263.8 396.4 264.6 397.1 263.2 397.9 261.9 398.6 265 399.4 264.1 400.1 261.7 400.9 260.5 401.6 263.5 402.4 259.3 403.1 262.6 403.9 262.2 404.6 273.5 405.4 260.4 406.1 263.1 406.9 264.6 407.6 263.5 408.4 263.7 409.1 278 409.9 271.5 410.6 272.2 411.4 273.1 412.1 276.3 412.9 273.2 413.6 272 414.4 278 415.1 281.6 415.9 281.4 416.6 281.6 417.4 281.6 418.1 281.7 418.9 281.5 419.6 282.2 420.4 281.8 421.1 282.4 421.9 282 422.6 282.6 423.4 282.9 424.1 282.8 424.9 283.2 425.6 283.1 426.4 282.3 427.1 283.3 427.9 282.6 428.6 283.4 429.4 283.2 430.1 283.1 430.9 282.2 431.6 282.3 432.4 281.9 433.1 281.2 433.9 280 434.6 280.4 435.4 276.5 436.1 270.8 436.9 270.9 437.6 268 438.4 268.7 439.1 268 439.9 276.7 440.6 266.2 441.4 269.4 442.1 267 442.9 264 443.6 267.1 444.4 267.4 445.1 264.6 445.9 265.6 446.6 263.4 447.4 262.2 448.1 263.4 448.9 274.1 449.6 263 450.4 273.7 451.1 265 451.9 264 452.6 264.4 453.4 264.9 454.1 265.9 454.9 266 455.6 268.2 456.4 266.9 457.1 269.8 457.9 273.8 458.6 278 459.4 282.1 460.1 282.5 460.9 282.7 461.6 283 462.4 283.3 463.1 283.3 463.9 282.4 464.6 282.9 465.4 282.6 466.1 283.1 466.9 283.3 467.6 283.3 468.4 282.8 469.1 282.5 469.9 282.3 470.6 283 471.4 283.4 472.1 282.5 472.9 282.3 473.6 282.6 474.4 283 475.1 282.5 475.9 282.9 476.6 282.3 477.4 282.6 478.1 282.4 478.9 282.7 479.6 282.7 480.4 281.6 481.1 275.7 481.9 273.3 482.6 273.9 483.4 271 484.1 268.6 484.9 270.4 485.6 275.9 486.4 267.5 487.1 265.7 487.9 265.4 488.6 265.8 489.4 264.3 490.1 275.3 490.9 276.2 491.6 274.1 492.4 264 493.1 263.3 493.9 263.4 494.6 274.4 495.4 274.4 496.1 265.7 496.9 264 497.6 266.1 498.4 272.6 499.1 264.2 499.9 263.5 500.6 263.2 501.4 264 502.1 262.9 502.9 262 503.6 266.2 504.4 267.7 505.1 270.2 505.9 271 506.6 271.4 507.4 270.9 508.1 271 508.9 270.6 509.6 271.3 510.4 271.1 511.1 271.6 511.9 270.4 512.6 270.6 513.4 270.7 514.1 270.9 514.9 270.7 515.6 270.9 516.4 271.3 517.1 272.1 517.9 271.7 518.6 272.1 519.4 271.1 520.1 272.2 520.9 273.2 521.6 272.5 522.4 273.5 523.1 273 523.9 274 524.6 269.7 525.4 272.8 526.1 268.6 526.9 265.8 527.6 269 528.4 273.3 529.1 267.7 529.9 266.6 530.6 264.9 531.4 272 532.1 266.2 532.9 271.9 533.6 266 534.4 265.4 535.1 268.1 535.9 268.8 536.6 270.9 537.4 268.1 538.1 271.8 538.9 269.5 539.6 272.6 540.4 270.6 541.1 270.3 541.9 271.9 542.6 269.7 543.4 271.5 544.1 270.7 544.9 270.4 545.6 270.2 546.4 272.5 547.1 274 547.9 272.4 548.6 271.6 549.4 274.1 550.1 275.9 550.9 276.8 551.6 277.9 552.4 278.6 553.1 278.5 553.9 279.1 554.6 279.4 555.4 278.8 556.1 278.6 556.9 279.5 557.6 279.8 558.4 279 559.1 279.6 559.9 279.9 560.6 279.9 561.4 280 562.1 279.1 562.9 280.3 563.6 279.9 564.4 279.2 565.1 279.9 565.9 279.3 566.6 280.1 567.4 280.8 568.1 279.7 568.9 280.5 569.6 280.5 570.4 281.1 571.1 280.2 571.9 280.3 572.6 279.2 573.4 276.1 574.1 274.6 574.9 278 575.6 277.8 576.4 272.5 577.1 274.1 577.9 273.4 578.6 273.9 579.4 274.2 580.1 272 580.9 268.2 581.6 272 582.4 273.8 583.1 271.1 583.9 274.3 584.6 265.7 585.4 268.8 586.1 267.3 586.9 265.1 587.6 267 588.4 265.8 589.1 267.1 589.9 267 590.6 267.3 591.4 266.5 592.1 269.5 592.9 273.2 593.6 272.4 594.4 273.7 595.1 277.3 595.9 278.7 596.6 278.7 597.4 278.2 598.1 278.6 598.9 279.3 599.6 278.7 600.4 278.4 601.1 278.8 601.9 279.1 602.6 279.7 603.4 279.3 604.1 279.4 604.9 279.3 605.6 279.6 606.4 279.6 607.1 279.5 607.9 279.8 608.6 279 609.4 279.1 610.1 279.5 610.9 280 611.6 280.1 612.4 279.4 613.1 279.8 613.9 280.2 614.6 279 615.4 279.9 616.1 280.1 616.9 279.3 617.6 279 618.4 276.4 619.1 277.4 619.9 275.1 620.6 274.6 621.4 276.2 622.1 275.3 622.9 276.9 623.6 275 624.4 275.8 625.1 276 625.9 274.3 626.6 272.3 627.4 274.8 628.1 273.2 628.9 271.7 629.6 275.6 630.4 274.3 631.1 273.1 631.9 275.8 632.6 275.6 633.4 276.5 634.1 276.4 634.9 276.1 635.6 274.6 636.4 272.8 637.1 273.5 637.9 273.3 638.6 275.5 639.4 272.6 640.1 275.3 640.9 274.4 641.6 277.1 642.4 278 643.1 277.9 643.9 277.2 644.6 277.7 645.4 277.8 646.1 277.5 646.9 278.8 647.6 278.8 648.4 278.6 649.1 277.7 649.9 278.7 650.6 278.5 651.4 278.8 652.1 278.3 652.9 279.1 653.6 278.7 654.4 278.3 655.1 278.7 655.9 278.7 656.6 279.6 657.4 278.6 658.1 279.3 658.9 279.6 659.6 279.4 660.4 279.3 661.1 280 661.9 279.9 662.6 280.3 663.4 279.1" fill="none" stroke="#c400c4" stroke-width="0.5" stroke-opacity="0.85"/>
<path d="M195.4 279.3 196.2 279.3 196.9 278.8 197.7 278.8 198.4 278.6 199.2 278.4 199.9 278.7 200.7 278.6 201.4 278.2 202.2 278.2 202.9 277.5 203.7 277.5 204.4 277 205.2 277.4 205.9 276.8 206.7 277 207.4 276.5 208.2 274.8 208.9 272.6 209.7 270.3 210.4 269 211.2 269.2 211.9 267.8 212.7 267.8 213.4 265 214.2 265.7 214.9 264.1 215.7 266.4 216.4 264.6 217.2 262.7 217.9 263.7 218.7 266.6 219.4 267.3 220.2 265 220.9 267 221.7 269.7 222.4 264.8 223.2 265.4 223.9 266.7 224.7 269.2 225.4 270 226.2 264 226.9 269.2 227.7 267.4 228.4 269.1 229.2 272.5 229.9 271.3 230.7 274.5 231.4 276.5 232.2 279.4 232.8 280.6 232.9 280.6 233.2 271 233.6 280.6 233.7 280.8 234.4 280.8 235.2 280.9 235.9 280.9 236.7 281.6 237.4 281.4 238.2 281.2 238.9 281.3 239.7 281.3 240.4 281.6 241.2 281.3 241.3 281.1 241.7 268.5 241.9 281.4 242.1 281.1 242.7 281.6 243.4 281.5 244.2 281.4 244.9 281.2 245.7 281.1 246.4 281 247.2 280.9 247.9 280.7 248.7 280.6 249.4 280.3 250.2 279.3 250.9 279 251.7 279 252.4 278.7 253.2 278.2 253.9 277.2 254.7 275.8 255.4 273.8 256.1 273.7 256.9 272.9 257.6 271.7 258.4 268.8 259.1 262.9 259.9 268.3 260.6 265.2 261.4 262 262.1 267.9 262.9 267.2 263.6 268.6 264.4 268.3 265.1 264.5 265.9 268.5 266.6 265.6 267.4 263.6 268.1 268.5 268.9 268.2 269.6 267.3 270.4 262.9 271.1 265.8 271.9 266.4 272.6 266.5 273.4 267.9 274.1 268.5 274.9 268.2 275.6 269.4 276.4 264.9 277.1 268.2 277.9 270.4 278.6 272.9 279.4 275.4 280.1 277.9 280.9 279.7 281.6 279.7 282.4 279.5 283.1 280.3 283.9 280.4 284.6 280 285.4 280.5 286.1 279.7 286.9 279.6 287.6 279.6 288.4 279.3 289.1 278.7 289.9 278.6 290.6 278.9 291.4 278.4 292.1 278.4 292.9 278 293.6 278.1 294.4 277.9 295.1 277.4 295.9 277.4 296.6 276.4 297.4 276.2 298.1 276.1 298.6 275.7 298.9 275.9 299 260 299.4 275.7 299.6 275.4 300.4 275.3 301.1 274.8 301.9 273.2 302.6 272.6 303.4 273.5 304.1 268.3 304.9 263.1 305.6 261.3 306.4 261.5 307.1 258.6 307.9 259.7 308.6 264.6 309.4 264.2 310.1 265.4 310.9 260.8 311.6 262.5 312.4 258.4 313.1 259.5 313.9 257.4 314.6 260 315.4 257.8 316.1 258.6 316.9 259.6 317.6 262 318.4 256.1 319.1 263.1 319.9 261.5 320.6 256.7 321.4 256.7 322.1 260.8 322.9 266.8 323.6 273.9 324.4 272.4 325.1 270.9 325.9 270.9 326.6 278.3 327.4 277.6 328.1 277.9 328.9 277.6 329.6 278 330.4 277.5 331.1 277.3 331.9 277.8 332.6 277.2 333.4 277.2 334.1 277.2 334.9 277.1 335.6 277.4 336.4 277 337.1 276.2 337.9 276.1 338.6 274.9 339.4 275.1 340.1 274.5 340.9 274.3 341.6 273.6 342.4 273.2 343.1 270.5 343.9 269.2 344.6 272.4 345.4 271.7 346.1 268.4 346.9 264.2 347.6 251.2 348.4 255.1 349.1 250.9 349.9 254.8 350.6 254.8 351.4 250.9 352.1 255.6 352.9 251.4 353.6 251.6 354.4 256 355.1 254.7 355.9 255.9 356.6 251 357.4 254.3 358.1 249.3 358.9 252.4 359.6 249.1 360.4 251.8 361.1 256.7 361.9 254.7 362.6 254.2 363.4 256.4 364.1 259.7 364.9 269.4 365.6 270 366.4 269.5 367.1 269 367.9 270.7 368.6 277.5 369.4 277.9 370.1 277.6 370.9 277.2 371.6 277.9 372.4 277.9 373.1 277.5 373.9 277.4 374.6 277.9 375.4 277.4 376.1 276.7 376.9 276.5 377.6 275.3 378.4 276.6 379.1 277 379.9 276.3 380.6 276.5 381.4 275.8 382.1 276.5 382.9 276.7 383.6 275.3 384.4 275.8 385.1 276.2 385.9 275.5 386.6 277.3 387.4 277.5 388.1 277.3 388.9 276.7 389.6 273.9 390.4 264 391.1 264.3 391.9 265.9 392.6 263 393.4 265.1 394.1 263.5 394.9 263.2 395.6 261.1 396.4 260.8 397.1 262.5 397.9 257.4 398.6 254.1 399.4 259.7 400.1 257.5 400.9 258.1 401.6 257.5 402.4 257.4 403.1 253.2 403.9 257.7 404.6 255.2 405.4 259 406.1 255.8 406.9 258.5 407.6 259.6 408.4 262.6 409.1 257.8 409.9 267.6 410.6 267.1 411.4 276.4 412.1 276 412.9 275.5 413.6 275.1 414.4 276.3 415.1 280.8 415.9 280.5 416.6 280.3 417.4 280.9 418.1 280.7 418.9 280.3 419.6 280.6 420.4 280.4 421.1 280.7 421.9 280.7 422.6 280.7 423.4 281 424.1 281 424.9 280.8 425.6 281.1 426.4 281.4 427.1 281 427.9 281.3 428.6 282.4 429.4 282.6 430.1 281.5 430.9 280.9 431.6 280.5 432.4 280.2 433.1 279.4 433.9 278.8 434.6 278.4 435.4 274.8 436.1 265.5 436.9 266.9 437.6 270.6 438.4 274.2 439.1 264.8 439.9 261.7 440.6 261.8 441.4 263.7 442.1 263.6 442.9 263.1 443.6 259.6 444.4 261.9 445.1 263 445.9 258.9 446.6 260.4 447.4 260.3 448.1 259.4 448.9 260.6 449.6 258.7 450.4 256.3 451.1 256.8 451.9 260.4 452.6 262.8 453.4 257.6 454.1 264.6 454.9 260.7 455.6 265.7 456.4 273.3 457.1 275.6 457.9 278.9 458.6 280.4 459.4 281.8 460.1 281.8 460.9 281.5 461.6 281.2 462.4 280.9 463.1 281.1 463.9 281 464.6 281.5 465.4 281.3 466.1 281.1 466.9 281.2 467.6 281 468.4 281.5 469.1 281.5 469.9 281.4 470.6 281.3 471.4 281.4 472.1 281.4 472.9 281 473.6 281.2 474.4 280.9 475.1 281.4 475.9 281.2 476.6 281.3 477.4 281.5 478.1 281.4 478.9 281.6 479.6 281.5 480.4 279.7 481.1 278.5 481.9 278.9 482.6 278.4 483.4 277.6 484.1 264.2 484.9 262.3 485.6 266 486.4 264.4 487.1 260.8 487.9 262.9 488.6 261.6 489.4 257.5 490.1 259.8 490.9 259.5 491.6 259.2 492.4 257.2 493.1 258.4 493.9 262.3 494.6 259.9 495.4 261.8 496.1 254.4 496.9 262 497.6 259.2 498.4 260.7 499.1 255.2 499.9 261.7 500.6 261.3 501.4 261.8 502.1 263.5 502.9 265.3 503.6 266.4 504.4 266.4 505.1 268.8 505.9 269.4 506.6 268.9 507.4 268.9 508.1 269.6 508.9 269.6 509.6 269.8 510.4 269.5 511.1 269.4 511.9 269.3 512.6 269.6 513.4 269.8 514.1 269.8 514.9 269.7 515.6 270.1 516.4 269.7 517.1 270.1 517.9 270.3 518.6 270 519.4 270 520.1 270.9 520.9 271.2 521.6 271.6 522.4 272.1 523.1 272.1 523.9 271.9 524.6 267.3 525.4 262.2 526.1 261.2 526.9 264.2 527.6 259.4 528.4 259.9 529.1 257.5 529.9 256.6 530.6 255.7 531.4 257.5 532.1 258.5 532.9 258.5 533.6 256.6 534.4 257.2 535.1 258.3 535.9 263.2 536.6 260.4 537.4 262.5 538.1 262.7 538.9 260.1 539.6 261.6 540.4 264.6 541.1 258.5 541.9 258.9 542.6 264.4 543.4 259.9 544.1 258.2 544.9 265.6 545.6 264.6 546.4 261 547.1 268.6 547.9 269.5 548.6 270.3 549.4 271.2 550.1 272.1 550.9 275.1 551.6 275.7 552.4 276.7 553.1 277.9 553.9 277.5 554.6 277.5 555.4 277.7 556.1 277.3 556.9 277.9 557.6 277.8 558.4 277.4 559.1 278.1 559.9 277.5 560.6 278 561.4 277.8 562.1 278.3 562.9 278 563.6 278.1 564.4 278 565.1 278.6 565.9 278.1 566.6 278.3 567.4 278.4 568.1 279.1 568.9 278.5 569.6 279.2 570.4 278.8 571.1 278.7 571.9 276 572.6 275.6 573.4 277.3 574.1 280 574.9 279.5 575.6 263.7 576.4 267.6 577.1 263 577.9 267.6 578.6 264.7 579.4 265.7 580.1 263.4 580.9 259.1 581.6 265.6 582.4 260.6 583.1 260.5 583.9 262.5 584.6 259.5 585.4 258.3 586.1 258.3 586.9 256.4 587.6 256 588.4 259.2 589.1 257 589.9 254.7 590.6 259.4 591.4 256.3 592.1 257.1 592.9 272.4 593.6 277.1 594.4 277.8 595.1 278.6 595.9 279.3 596.6 278.3 597.4 277.6 598.1 277.4 598.9 277.3 599.6 277.2 600.4 277.1 601.1 277.5 601.9 277.9 602.6 277.2 603.4 277.6 604.1 277.8 604.9 278 605.6 277.9 606.4 277.5 607.1 277.7 607.9 277.6 608.6 278.1 609.4 277.6 610.1 277.7 610.9 277.9 611.6 277.9 612.4 277.6 613.1 278.2 613.9 278.1 614.6 277.9 615.4 279.5 616.1 278.1 616.9 277.1 617.6 274.6 618.4 272.9 619.1 271 619.9 272.2 620.6 270.7 621.4 264.6 622.1 267.6 622.9 269.3 623.6 270.3 624.4 265.6 625.1 266.2 625.9 264.1 626.6 264.8 627.4 264.2 628.1 263.3 628.9 266.3 629.6 264.6 630.4 265.1 631.1 266.4 631.9 266 632.6 266.3 633.4 268.5 634.1 262.5 634.9 264.4 635.6 267.8 636.4 263.7 637.1 261.2 637.9 267.1 638.6 268.3 639.4 265.6 640.1 266.7 640.9 269.7 641.6 270 642.4 272.8 643.1 273.2 643.9 276.6 644.6 276.2 645.4 276.7 646.1 277.1 646.9 278.5 647.6 277.1 648.4 276.5 649.1 277.1 649.9 276.7 650.6 277.4 651.4 277.4 652.1 277.1 652.9 277.6 653.6 277.7 654.4 277.2 655.1 277.2 655.9 277.7 656.6 278 657.4 277.7 658.1 277.4 658.9 278.1 659.6 278 660.4 278 661.1 277.9 661.9 278.5 662.6 277.8 663.4 277.9 663.4 279.1 662.6 280.3 661.9 279.9 661.1 280 660.4 279.3 659.6 279.4 658.9 279.6 658.1 279.3 657.4 278.6 656.6 279.6 655.9 278.7 655.1 278.7 654.4 278.3 653.6 278.7 652.9 279.1 652.1 278.3 651.4 278.8 650.6 278.5 649.9 278.7 649.1 277.7 648.4 278.6 647.6 278.8 646.9 278.8 646.1 277.5 645.4 277.8 644.6 277.7 643.9 277.2 643.1 277.9 642.4 277.6 641.6 277.1 640.9 274.4 640.1 275.3 639.4 272.6 638.6 275.5 637.9 273.3 637.1 273.5 636.4 272.8 635.6 274.6 634.9 276.1 634.1 276.4 633.4 276.5 632.6 272.8 631.9 275.8 631.1 273.1 630.4 274.3 629.6 273.5 628.9 271.7 628.1 273.2 627.4 274.8 626.6 272.3 625.9 273.6 625.1 276 624.4 275.8 623.6 275 622.9 272.5 622.1 275.3 621.4 276.2 620.6 274.6 619.9 275.1 619.1 277.4 618.4 276.4 617.6 279 616.9 279.3 616.1 280.1 615.4 279.9 614.6 279 613.9 280 613.1 279.8 612.4 279.4 611.6 280.1 610.9 280 610.1 279.5 609.4 279.1 608.6 279 607.9 279.8 607.1 279.5 606.4 279.6 605.6 279.6 604.9 279.3 604.1 279.4 603.4 279.3 602.6 279.7 601.9 279.1 601.1 278.8 600.4 278.4 599.6 278.7 598.9 279.3 598.1 278.6 597.4 278.2 596.6 278.7 595.9 278.7 595.1 277.3 594.4 273.7 593.6 272.4 592.9 273.2 592.1 269.5 591.4 266.5 590.6 267.3 589.9 267 589.1 267.1 588.4 265.8 587.6 267 586.9 265.1 586.1 267.3 585.4 268.8 584.6 265.7 583.9 274.3 583.1 271.1 582.4 273.5 581.6 271.9 580.9 268.2 580.1 272 579.4 272.5 578.6 273.9 577.9 273.4 577.1 274.1 576.4 272.5 575.6 276.1 574.9 278 574.1 274.6 573.4 276.1 572.6 279.2 571.9 280.2 571.1 280.2 570.4 281.1 569.6 280.5 568.9 280.5 568.1 279.7 567.4 280.7 566.6 280.1 565.9 279.3 565.1 279.9 564.4 279.2 563.6 279.9 562.9 280.3 562.1 279.1 561.4 280 560.6 279.9 559.9 279.8 559.1 279.6 558.4 279 557.6 279.8 556.9 279.5 556.1 278.6 555.4 278.8 554.6 279.4 553.9 279.1 553.1 278.5 552.4 278.5 551.6 277.9 550.9 276.8 550.1 275.9 549.4 274.1 548.6 271.6 547.9 272.4 547.1 271 546.4 272.5 545.6 270.2 544.9 270.4 544.1 270.5 543.4 271.5 542.6 269.7 541.9 271.9 541.1 270.1 540.4 270.6 539.6 272.6 538.9 269.5 538.1 271.8 537.4 268.1 536.6 270.9 535.9 268.8 535.1 268.1 534.4 265.4 533.6 266 532.9 271.9 532.1 266.2 531.4 268 530.6 264.9 529.9 266.6 529.1 267.7 528.4 273.3 527.6 269 526.9 265.8 526.1 268.6 525.4 271.5 524.6 269.7 523.9 274 523.1 273 522.4 273.5 521.6 272.5 520.9 273.2 520.1 272.2 519.4 271.1 518.6 272.1 517.9 271.7 517.1 271.9 516.4 271.3 515.6 270.9 514.9 270.7 514.1 270.9 513.4 270.7 512.6 270.6 511.9 270.4 511.1 271.6 510.4 271.1 509.6 271.3 508.9 270.6 508.1 271 507.4 270.9 506.6 271.4 505.9 271 505.1 270.2 504.4 267.7 503.6 266.2 502.9 262 502.1 262.9 501.4 264 500.6 263.2 499.9 263.5 499.1 264.2 498.4 270.9 497.6 266.1 496.9 264 496.1 265.7 495.4 270.3 494.6 274.4 493.9 263.4 493.1 263.3 492.4 264 491.6 274.1 490.9 272.7 490.1 275.3 489.4 264.3 488.6 265.8 487.9 265.4 487.1 265.7 486.4 267.5 485.6 275.9 484.9 270.4 484.1 268.6 483.4 271 482.6 273.9 481.9 273.3 481.1 275.7 480.4 281.6 479.6 282.7 478.9 282.7 478.1 282.4 477.4 282.6 476.6 282.3 475.9 282.9 475.1 282.5 474.4 283 473.6 282.6 472.9 282.3 472.1 282.5 471.4 283.4 470.6 283 469.9 282.3 469.1 282.5 468.4 282.8 467.6 283.3 466.9 283.3 466.1 283.1 465.4 282.6 464.6 282.9 463.9 282.4 463.1 283.3 462.4 283.3 461.6 283 460.9 282.7 460.1 282.5 459.4 282.1 458.6 278 457.9 273.8 457.1 269.8 456.4 266.9 455.6 268.2 454.9 266 454.1 265.9 453.4 264.9 452.6 264.4 451.9 264 451.1 265 450.4 271 449.6 263 448.9 271.3 448.1 263.4 447.4 262.2 446.6 263.4 445.9 265.6 445.1 264.6 444.4 267.4 443.6 267.1 442.9 264 442.1 267 441.4 269.4 440.6 266.2 439.9 276.7 439.1 268 438.4 268.7 437.6 268 436.9 270.9 436.1 270.8 435.4 276.5 434.6 280.4 433.9 280 433.1 281.2 432.4 281.9 431.6 282.3 430.9 282.2 430.1 283.1 429.4 283.2 428.6 283.3 427.9 282.6 427.1 283.3 426.4 282.3 425.6 283.1 424.9 283.2 424.1 282.8 423.4 282.9 422.6 282.6 421.9 282 421.1 282.4 420.4 281.8 419.6 282.2 418.9 281.5 418.1 281.7 417.4 281.6 416.6 281.6 415.9 281.4 415.1 281.6 414.4 278 413.6 272 412.9 273.2 412.1 276.3 411.4 273.1 410.6 272.2 409.9 271.5 409.1 274.8 408.4 263.7 407.6 263.5 406.9 264.6 406.1 263.1 405.4 260.4 404.6 270.8 403.9 262.2 403.1 262.6 402.4 259.3 401.6 263.5 400.9 260.5 400.1 261.7 399.4 264.1 398.6 265 397.9 261.9 397.1 263.2 396.4 264.6 395.6 263.8 394.9 277.7 394.1 276 393.4 268.3 392.6 264.5 391.9 268.9 391.1 267.7 390.4 266.5 389.6 275.4 388.9 279 388.1 278.2 387.4 279.1 386.6 278.6 385.9 276.9 385.1 278.4 384.4 278 383.6 277.5 382.9 278.7 382.1 278 381.4 277.3 380.6 279 379.9 277.3 379.1 278 378.4 278.1 377.6 277.9 376.9 277.5 376.1 279.1 375.4 278.4 374.6 278.6 373.9 278.8 373.1 279.1 372.4 279.2 371.6 279.2 370.9 279 370.1 279.4 369.4 278.8 368.6 278.8 367.9 273.2 367.1 266.4 366.4 263.2 365.6 265.2 364.9 265 364.1 262.3 363.4 276.7 362.6 262.7 361.9 259.6 361.1 258.5 360.4 256.9 359.6 258.7 358.9 272.3 358.1 258.8 357.4 256.3 356.6 256 355.9 255.9 355.1 256.8 354.4 259.6 353.6 272.9 352.9 259 352.1 260 351.4 256.6 350.6 258 349.9 257.4 349.1 256 348.4 257.8 347.6 259.7 346.9 258.5 346.1 257.8 345.4 257.6 344.6 258.9 343.9 263.1 343.1 271.8 342.4 274.4 341.6 275 340.9 275.2 340.1 275.4 339.4 276.6 338.6 277.3 337.9 277 337.1 278.2 336.4 277.9 335.6 278.5 334.9 278.8 334.1 279.1 333.4 279 332.6 279.6 331.9 278.5 331.1 278.7 330.4 279.6 329.6 279.2 328.9 279.2 328.1 279.8 327.4 279.9 326.6 279.5 325.9 278.5 325.1 269.8 324.4 274.2 323.6 278.5 322.9 269.5 322.1 270.3 321.4 269.8 320.6 267.4 319.9 267.5 319.1 264.9 318.4 265.7 317.6 266.3 316.9 269.3 316.1 268.2 315.4 269.2 314.6 269.8 313.9 268.1 313.1 267.7 312.4 271.3 311.6 267 310.9 270 310.1 266.9 309.4 269.5 308.6 266 307.9 271.1 307.1 268.8 306.4 269.7 305.6 269.4 304.9 271 304.1 267.9 303.4 268.7 302.6 271.7 301.9 272.9 301.1 276 300.4 276.7 299.6 277.6 298.9 277.4 298.1 277.4 297.4 277.6 296.6 278.7 295.9 278.1 295.1 279.2 294.4 279.6 293.6 279.9 292.9 279.1 292.1 279.8 291.4 280.1 290.6 279.6 289.9 280 289.1 279.9 288.4 280.3 287.6 280.7 286.9 280.8 286.1 281.9 285.4 281.8 284.6 281.2 283.9 281.4 283.1 280.9 282.4 281.4 281.6 280.9 280.9 281.7 280.1 279.6 279.4 277.7 278.6 277.2 277.9 276 277.1 281.3 276.4 277.5 275.6 273.4 274.9 275.2 274.1 277 273.4 274.2 272.6 276.8 271.9 273.8 271.1 274.8 270.4 275.6 269.6 270.6 268.9 272.4 268.1 274.6 267.4 274.8 266.6 271.3 265.9 276.7 265.1 273.3 264.4 271 263.6 274.1 262.9 274.4 262.1 273.3 261.4 273.1 260.6 273.6 259.9 273.1 259.1 275.5 258.4 275.6 257.6 276.2 256.9 276.1 256.1 276.9 255.4 276.6 254.7 278.5 253.9 279 253.2 279.7 252.4 279.9 251.7 279.9 250.9 280.2 250.2 280.8 249.4 280.9 248.7 281.5 247.9 281.3 247.2 281.9 246.4 281.4 245.7 281.9 244.9 282.1 244.2 281.7 243.4 281.9 242.7 283.2 241.9 282.6 241.2 282.6 240.4 282.4 239.7 283.5 238.9 283.3 238.2 283.7 237.4 283.2 236.7 283.2 235.9 283 235.2 282 234.4 282.8 233.7 281.9 232.9 282.4 232.2 281.5 231.4 281.5 230.7 282.7 229.9 278 229.2 277.5 228.4 279.2 227.7 276.4 226.9 275.5 226.2 274 225.4 274.4 224.7 276.4 223.9 277 223.2 276.5 222.4 276.8 221.7 275.5 220.9 275.7 220.2 275.4 219.4 275.3 218.7 273.2 217.9 275.6 217.2 276.1 216.4 271.5 215.7 271.6 214.9 274.4 214.2 272.2 213.4 275.8 212.7 273.8 211.9 274.8 211.2 275.6 210.4 278.2 209.7 278.4 208.9 275.8 208.2 278.3 207.4 278.1 206.7 278.2 205.9 278.1 205.2 278.8 204.4 279.3 203.7 279.6 202.9 279.9 202.2 279.2 201.4 278.9 200.7 280.4 199.9 279.5 199.2 280.3 198.4 279.8 197.7 280.4 196.9 280.4 196.2 280.7 195.4 280.6 Z" fill="#402040" fill-opacity="0.22" stroke="none"/>
<path d="M195.4 282.8 196.2 282.1 196.9 283.5 197.7 282.2 198.4 282.2 199.2 283.3 199.9 283.9 200.7 282.8 201.4 282.8 202.2 282.1 202.9 282.9 203.7 282.6 204.4 282.5 205.2 283.7 205.9 282.7 206.7 283.1 207.4 283.6 208.2 283.5 208.9 283.3 209.7 282.5 210.4 282.9 211.2 283.4 211.9 283.9 212.7 282.4 213.4 282.5 214.2 282.3 214.9 282.4 215.7 283.9 216.4 286.4 217.2 286.4 217.9 286.4 218.7 286.4 219.4 286.4 220.2 286 220.9 286.5 221.7 286.6 222.4 286.3 223.2 286.6 223.9 286.6 224.7 286.3 225.4 286.1 226.2 286.2 226.9 286.8 227.7 286.4 228.4 286.5 229.2 286.7 229.9 286.7 230.7 287 231.4 287.1 232.2 287.5 232.9 287.4 233.7 287.4 234.4 287.7 235.2 287.4 235.9 287.7 236.7 287.3 237.4 287.7 238.2 287.4 238.9 287.3 239.7 287.3 240.4 287.5 241.2 287.2 241.9 287.1 242.7 287.3 243.4 287.6 244.2 287.7 244.9 287.4 245.7 287.8 246.4 287.8 247.2 287.8 247.9 287.4 248.7 287.6 249.4 287.2 250.2 287.3 250.9 287.5 251.7 287.6 252.4 287.6 253.2 287.9 253.9 287.8 254.7 287 255.4 287.3 256.1 287.5 256.9 286.6 257.6 287 258.4 286.3 259.1 286.3 259.9 285.8 260.6 286.7 261.4 286.2 262.1 286.1 262.9 286.6 263.6 285.9 264.4 286.3 265.1 286.1 265.9 286.5 266.6 286.5 267.4 286.5 268.1 286 268.9 285.8 269.6 285.9 270.4 286.2 271.1 286.5 271.9 286 272.6 286.2 273.4 286 274.1 286.1 274.9 286.1 275.6 286.5 276.4 286.5 277.1 286.5 277.9 286.3 278.6 286.4 279.4 286.3 280.1 287.5 280.9 287.3 281.6 287.8 282.4 287.8 283.1 287.2 283.9 287.7 284.6 287.4 285.4 287.4 286.1 287.6 286.9 287.6 287.6 287.8 288.4 287.3 289.1 287.6 289.9 287.4 290.6 287.2 291.4 287.8 292.1 287.6 292.9 287.6 293.6 287.2 294.4 287.4 295.1 287.7 295.9 287.5 296.6 287.9 297.4 287.5 298.1 287.8 298.9 287.8 299.6 287.5 300.4 287.5 301.1 287.7 301.9 286.8 302.6 286.4 303.4 286 304.1 286.6 304.9 285.9 305.6 286.2 306.4 286.6 307.1 286.4 307.9 286.1 308.6 286.5 309.4 285.9 310.1 286.5 310.9 286.3 311.6 286.5 312.4 286.2 313.1 285.8 313.9 286.5 314.6 286.5 315.4 286.2 316.1 286.1 316.9 286.5 317.6 286.4 318.4 286.1 319.1 286.4 319.9 286.6 320.6 286 321.4 285.9 322.1 286 322.9 285.9 323.6 286.4 324.4 286.4 325.1 286.3 325.9 286.9 326.6 287.4 327.4 287.5 328.1 287.7 328.9 287.7 329.6 287.8 330.4 287.9 331.1 287.4 331.9 287.8 332.6 287.2 333.4 287.1 334.1 287.8 334.9 287.1 335.6 287.4 336.4 287.8 337.1 287.5 337.9 287.5 338.6 287.6 339.4 287.8 340.1 287.6 340.9 287.8 341.6 287.5 342.4 287.4 343.1 287.5 343.9 286 344.6 285.9 345.4 286.2 346.1 286 346.9 286.3 347.6 286 348.4 286 349.1 286.3 349.9 286 350.6 286.3 351.4 286.5 352.1 286.3 352.9 286.5 353.6 286 354.4 286.4 355.1 286.2 355.9 286 356.6 286.1 357.4 285.9 358.1 286 358.9 286 359.6 286 360.4 286 361.1 285.9 361.9 286.1 362.6 286.1 363.4 286.2 364.1 286.2 364.9 285.8 365.6 286.4 366.4 286.4 367.1 286.5 367.9 287.2 368.6 287.3 369.4 287.4 370.1 287.9 370.9 287.7 371.6 287.4 372.4 287.6 373.1 287.4 373.9 287.5 374.6 287.8 375.4 287.3 376.1 287 376.9 287.7 377.6 287.3 378.4 287.3 379.1 287.3 379.9 287.3 380.6 287.4 381.4 287 382.1 287 382.9 287.4 383.6 287.1 384.4 287.2 385.1 287.1 385.9 286.9 386.6 287.8 387.4 287.7 388.1 287.7 388.9 287.2 389.6 286.9 390.4 286.7 391.1 286.5 391.9 286.4 392.6 286.1 393.4 286.5 394.1 286.3 394.9 285.9 395.6 286.5 396.4 286 397.1 286.4 397.9 286.1 398.6 286 399.4 286.4 400.1 286.4 400.9 285.9 401.6 286 402.4 285.8 403.1 286.5 403.9 286.1 404.6 286 405.4 285.8 406.1 286 406.9 286.4 407.6 286.5 408.4 286.5 409.1 286.4 409.9 286.4 410.6 286.9 411.4 286.8 412.1 287.2 412.9 286.5 413.6 286.2 414.4 287.4 415.1 287.5 415.9 287.1 416.6 287.6 417.4 287.5 418.1 287.3 418.9 287.9 419.6 287.2 420.4 287.3 421.1 287.3 421.9 287.6 422.6 287.5 423.4 287.1 424.1 287.9 424.9 287.8 425.6 287.4 426.4 287.1 427.1 287.8 427.9 287.7 428.6 287.5 429.4 287.3 430.1 287.4 430.9 287.4 431.6 287.9 432.4 287.7 433.1 287.4 433.9 287.3 434.6 287.8 435.4 287.6 436.1 286.8 436.9 286.5 437.6 286.6 438.4 286.8 439.1 286.8 439.9 286.4 440.6 286.1 441.4 286.4 442.1 286 442.9 286.6 443.6 286.3 444.4 286.4 445.1 286.1 445.9 286.3 446.6 286.1 447.4 285.9 448.1 285.8 448.9 286.5 449.6 286.2 450.4 286.5 451.1 286.2 451.9 286.4 452.6 286 453.4 286.3 454.1 286.6 454.9 285.9 455.6 286.5 456.4 286.4 457.1 286.2 457.9 287 458.6 286.9 459.4 287.3 460.1 287.8 460.9 287.4 461.6 287.8 462.4 287.5 463.1 287.8 463.9 287.7 464.6 287.5 465.4 287.5 466.1 287.4 466.9 287.2 467.6 287.6 468.4 287.6 469.1 287.7 469.9 287.3 470.6 287.6 471.4 287.7 472.1 287.7 472.9 287.6 473.6 287.2 474.4 287.5 475.1 287.2 475.9 287.5 476.6 287.4 477.4 287.7 478.1 287.6 478.9 287.3 479.6 287.8 480.4 287.4 481.1 286.9 481.9 286.6 482.6 286.6 483.4 286.7 484.1 286.4 484.9 286.8 485.6 286.6 486.4 286.6 487.1 286.7 487.9 285.9 488.6 286.1 489.4 285.9 490.1 286.5 490.9 286.4 491.6 286.3 492.4 286.2 493.1 285.9 493.9 285.9 494.6 285.9 495.4 286.6 496.1 286.6 496.9 286.3 497.6 286.3 498.4 286.6 499.1 286.3 499.9 286.7 500.6 286 501.4 286.8 502.1 286.6 502.9 286.5 503.6 286.4 504.4 287.5 505.1 287.5 505.9 287.7 506.6 287.7 507.4 287.1 508.1 287.3 508.9 287.3 509.6 287.6 510.4 287.1 511.1 287.1 511.9 287.4 512.6 287.7 513.4 287.9 514.1 287.5 514.9 287.5 515.6 287.2 516.4 287.1 517.1 287.2 517.9 287.7 518.6 287.1 519.4 287.4 520.1 287.9 520.9 287.7 521.6 287.1 522.4 287.2 523.1 287.2 523.9 287.2 524.6 287.2 525.4 286.1 526.1 286.4 526.9 286 527.6 286.3 528.4 286.2 529.1 286.2 529.9 285.9 530.6 285.9 531.4 286.3 532.1 285.9 532.9 286.5 533.6 286.3 534.4 286.3 535.1 286.6 535.9 286.3 536.6 286.6 537.4 285.8 538.1 285.9 538.9 286.2 539.6 286.6 540.4 286.4 541.1 286 541.9 286.4 542.6 286.5 543.4 286.3 544.1 286.1 544.9 286.5 545.6 286.4 546.4 286.3 547.1 286 547.9 286.6 548.6 285.9 549.4 286.4 550.1 286.7 550.9 287.8 551.6 287.2 552.4 287.5 553.1 287.8 553.9 287.2 554.6 287.2 555.4 287.8 556.1 287.2 556.9 287.1 557.6 287.6 558.4 287.3 559.1 287.3 559.9 287.4 560.6 287.6 561.4 287.6 562.1 287.2 562.9 287.3 563.6 287.1 564.4 287.8 565.1 287.4 565.9 287.3 566.6 287.7 567.4 287.9 568.1 287.2 568.9 287.3 569.6 287.3 570.4 287.6 571.1 287.5 571.9 286.9 572.6 286.7 573.4 286 574.1 286 574.9 286.2 575.6 285.8 576.4 286.1 577.1 285.9 577.9 286.4 578.6 286.3 579.4 286.4 580.1 286.2 580.9 286 581.6 285.8 582.4 285.9 583.1 285.9 583.9 285.8 584.6 286 585.4 286 586.1 286.5 586.9 286.3 587.6 286.2 588.4 286.5 589.1 285.9 589.9 286.3 590.6 286.4 591.4 286.5 592.1 286.2 592.9 286.3 593.6 285.8 594.4 286.1 595.1 286.3 595.9 287.2 596.6 287.9 597.4 287.3 598.1 287.4 598.9 287.5 599.6 287.5 600.4 287.6 601.1 287.2 601.9 287.9 602.6 287.7 603.4 287.3 604.1 287.6 604.9 287.6 605.6 287.6 606.4 287.7 607.1 287.3 607.9 287.8 608.6 287.5 609.4 287.3 610.1 287.6 610.9 287.3 611.6 287.6 612.4 287.4 613.1 287.8 613.9 287.6 614.6 287.5 615.4 287.4 616.1 287.5 616.9 287.7 617.6 286.9 618.4 286.2 619.1 286.5 619.9 286.9 620.6 286.2 621.4 286.6 622.1 287 622.9 286.5 623.6 286.4 624.4 286.2 625.1 286 625.9 286.1 626.6 285.9 627.4 285.9 628.1 286.4 628.9 286.3 629.6 285.8 630.4 285.8 631.1 286.1 631.9 286.1 632.6 286.3 633.4 286.5 634.1 286.3 634.9 286.4 635.6 286.1 636.4 286.1 637.1 286.1 637.9 285.9 638.6 286.6 639.4 286.4 640.1 286.6 640.9 286.7 641.6 286.3 642.4 286.8 643.1 286.9 643.9 287.8 644.6 287.6 645.4 287.3 646.1 287.7 646.9 287.3 647.6 287.4 648.4 287.4 649.1 287.9 649.9 287.6 650.6 287.1 651.4 287.6 652.1 287.7 652.9 287.1 653.6 287.4 654.4 287.3 655.1 287.5 655.9 287.4 656.6 287.6 657.4 287.7 658.1 287.7 658.9 287.7 659.6 287.3 660.4 287.8 661.1 287.8 661.9 287.5 662.6 287.1 663.4 287.3 663.4 288.2 662.6 288.3 661.9 288.3 661.1 288.3 660.4 288.3 659.6 288.2 658.9 288.3 658.1 288.3 657.4 288.3 656.6 288.3 655.9 288.2 655.1 288.3 654.4 288.3 653.6 288.3 652.9 287.9 652.1 288.1 651.4 288.3 650.6 288.2 649.9 288.3 649.1 288.3 648.4 288.3 647.6 288.1 646.9 288.3 646.1 288.2 645.4 288.3 644.6 288.3 643.9 288.3 643.1 287.8 642.4 287.8 641.6 287.5 640.9 287.7 640.1 287.8 639.4 287.7 638.6 288.1 637.9 287.5 637.1 287.7 636.4 287.5 635.6 287.7 634.9 287.7 634.1 287.9 633.4 288 632.6 287.8 631.9 287.9 631.1 287.4 630.4 287.4 629.6 287.5 628.9 287.7 628.1 287.9 627.4 287.3 626.6 287.7 625.9 288 625.1 287.9 624.4 287.4 623.6 287.9 622.9 287.8 622.1 288.3 621.4 287.7 620.6 287.7 619.9 288.1 619.1 287.6 618.4 287.9 617.6 288.2 616.9 288.3 616.1 288.3 615.4 288.2 614.6 288.3 613.9 288.2 613.1 288.3 612.4 288.3 611.6 288.3 610.9 288 610.1 288.3 609.4 288.1 608.6 288.1 607.9 288.3 607.1 288.3 606.4 288.3 605.6 288.2 604.9 288.3 604.1 288.1 603.4 288.3 602.6 288.3 601.9 288.3 601.1 287.9 600.4 288.3 599.6 288.1 598.9 288.3 598.1 288.3 597.4 288.1 596.6 288.3 595.9 287.9 595.1 287.9 594.4 287.8 593.6 287.3 592.9 287.6 592.1 287.9 591.4 288.1 590.6 287.6 589.9 288 589.1 287.4 588.4 287.6 587.6 287.9 586.9 288 586.1 288 585.4 287.8 584.6 287.7 583.9 287.2 583.1 287.5 582.4 287.4 581.6 287.6 580.9 287.6 580.1 287.8 579.4 287.9 578.6 287.8 577.9 287.9 577.1 287.8 576.4 287.6 575.6 287.5 574.9 288 574.1 287.8 573.4 287.6 572.6 288.2 571.9 288.1 571.1 288.3 570.4 288.3 569.6 288.3 568.9 288.3 568.1 288.2 567.4 288.3 566.6 288.3 565.9 288.2 565.1 288.3 564.4 288.3 563.6 288.3 562.9 288.3 562.1 288 561.4 288.1 560.6 288.3 559.9 288.2 559.1 288.3 558.4 288.1 557.6 288.3 556.9 288 556.1 288.1 555.4 288.3 554.6 288 553.9 288.3 553.1 288.2 552.4 288.3 551.6 287.9 550.9 288.3 550.1 287.9 549.4 287.7 548.6 287.5 547.9 287.8 547.1 287.6 546.4 287.8 545.6 288.1 544.9 287.8 544.1 287.7 543.4 287.8 542.6 288.1 541.9 287.6 541.1 287.8 540.4 287.8 539.6 288.1 538.9 287.6 538.1 287.6 537.4 287.5 536.6 287.9 535.9 287.5 535.1 288 534.4 288.1 533.6 287.6 532.9 287.7 532.1 287.6 531.4 287.9 530.6 287.8 529.9 287.5 529.1 287.8 528.4 287.8 527.6 288 526.9 287.6 526.1 287.7 525.4 287.6 524.6 288.2 523.9 288.3 523.1 288.3 522.4 287.9 521.6 287.9 520.9 288.3 520.1 288.3 519.4 288.1 518.6 288.2 517.9 288.3 517.1 288.1 516.4 288 515.6 288.1 514.9 288.1 514.1 288.3 513.4 288.3 512.6 288.3 511.9 288.3 511.1 288.3 510.4 288.2 509.6 288.3 508.9 288.1 508.1 288.3 507.4 288.2 506.6 288.3 505.9 288.3 505.1 288.2 504.4 288.3 503.6 287.7 502.9 288 502.1 288 501.4 287.8 500.6 287.4 499.9 287.6 499.1 287.6 498.4 288.2 497.6 287.7 496.9 287.8 496.1 287.9 495.4 287.6 494.6 287.6 493.9 287.3 493.1 287.6 492.4 287.6 491.6 287.6 490.9 288.1 490.1 288 489.4 287.5 488.6 287.6 487.9 287.5 487.1 287.8 486.4 287.7 485.6 287.8 484.9 288.1 484.1 287.9 483.4 287.9 482.6 287.9 481.9 287.8 481.1 288.1 480.4 288.2 479.6 288.3 478.9 288 478.1 288.3 477.4 288.3 476.6 288.3 475.9 288.3 475.1 288.3 474.4 288.1 473.6 288.2 472.9 288.3 472.1 288.3 471.4 288.3 470.6 288.3 469.9 288.3 469.1 288.3 468.4 288.3 467.6 288.3 466.9 287.9 466.1 288.3 465.4 288.3 464.6 288.3 463.9 288.3 463.1 288.3 462.4 288.3 461.6 288.3 460.9 288.3 460.1 288.3 459.4 288.3 458.6 288.1 457.9 287.9 457.1 287.7 456.4 287.6 455.6 287.9 454.9 287.6 454.1 287.8 453.4 288 452.6 287.4 451.9 287.8 451.1 287.6 450.4 287.7 449.6 287.5 448.9 288.1 448.1 287.3 447.4 287.5 446.6 287.8 445.9 287.8 445.1 287.7 444.4 287.8 443.6 287.6 442.9 287.9 442.1 287.6 441.4 287.7 440.6 287.6 439.9 287.8 439.1 287.9 438.4 287.8 437.6 287.6 436.9 287.8 436.1 288.3 435.4 288.2 434.6 288.2 433.9 288.3 433.1 288.3 432.4 288.3 431.6 288.3 430.9 288.3 430.1 288.1 429.4 288.3 428.6 288.1 427.9 288.3 427.1 288.3 426.4 288.2 425.6 288.3 424.9 288.3 424.1 288.3 423.4 288.1 422.6 288.3 421.9 288.3 421.1 288.1 420.4 288 419.6 288.3 418.9 288.3 418.1 288.2 417.4 288.2 416.6 288.3 415.9 288 415.1 288.3 414.4 288.3 413.6 287.5 412.9 287.6 412.1 288.3 411.4 288 410.6 288.2 409.9 287.9 409.1 287.9 408.4 288 407.6 287.9 406.9 287.8 406.1 287.6 405.4 287.5 404.6 287.7 403.9 287.5 403.1 287.8 402.4 287.6 401.6 287.4 400.9 287.4 400.1 288 399.4 287.5 398.6 287.8 397.9 287.9 397.1 287.9 396.4 287.4 395.6 288 394.9 287.5 394.1 287.7 393.4 288 392.6 287.7 391.9 287.9 391.1 288 390.4 288 389.6 287.9 388.9 288.1 388.1 288.3 387.4 288.3 386.6 288.3 385.9 287.9 385.1 288.2 384.4 288 383.6 288.2 382.9 288.3 382.1 288 381.4 288.1 380.6 288.3 379.9 288.3 379.1 288.3 378.4 288.2 377.6 288.3 376.9 288.3 376.1 288.3 375.4 288.2 374.6 288.3 373.9 288.3 373.1 288.1 372.4 288.3 371.6 288.3 370.9 288.3 370.1 288.3 369.4 288.3 368.6 288.3 367.9 288.3 367.1 287.9 366.4 288 365.6 287.7 364.9 287.3 364.1 287.6 363.4 287.7 362.6 287.7 361.9 287.9 361.1 287.7 360.4 287.9 359.6 287.6 358.9 287.4 358.1 287.4 357.4 287.8 356.6 287.5 355.9 287.6 355.1 287.9 354.4 287.7 353.6 287.6 352.9 288.1 352.1 287.8 351.4 287.9 350.6 287.8 349.9 287.5 349.1 287.7 348.4 287.3 347.6 287.9 346.9 287.8 346.1 287.8 345.4 287.6 344.6 287.6 343.9 287.5 343.1 288.2 342.4 288.3 341.6 288.1 340.9 288.3 340.1 288.3 339.4 288.3 338.6 288.3 337.9 288.3 337.1 288.3 336.4 288.3 335.6 288.1 334.9 288.2 334.1 288.2 333.4 288.2 332.6 288.3 331.9 288.3 331.1 288.3 330.4 288.3 329.6 288.3 328.9 288.3 328.1 288.3 327.4 288.1 326.6 288.3 325.9 288.3 325.1 287.7 324.4 287.7 323.6 287.8 322.9 287.3 322.1 287.5 321.4 287.3 320.6 287.6 319.9 288.1 319.1 288 318.4 287.9 317.6 287.8 316.9 287.8 316.1 287.9 315.4 287.5 314.6 287.8 313.9 287.6 313.1 287.7 312.4 287.8 311.6 287.8 310.9 287.8 310.1 287.6 309.4 287.6 308.6 288 307.9 287.7 307.1 287.8 306.4 288.2 305.6 287.7 304.9 287.7 304.1 287.8 303.4 287.7 302.6 288.1 301.9 288.2 301.1 288.3 300.4 288.3 299.6 288.2 298.9 288.3 298.1 288.3 297.4 288.3 296.6 288.3 295.9 288.3 295.1 288.3 294.4 288.3 293.6 288.2 292.9 288.3 292.1 288.3 291.4 288.3 290.6 288 289.9 288.3 289.1 288.3 288.4 288.2 287.6 288.3 286.9 288.3 286.1 288.3 285.4 288.3 284.6 288.2 283.9 288.3 283.1 287.9 282.4 288.2 281.6 288.3 280.9 288.1 280.1 288.1 279.4 287.5 278.6 288 277.9 287.7 277.1 288.1 276.4 287.6 275.6 287.8 274.9 287.7 274.1 287.5 273.4 287.9 272.6 287.8 271.9 287.3 271.1 288.1 270.4 287.4 269.6 287.8 268.9 287.4 268.1 287.8 267.4 287.7 266.6 287.8 265.9 287.8 265.1 287.9 264.4 287.8 263.6 287.7 262.9 287.7 262.1 287.9 261.4 287.9 260.6 287.8 259.9 287.8 259.1 287.6 258.4 287.8 257.6 288.2 256.9 287.7 256.1 288.1 255.4 288.3 254.7 288.3 253.9 288.3 253.2 288.3 252.4 288.3 251.7 288.1 250.9 288.1 250.2 288.3 249.4 288.3 248.7 288.3 247.9 288.3 247.2 288.3 246.4 288.3 245.7 288.3 244.9 288.3 244.2 288.3 243.4 288.3 242.7 288.3 241.9 288.1 241.2 288.1 240.4 288.1 239.7 288.3 238.9 288.3 238.2 288.3 237.4 288.3 236.7 288.1 235.9 288.3 235.2 288.2 234.4 288.1 233.7 288.3 232.9 288.3 232.2 288.3 231.4 287.8 230.7 288.3 229.9 288.1 229.2 287.8 228.4 288 227.7 288.1 226.9 288 226.2 287.8 225.4 287.9 224.7 287.7 223.9 287.6 223.2 287.9 222.4 288 221.7 287.9 220.9 287.8 220.2 287.7 219.4 288 218.7 287.9 217.9 288.1 217.2 288 216.4 288.1 215.7 286.7 214.9 285.7 214.2 286 213.4 286.1 212.7 286.1 211.9 286.6 211.2 286.1 210.4 285.8 209.7 286.1 208.9 286.1 208.2 286.1 207.4 286.6 206.7 286.5 205.9 286.2 205.2 286.2 204.4 285.6 203.7 285.7 202.9 286 202.2 285.5 201.4 285.8 200.7 285.8 199.9 286.3 199.2 286.3 198.4 285.4 197.7 285.7 196.9 286.2 196.2 285.8 195.4 286.1 Z" fill="#1a1af0" fill-opacity="0.85" stroke="none"/>
<path d="M195.4 282.8 196.2 282.1 196.9 283.5 197.7 282.2 198.4 282.2 199.2 283.3 199.9 283.9 200.7 282.8 201.4 282.8 202.2 282.1 202.9 282.9 203.7 282.6 204.4 282.5 205.2 283.7 205.9 282.7 206.7 283.1 207.4 283.6 208.2 283.5 208.9 283.3 209.7 282.5 210.4 282.9 211.2 283.4 211.9 283.9 212.7 282.4 213.4 282.5 214.2 282.3 214.9 282.4 215.7 283.9 216.4 286.4 217.2 286.4 217.9 286.4 218.7 286.4 219.4 286.4 220.2 286 220.9 286.5 221.7 286.6 222.4 286.3 223.2 286.6 223.9 286.6 224.7 286.3 225.4 286.1 226.2 286.2 226.9 286.8 227.7 286.4 228.4 286.5 229.2 286.7 229.9 286.7 230.7 287 231.4 287.1 232.2 287.5 232.9 287.4 233.7 287.4 234.4 287.7 235.2 287.4 235.9 287.7 236.7 287.3 237.4 287.7 238.2 287.4 238.9 287.3 239.7 287.3 240.4 287.5 241.2 287.2 241.9 287.1 242.7 287.3 243.4 287.6 244.2 287.7 244.9 287.4 245.7 287.8 246.4 287.8 247.2 287.8 247.9 287.4 248.7 287.6 249.4 287.2 250.2 287.3 250.9 287.5 251.7 287.6 252.4 287.6 253.2 287.9 253.9 287.8 254.7 287 255.4 287.3 256.1 287.5 256.9 286.6 257.6 287 258.4 286.3 259.1 286.3 259.9 285.8 260.6 286.7 261.4 286.2 262.1 286.1 262.9 286.6 263.6 285.9 264.4 286.3 265.1 286.1 265.9 286.5 266.6 286.5 267.4 286.5 268.1 286 268.9 285.8 269.6 285.9 270.4 286.2 271.1 286.5 271.9 286 272.6 286.2 273.4 286 274.1 286.1 274.9 286.1 275.6 286.5 276.4 286.5 277.1 286.5 277.9 286.3 278.6 286.4 279.4 286.3 280.1 287.5 280.9 287.3 281.6 287.8 282.4 287.8 283.1 287.2 283.9 287.7 284.6 287.4 285.4 287.4 286.1 287.6 286.9 287.6 287.6 287.8 288.4 287.3 289.1 287.6 289.9 287.4 290.6 287.2 291.4 287.8 292.1 287.6 292.9 287.6 293.6 287.2 294.4 287.4 295.1 287.7 295.9 287.5 296.6 287.9 297.4 287.5 298.1 287.8 298.9 287.8 299.6 287.5 300.4 287.5 301.1 287.7 301.9 286.8 302.6 286.4 303.4 286 304.1 286.6 304.9 285.9 305.6 286.2 306.4 286.6 307.1 286.4 307.9 286.1 308.6 286.5 309.4 285.9 310.1 286.5 310.9 286.3 311.6 286.5 312.4 286.2 313.1 285.8 313.9 286.5 314.6 286.5 315.4 286.2 316.1 286.1 316.9 286.5 317.6 286.4 318.4 286.1 319.1 286.4 319.9 286.6 320.6 286 321.4 285.9 322.1 286 322.9 285.9 323.6 286.4 324.4 286.4 325.1 286.3 325.9 286.9 326.6 287.4 327.4 287.5 328.1 287.7 328.9 287.7 329.6 287.8 330.4 287.9 331.1 287.4 331.9 287.8 332.6 287.2 333.4 287.1 334.1 287.8 334.9 287.1 335.6 287.4 336.4 287.8 337.1 287.5 337.9 287.5 338.6 287.6 339.4 287.8 340.1 287.6 340.9 287.8 341.6 287.5 342.4 287.4 343.1 287.5 343.9 286 344.6 285.9 345.4 286.2 346.1 286 346.9 286.3 347.6 286 348.4 286 349.1 286.3 349.9 286 350.6 286.3 351.4 286.5 352.1 286.3 352.9 286.5 353.6 286 354.4 286.4 355.1 286.2 355.9 286 356.6 286.1 357.4 285.9 358.1 286 358.9 286 359.6 286 360.4 286 361.1 285.9 361.9 286.1 362.6 286.1 363.4 286.2 364.1 286.2 364.9 285.8 365.6 286.4 366.4 286.4 367.1 286.5 367.9 287.2 368.6 287.3 369.4 287.4 370.1 287.9 370.9 287.7 371.6 287.4 372.4 287.6 373.1 287.4 373.9 287.5 374.6 287.8 375.4 287.3 376.1 287 376.9 287.7 377.6 287.3 378.4 287.3 379.1 287.3 379.9 287.3 380.6 287.4 381.4 287 382.1 287 382.9 287.4 383.6 287.1 384.4 287.2 385.1 287.1 385.9 286.9 386.6 287.8 387.4 287.7 388.1 287.7 388.9 287.2 389.6 286.9 390.4 286.7 391.1 286.5 391.9 286.4 392.6 286.1 393.4 286.5 394.1 286.3 394.9 285.9 395.6 286.5 396.4 286 397.1 286.4 397.9 286.1 398.6 286 399.4 286.4 400.1 286.4 400.9 285.9 401.6 286 402.4 285.8 403.1 286.5 403.9 286.1 404.6 286 405.4 285.8 406.1 286 406.9 286.4 407.6 286.5 408.4 286.5 409.1 286.4 409.9 286.4 410.6 286.9 411.4 286.8 412.1 287.2 412.9 286.5 413.6 286.2 414.4 287.4 415.1 287.5 415.9 287.1 416.6 287.6 417.4 287.5 418.1 287.3 418.9 287.9 419.6 287.2 420.4 287.3 421.1 287.3 421.9 287.6 422.6 287.5 423.4 287.1 424.1 287.9 424.9 287.8 425.6 287.4 426.4 287.1 427.1 287.8 427.9 287.7 428.6 287.5 429.4 287.3 430.1 287.4 430.9 287.4 431.6 287.9 432.4 287.7 433.1 287.4 433.9 287.3 434.6 287.8 435.4 287.6 436.1 286.8 436.9 286.5 437.6 286.6 438.4 286.8 439.1 286.8 439.9 286.4 440.6 286.1 441.4 286.4 442.1 286 442.9 286.6 443.6 286.3 444.4 286.4 445.1 286.1 445.9 286.3 446.6 286.1 447.4 285.9 448.1 285.8 448.9 286.5 449.6 286.2 450.4 286.5 451.1 286.2 451.9 286.4 452.6 286 453.4 286.3 454.1 286.6 454.9 285.9 455.6 286.5 456.4 286.4 457.1 286.2 457.9 287 458.6 286.9 459.4 287.3 460.1 287.8 460.9 287.4 461.6 287.8 462.4 287.5 463.1 287.8 463.9 287.7 464.6 287.5 465.4 287.5 466.1 287.4 466.9 287.2 467.6 287.6 468.4 287.6 469.1 287.7 469.9 287.3 470.6 287.6 471.4 287.7 472.1 287.7 472.9 287.6 473.6 287.2 474.4 287.5 475.1 287.2 475.9 287.5 476.6 287.4 477.4 287.7 478.1 287.6 478.9 287.3 479.6 287.8 480.4 287.4 481.1 286.9 481.9 286.6 482.6 286.6 483.4 286.7 484.1 286.4 484.9 286.8 485.6 286.6 486.4 286.6 487.1 286.7 487.9 285.9 488.6 286.1 489.4 285.9 490.1 286.5 490.9 286.4 491.6 286.3 492.4 286.2 493.1 285.9 493.9 285.9 494.6 285.9 495.4 286.6 496.1 286.6 496.9 286.3 497.6 286.3 498.4 286.6 499.1 286.3 499.9 286.7 500.6 286 501.4 286.8 502.1 286.6 502.9 286.5 503.6 286.4 504.4 287.5 505.1 287.5 505.9 287.7 506.6 287.7 507.4 287.1 508.1 287.3 508.9 287.3 509.6 287.6 510.4 287.1 511.1 287.1 511.9 287.4 512.6 287.7 513.4 287.9 514.1 287.5 514.9 287.5 515.6 287.2 516.4 287.1 517.1 287.2 517.9 287.7 518.6 287.1 519.4 287.4 520.1 287.9 520.9 287.7 521.6 287.1 522.4 287.2 523.1 287.2 523.9 287.2 524.6 287.2 525.4 286.1 526.1 286.4 526.9 286 527.6 286.3 528.4 286.2 529.1 286.2 529.9 285.9 530.6 285.9 531.4 286.3 532.1 285.9 532.9 286.5 533.6 286.3 534.4 286.3 535.1 286.6 535.9 286.3 536.6 286.6 537.4 285.8 538.1 285.9 538.9 286.2 539.6 286.6 540.4 286.4 541.1 286 541.9 286.4 542.6 286.5 543.4 286.3 544.1 286.1 544.9 286.5 545.6 286.4 546.4 286.3 547.1 286 547.9 286.6 548.6 285.9 549.4 286.4 550.1 286.7 550.9 287.8 551.6 287.2 552.4 287.5 553.1 287.8 553.9 287.2 554.6 287.2 555.4 287.8 556.1 287.2 556.9 287.1 557.6 287.6 558.4 287.3 559.1 287.3 559.9 287.4 560.6 287.6 561.4 287.6 562.1 287.2 562.9 287.3 563.6 287.1 564.4 287.8 565.1 287.4 565.9 287.3 566.6 287.7 567.4 287.9 568.1 287.2 568.9 287.3 569.6 287.3 570.4 287.6 571.1 287.5 571.9 286.9 572.6 286.7 573.4 286 574.1 286 574.9 286.2 575.6 285.8 576.4 286.1 577.1 285.9 577.9 286.4 578.6 286.3 579.4 286.4 580.1 286.2 580.9 286 581.6 285.8 582.4 285.9 583.1 285.9 583.9 285.8 584.6 286 585.4 286 586.1 286.5 586.9 286.3 587.6 286.2 588.4 286.5 589.1 285.9 589.9 286.3 590.6 286.4 591.4 286.5 592.1 286.2 592.9 286.3 593.6 285.8 594.4 286.1 595.1 286.3 595.9 287.2 596.6 287.9 597.4 287.3 598.1 287.4 598.9 287.5 599.6 287.5 600.4 287.6 601.1 287.2 601.9 287.9 602.6 287.7 603.4 287.3 604.1 287.6 604.9 287.6 605.6 287.6 606.4 287.7 607.1 287.3 607.9 287.8 608.6 287.5 609.4 287.3 610.1 287.6 610.9 287.3 611.6 287.6 612.4 287.4 613.1 287.8 613.9 287.6 614.6 287.5 615.4 287.4 616.1 287.5 616.9 287.7 617.6 286.9 618.4 286.2 619.1 286.5 619.9 286.9 620.6 286.2 621.4 286.6 622.1 287 622.9 286.5 623.6 286.4 624.4 286.2 625.1 286 625.9 286.1 626.6 285.9 627.4 285.9 628.1 286.4 628.9 286.3 629.6 285.8 630.4 285.8 631.1 286.1 631.9 286.1 632.6 286.3 633.4 286.5 634.1 286.3 634.9 286.4 635.6 286.1 636.4 286.1 637.1 286.1 637.9 285.9 638.6 286.6 639.4 286.4 640.1 286.6 640.9 286.7 641.6 286.3 642.4 286.8 643.1 286.9 643.9 287.8 644.6 287.6 645.4 287.3 646.1 287.7 646.9 287.3 647.6 287.4 648.4 287.4 649.1 287.9 649.9 287.6 650.6 287.1 651.4 287.6 652.1 287.7 652.9 287.1 653.6 287.4 654.4 287.3 655.1 287.5 655.9 287.4 656.6 287.6 657.4 287.7 658.1 287.7 658.9 287.7 659.6 287.3 660.4 287.8 661.1 287.8 661.9 287.5 662.6 287.1 663.4 287.3" fill="none" stroke="#1414ee" stroke-width="0.5"/>
<path d="M195.4 184.5 V289.8" stroke="#acbbc2" stroke-width="0.6" fill="none"/>
<path d="M194.4 288.80 H711.8" stroke="#d3dadd" stroke-width="0.9" fill="none"/>
<path d="M195.40 182.90 l-1.5 2 h3z" fill="#acbbc2"/>
<path d="M195.4 288.50 H663.6" stroke="#3a0a6e" stroke-width="0.9" fill="none"/>
<path d="M195.4 288.55 H217" stroke="#a0222a" stroke-width="0.8" fill="none"/>
<text class="d" transform="translate(339.5 333.4) rotate(0.03)" font-size="6" fill="#1f2c33" text-anchor="middle">посл</text>
<text class="d" transform="translate(386 333.4) rotate(0.03)" font-size="6" fill="#1f2c33" text-anchor="middle">мин</text>
<text class="d" transform="translate(439.6 333.4) rotate(0.03)" font-size="6" fill="#1f2c33" text-anchor="middle">сред</text>
<text class="d" transform="translate(497 333.4) rotate(0.03)" font-size="6" fill="#1f2c33" text-anchor="middle">макс</text>
<rect x="157.3" y="335.75" width="5.5" height="5.1" fill="#cfcf1a" stroke="#222" stroke-opacity="0.55" stroke-width="0.5"/>
<text class="d" transform="translate(165.6 340.4) rotate(0.03)" font-size="6" fill="#1f2c33">MySQL begin operations per second</text>
<text class="d" transform="translate(290.2 340.4) rotate(0.03)" font-size="6" fill="#1f2c33">[сред]</text>
<text class="d" transform="translate(358.8 340.4) rotate(0.03)" font-size="6.2" fill="#1f2c33" text-anchor="end">0.0006 qps</text>
<text class="d" transform="translate(404.2 340.4) rotate(0.03)" font-size="6.2" fill="#1f2c33" text-anchor="end">0 qps</text>
<text class="d" transform="translate(465.3 340.4) rotate(0.03)" font-size="6.2" fill="#1f2c33" text-anchor="end">0.000388 qps</text>
<text class="d" transform="translate(518.6 340.4) rotate(0.03)" font-size="6.2" fill="#1f2c33" text-anchor="end">0.4166 qps</text>
<rect x="157.3" y="342.75" width="5.5" height="5.1" fill="#147014" stroke="#222" stroke-opacity="0.55" stroke-width="0.5"/>
<text class="d" transform="translate(165.6 347.4) rotate(0.03)" font-size="6" fill="#1f2c33">MySQL commit operations per second</text>
<text class="d" transform="translate(290.2 347.4) rotate(0.03)" font-size="6" fill="#1f2c33">[сред]</text>
<text class="d" transform="translate(358.8 347.4) rotate(0.03)" font-size="6.2" fill="#1f2c33" text-anchor="end">0.00056 qps</text>
<text class="d" transform="translate(404.2 347.4) rotate(0.03)" font-size="6.2" fill="#1f2c33" text-anchor="end">0 qps</text>
<text class="d" transform="translate(465.3 347.4) rotate(0.03)" font-size="6.2" fill="#1f2c33" text-anchor="end">0.0003733 qps</text>
<text class="d" transform="translate(518.6 347.4) rotate(0.03)" font-size="6.2" fill="#1f2c33" text-anchor="end">0.4102 qps</text>
<rect x="157.3" y="349.75" width="5.5" height="5.1" fill="#d21a1a" stroke="#222" stroke-opacity="0.55" stroke-width="0.5"/>
<text class="d" transform="translate(165.6 354.4) rotate(0.03)" font-size="6" fill="#1f2c33">MySQL delete operations per second</text>
<text class="d" transform="translate(290.2 354.4) rotate(0.03)" font-size="6" fill="#1f2c33">[сред]</text>
<text class="d" transform="translate(358.8 354.4) rotate(0.03)" font-size="6.2" fill="#1f2c33" text-anchor="end">0.0724 qps</text>
<text class="d" transform="translate(404.2 354.4) rotate(0.03)" font-size="6.2" fill="#1f2c33" text-anchor="end">0 qps</text>
<text class="d" transform="translate(465.3 354.4) rotate(0.03)" font-size="6.2" fill="#1f2c33" text-anchor="end">0.09969 qps</text>
<text class="d" transform="translate(518.6 354.4) rotate(0.03)" font-size="6.2" fill="#1f2c33" text-anchor="end">119.8072 qps</text>
<rect x="157.3" y="356.75" width="5.5" height="5.1" fill="#1a1af0" stroke="#222" stroke-opacity="0.55" stroke-width="0.5"/>
<text class="d" transform="translate(165.6 361.4) rotate(0.03)" font-size="6" fill="#1f2c33">MySQL insert operations per second</text>
<text class="d" transform="translate(290.2 361.4) rotate(0.03)" font-size="6" fill="#1f2c33">[сред]</text>
<text class="d" transform="translate(358.8 361.4) rotate(0.03)" font-size="6.2" fill="#1f2c33" text-anchor="end">2.3078 qps</text>
<text class="d" transform="translate(404.2 361.4) rotate(0.03)" font-size="6.2" fill="#1f2c33" text-anchor="end">0 qps</text>
<text class="d" transform="translate(465.3 361.4) rotate(0.03)" font-size="6.2" fill="#1f2c33" text-anchor="end">3.9054 qps</text>
<text class="d" transform="translate(518.6 361.4) rotate(0.03)" font-size="6.2" fill="#1f2c33" text-anchor="end">365.4537 qps</text>
<rect x="157.3" y="363.75" width="5.5" height="5.1" fill="#701414" stroke="#222" stroke-opacity="0.55" stroke-width="0.5"/>
<text class="d" transform="translate(165.6 368.4) rotate(0.03)" font-size="6" fill="#1f2c33">MySQL rollback operations per second</text>
<text class="d" transform="translate(290.2 368.4) rotate(0.03)" font-size="6" fill="#1f2c33">[сред]</text>
<text class="d" transform="translate(358.8 368.4) rotate(0.03)" font-size="6.2" fill="#1f2c33" text-anchor="end">0.00006 qps</text>
<text class="d" transform="translate(404.2 368.4) rotate(0.03)" font-size="6.2" fill="#1f2c33" text-anchor="end">0 qps</text>
<text class="d" transform="translate(465.3 368.4) rotate(0.03)" font-size="6.2" fill="#1f2c33" text-anchor="end">0.00001589 qps</text>
<text class="d" transform="translate(518.6 368.4) rotate(0.03)" font-size="6.2" fill="#1f2c33" text-anchor="end">0.1009 qps</text>
<rect x="157.3" y="370.75" width="5.5" height="5.1" fill="#1ad01a" stroke="#222" stroke-opacity="0.55" stroke-width="0.5"/>
<text class="d" transform="translate(165.6 375.4) rotate(0.03)" font-size="6" fill="#1f2c33">MySQL select operations per second</text>
<text class="d" transform="translate(290.2 375.4) rotate(0.03)" font-size="6" fill="#1f2c33">[сред]</text>
<text class="d" transform="translate(358.8 375.4) rotate(0.03)" font-size="6.2" fill="#1f2c33" text-anchor="end">81.9537 qps</text>
<text class="d" transform="translate(404.2 375.4) rotate(0.03)" font-size="6.2" fill="#1f2c33" text-anchor="end">0.3184 qps</text>
<text class="d" transform="translate(465.3 375.4) rotate(0.03)" font-size="6.2" fill="#1f2c33" text-anchor="end">58.7715 qps</text>
<text class="d" transform="translate(518.6 375.4) rotate(0.03)" font-size="6.2" fill="#1f2c33" text-anchor="end">2.14 Kqps</text>
<rect x="157.3" y="377.75" width="5.5" height="5.1" fill="#d01ad0" stroke="#222" stroke-opacity="0.55" stroke-width="0.5"/>
<text class="d" transform="translate(165.6 382.4) rotate(0.03)" font-size="6" fill="#1f2c33">MySQL update operations per second</text>
<text class="d" transform="translate(290.2 382.4) rotate(0.03)" font-size="6" fill="#1f2c33">[сред]</text>
<text class="d" transform="translate(358.8 382.4) rotate(0.03)" font-size="6.2" fill="#1f2c33" text-anchor="end">82.7396 qps</text>
<text class="d" transform="translate(404.2 382.4) rotate(0.03)" font-size="6.2" fill="#1f2c33" text-anchor="end">0.0164 qps</text>
<text class="d" transform="translate(465.3 382.4) rotate(0.03)" font-size="6.2" fill="#1f2c33" text-anchor="end">88.1753 qps</text>
<text class="d" transform="translate(518.6 382.4) rotate(0.03)" font-size="6.2" fill="#1f2c33" text-anchor="end">1.86 Kqps</text>
</g>
</svg>
</body></html>
